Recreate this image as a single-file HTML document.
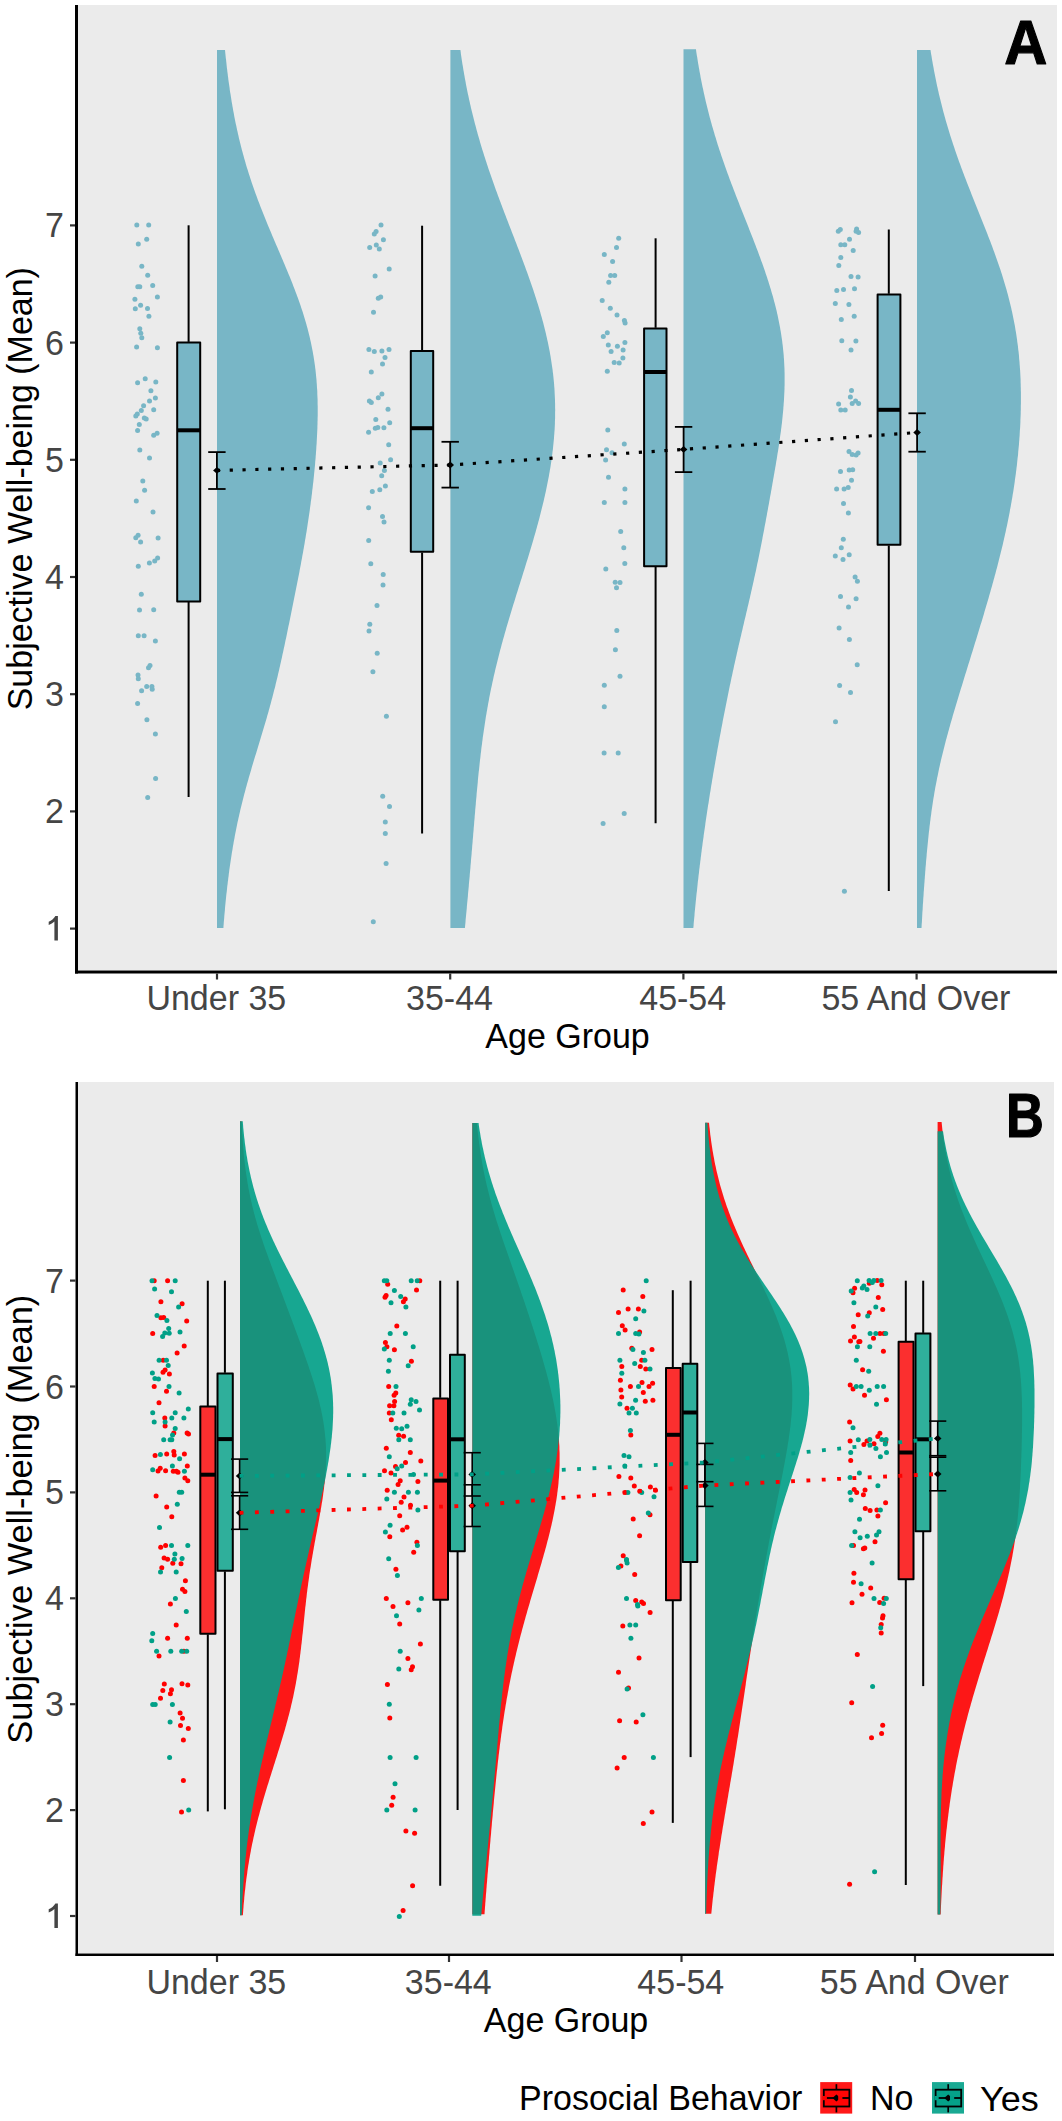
<!DOCTYPE html>
<html><head><meta charset="utf-8"><title>Raincloud plots</title>
<style>html,body{margin:0;padding:0;background:#fff;} body{width:1062px;height:2121px;overflow:hidden;} svg{display:block;}</style>
</head><body>
<svg xmlns="http://www.w3.org/2000/svg" width="1062" height="2121" viewBox="0 0 1062 2121">
<rect x="0" y="0" width="1062" height="2121" fill="#FFFFFF"/>
<g font-family='"Liberation Sans", sans-serif'>
<rect x="78" y="5" width="979" height="965" fill="#EBEBEB"/>
<circle cx="136.8" cy="225.0" r="2.5" fill="#78B6C6"/>
<circle cx="148.7" cy="225.0" r="2.5" fill="#78B6C6"/>
<circle cx="146.7" cy="239.2" r="2.5" fill="#78B6C6"/>
<circle cx="138.3" cy="243.9" r="2.5" fill="#78B6C6"/>
<circle cx="141.8" cy="266.2" r="2.5" fill="#78B6C6"/>
<circle cx="147.7" cy="275.3" r="2.5" fill="#78B6C6"/>
<circle cx="137.8" cy="286.7" r="2.5" fill="#78B6C6"/>
<circle cx="139.8" cy="286.7" r="2.5" fill="#78B6C6"/>
<circle cx="152.7" cy="285.4" r="2.5" fill="#78B6C6"/>
<circle cx="157.4" cy="296.9" r="2.5" fill="#78B6C6"/>
<circle cx="134.9" cy="299.3" r="2.5" fill="#78B6C6"/>
<circle cx="140.6" cy="305.2" r="2.5" fill="#78B6C6"/>
<circle cx="135.3" cy="308.8" r="2.5" fill="#78B6C6"/>
<circle cx="147.5" cy="308.5" r="2.5" fill="#78B6C6"/>
<circle cx="148.9" cy="316.2" r="2.5" fill="#78B6C6"/>
<circle cx="139.8" cy="328.8" r="2.5" fill="#78B6C6"/>
<circle cx="140.8" cy="333.3" r="2.5" fill="#78B6C6"/>
<circle cx="141.8" cy="337.7" r="2.5" fill="#78B6C6"/>
<circle cx="136.6" cy="347.1" r="2.5" fill="#78B6C6"/>
<circle cx="157.4" cy="347.8" r="2.5" fill="#78B6C6"/>
<circle cx="145.2" cy="378.8" r="2.5" fill="#78B6C6"/>
<circle cx="137.6" cy="382.8" r="2.5" fill="#78B6C6"/>
<circle cx="155.8" cy="382.1" r="2.5" fill="#78B6C6"/>
<circle cx="150.9" cy="390.7" r="2.5" fill="#78B6C6"/>
<circle cx="155.4" cy="397.9" r="2.5" fill="#78B6C6"/>
<circle cx="149.5" cy="400.9" r="2.5" fill="#78B6C6"/>
<circle cx="143.6" cy="405.8" r="2.5" fill="#78B6C6"/>
<circle cx="141.3" cy="410.5" r="2.5" fill="#78B6C6"/>
<circle cx="153.7" cy="409.8" r="2.5" fill="#78B6C6"/>
<circle cx="137.3" cy="414" r="2.5" fill="#78B6C6"/>
<circle cx="135.8" cy="416" r="2.5" fill="#78B6C6"/>
<circle cx="144.3" cy="417.9" r="2.5" fill="#78B6C6"/>
<circle cx="146.2" cy="418.9" r="2.5" fill="#78B6C6"/>
<circle cx="139.3" cy="424.4" r="2.5" fill="#78B6C6"/>
<circle cx="137.6" cy="430.6" r="2.5" fill="#78B6C6"/>
<circle cx="153.7" cy="435.2" r="2.5" fill="#78B6C6"/>
<circle cx="157.1" cy="433.3" r="2.5" fill="#78B6C6"/>
<circle cx="139.8" cy="450.1" r="2.5" fill="#78B6C6"/>
<circle cx="149.5" cy="458" r="2.5" fill="#78B6C6"/>
<circle cx="142.8" cy="481.1" r="2.5" fill="#78B6C6"/>
<circle cx="144.6" cy="490.2" r="2.5" fill="#78B6C6"/>
<circle cx="136.3" cy="500.9" r="2.5" fill="#78B6C6"/>
<circle cx="153" cy="512" r="2.5" fill="#78B6C6"/>
<circle cx="135.8" cy="537.7" r="2.5" fill="#78B6C6"/>
<circle cx="138.1" cy="535.2" r="2.5" fill="#78B6C6"/>
<circle cx="140.6" cy="542" r="2.5" fill="#78B6C6"/>
<circle cx="158.1" cy="538" r="2.5" fill="#78B6C6"/>
<circle cx="149.4" cy="563" r="2.5" fill="#78B6C6"/>
<circle cx="154.7" cy="561" r="2.5" fill="#78B6C6"/>
<circle cx="157.6" cy="558" r="2.5" fill="#78B6C6"/>
<circle cx="138.3" cy="566.2" r="2.5" fill="#78B6C6"/>
<circle cx="141.3" cy="594.2" r="2.5" fill="#78B6C6"/>
<circle cx="139.5" cy="610" r="2.5" fill="#78B6C6"/>
<circle cx="153.7" cy="609.8" r="2.5" fill="#78B6C6"/>
<circle cx="138.3" cy="635.7" r="2.5" fill="#78B6C6"/>
<circle cx="144.1" cy="635.7" r="2.5" fill="#78B6C6"/>
<circle cx="155.4" cy="641" r="2.5" fill="#78B6C6"/>
<circle cx="150" cy="665.4" r="2.5" fill="#78B6C6"/>
<circle cx="148.5" cy="667.7" r="2.5" fill="#78B6C6"/>
<circle cx="138" cy="674.9" r="2.5" fill="#78B6C6"/>
<circle cx="138.3" cy="678.8" r="2.5" fill="#78B6C6"/>
<circle cx="146.7" cy="686.4" r="2.5" fill="#78B6C6"/>
<circle cx="151.9" cy="686.4" r="2.5" fill="#78B6C6"/>
<circle cx="152.2" cy="689.2" r="2.5" fill="#78B6C6"/>
<circle cx="141.6" cy="690.7" r="2.5" fill="#78B6C6"/>
<circle cx="137.6" cy="703.4" r="2.5" fill="#78B6C6"/>
<circle cx="146.9" cy="719.7" r="2.5" fill="#78B6C6"/>
<circle cx="155.4" cy="734" r="2.5" fill="#78B6C6"/>
<circle cx="155.6" cy="778.6" r="2.5" fill="#78B6C6"/>
<circle cx="147.7" cy="797.4" r="2.5" fill="#78B6C6"/>
<circle cx="381" cy="225" r="2.5" fill="#78B6C6"/>
<circle cx="376.1" cy="231.6" r="2.5" fill="#78B6C6"/>
<circle cx="374.3" cy="234.1" r="2.5" fill="#78B6C6"/>
<circle cx="383.4" cy="239.7" r="2.5" fill="#78B6C6"/>
<circle cx="369.7" cy="247.4" r="2.5" fill="#78B6C6"/>
<circle cx="376.3" cy="244.9" r="2.5" fill="#78B6C6"/>
<circle cx="379.3" cy="248.9" r="2.5" fill="#78B6C6"/>
<circle cx="389.2" cy="269.1" r="2.5" fill="#78B6C6"/>
<circle cx="375.1" cy="276.1" r="2.5" fill="#78B6C6"/>
<circle cx="380.7" cy="297.1" r="2.5" fill="#78B6C6"/>
<circle cx="378.3" cy="298.3" r="2.5" fill="#78B6C6"/>
<circle cx="373.5" cy="312.3" r="2.5" fill="#78B6C6"/>
<circle cx="368.9" cy="349.6" r="2.5" fill="#78B6C6"/>
<circle cx="374.3" cy="351.4" r="2.5" fill="#78B6C6"/>
<circle cx="381.9" cy="351.1" r="2.5" fill="#78B6C6"/>
<circle cx="389" cy="349.6" r="2.5" fill="#78B6C6"/>
<circle cx="385" cy="357.5" r="2.5" fill="#78B6C6"/>
<circle cx="382.5" cy="364" r="2.5" fill="#78B6C6"/>
<circle cx="371.3" cy="371.9" r="2.5" fill="#78B6C6"/>
<circle cx="381.9" cy="394" r="2.5" fill="#78B6C6"/>
<circle cx="378.3" cy="397.8" r="2.5" fill="#78B6C6"/>
<circle cx="369.4" cy="401.1" r="2.5" fill="#78B6C6"/>
<circle cx="371.3" cy="402.6" r="2.5" fill="#78B6C6"/>
<circle cx="388" cy="409.3" r="2.5" fill="#78B6C6"/>
<circle cx="375.8" cy="419.4" r="2.5" fill="#78B6C6"/>
<circle cx="389.7" cy="422.7" r="2.5" fill="#78B6C6"/>
<circle cx="375.3" cy="428.3" r="2.5" fill="#78B6C6"/>
<circle cx="377.8" cy="427.6" r="2.5" fill="#78B6C6"/>
<circle cx="383.9" cy="427.8" r="2.5" fill="#78B6C6"/>
<circle cx="368.6" cy="432.3" r="2.5" fill="#78B6C6"/>
<circle cx="388.7" cy="444.7" r="2.5" fill="#78B6C6"/>
<circle cx="390.6" cy="459.7" r="2.5" fill="#78B6C6"/>
<circle cx="380.2" cy="463" r="2.5" fill="#78B6C6"/>
<circle cx="384.4" cy="470.6" r="2.5" fill="#78B6C6"/>
<circle cx="381.7" cy="475.8" r="2.5" fill="#78B6C6"/>
<circle cx="385.4" cy="486" r="2.5" fill="#78B6C6"/>
<circle cx="379.8" cy="489.7" r="2.5" fill="#78B6C6"/>
<circle cx="372.3" cy="491.4" r="2.5" fill="#78B6C6"/>
<circle cx="368.6" cy="507.8" r="2.5" fill="#78B6C6"/>
<circle cx="382.5" cy="516.4" r="2.5" fill="#78B6C6"/>
<circle cx="384" cy="522.1" r="2.5" fill="#78B6C6"/>
<circle cx="368.7" cy="540.5" r="2.5" fill="#78B6C6"/>
<circle cx="370.8" cy="563.7" r="2.5" fill="#78B6C6"/>
<circle cx="383.2" cy="574.4" r="2.5" fill="#78B6C6"/>
<circle cx="383" cy="585" r="2.5" fill="#78B6C6"/>
<circle cx="377" cy="605.5" r="2.5" fill="#78B6C6"/>
<circle cx="369.8" cy="624.3" r="2.5" fill="#78B6C6"/>
<circle cx="369" cy="631" r="2.5" fill="#78B6C6"/>
<circle cx="377.2" cy="653.2" r="2.5" fill="#78B6C6"/>
<circle cx="372.9" cy="671.7" r="2.5" fill="#78B6C6"/>
<circle cx="386.4" cy="716.2" r="2.5" fill="#78B6C6"/>
<circle cx="382.7" cy="796.2" r="2.5" fill="#78B6C6"/>
<circle cx="389.5" cy="806.6" r="2.5" fill="#78B6C6"/>
<circle cx="385.3" cy="821.9" r="2.5" fill="#78B6C6"/>
<circle cx="385.3" cy="833.4" r="2.5" fill="#78B6C6"/>
<circle cx="386.1" cy="863.4" r="2.5" fill="#78B6C6"/>
<circle cx="373.3" cy="921.7" r="2.5" fill="#78B6C6"/>
<circle cx="618.7" cy="238.3" r="2.5" fill="#78B6C6"/>
<circle cx="616.5" cy="247.5" r="2.5" fill="#78B6C6"/>
<circle cx="604.3" cy="254.5" r="2.5" fill="#78B6C6"/>
<circle cx="612.6" cy="261.4" r="2.5" fill="#78B6C6"/>
<circle cx="610.6" cy="275.6" r="2.5" fill="#78B6C6"/>
<circle cx="614.7" cy="275.6" r="2.5" fill="#78B6C6"/>
<circle cx="608.8" cy="282.2" r="2.5" fill="#78B6C6"/>
<circle cx="602.2" cy="300.4" r="2.5" fill="#78B6C6"/>
<circle cx="610.3" cy="308.3" r="2.5" fill="#78B6C6"/>
<circle cx="617" cy="314.9" r="2.5" fill="#78B6C6"/>
<circle cx="624.4" cy="320.5" r="2.5" fill="#78B6C6"/>
<circle cx="625.1" cy="323" r="2.5" fill="#78B6C6"/>
<circle cx="607.3" cy="332.7" r="2.5" fill="#78B6C6"/>
<circle cx="603.3" cy="336.6" r="2.5" fill="#78B6C6"/>
<circle cx="608.3" cy="345" r="2.5" fill="#78B6C6"/>
<circle cx="624.9" cy="342.5" r="2.5" fill="#78B6C6"/>
<circle cx="617.4" cy="346.2" r="2.5" fill="#78B6C6"/>
<circle cx="611.1" cy="351.5" r="2.5" fill="#78B6C6"/>
<circle cx="623.1" cy="349.9" r="2.5" fill="#78B6C6"/>
<circle cx="622.9" cy="358.1" r="2.5" fill="#78B6C6"/>
<circle cx="614.2" cy="362.6" r="2.5" fill="#78B6C6"/>
<circle cx="619.2" cy="363.1" r="2.5" fill="#78B6C6"/>
<circle cx="607.3" cy="371.3" r="2.5" fill="#78B6C6"/>
<circle cx="607.8" cy="429.9" r="2.5" fill="#78B6C6"/>
<circle cx="624.3" cy="444" r="2.5" fill="#78B6C6"/>
<circle cx="606.5" cy="449.7" r="2.5" fill="#78B6C6"/>
<circle cx="612" cy="452.7" r="2.5" fill="#78B6C6"/>
<circle cx="605.6" cy="459.9" r="2.5" fill="#78B6C6"/>
<circle cx="608.5" cy="477.2" r="2.5" fill="#78B6C6"/>
<circle cx="624.9" cy="489" r="2.5" fill="#78B6C6"/>
<circle cx="604.3" cy="502.4" r="2.5" fill="#78B6C6"/>
<circle cx="624.9" cy="502.4" r="2.5" fill="#78B6C6"/>
<circle cx="620.7" cy="531.4" r="2.5" fill="#78B6C6"/>
<circle cx="623.8" cy="547.7" r="2.5" fill="#78B6C6"/>
<circle cx="624.8" cy="563.6" r="2.5" fill="#78B6C6"/>
<circle cx="605.8" cy="569" r="2.5" fill="#78B6C6"/>
<circle cx="615.2" cy="582.2" r="2.5" fill="#78B6C6"/>
<circle cx="620" cy="582.4" r="2.5" fill="#78B6C6"/>
<circle cx="616.5" cy="587.8" r="2.5" fill="#78B6C6"/>
<circle cx="616.8" cy="630.5" r="2.5" fill="#78B6C6"/>
<circle cx="615.4" cy="649.7" r="2.5" fill="#78B6C6"/>
<circle cx="620" cy="676.2" r="2.5" fill="#78B6C6"/>
<circle cx="604.3" cy="685.3" r="2.5" fill="#78B6C6"/>
<circle cx="604.3" cy="706.7" r="2.5" fill="#78B6C6"/>
<circle cx="604.1" cy="753" r="2.5" fill="#78B6C6"/>
<circle cx="618.2" cy="753" r="2.5" fill="#78B6C6"/>
<circle cx="624.2" cy="813.4" r="2.5" fill="#78B6C6"/>
<circle cx="603.1" cy="823.5" r="2.5" fill="#78B6C6"/>
<circle cx="838.3" cy="231.3" r="2.5" fill="#78B6C6"/>
<circle cx="840.3" cy="229.4" r="2.5" fill="#78B6C6"/>
<circle cx="856.6" cy="228.9" r="2.5" fill="#78B6C6"/>
<circle cx="856.1" cy="231.3" r="2.5" fill="#78B6C6"/>
<circle cx="858.6" cy="232.6" r="2.5" fill="#78B6C6"/>
<circle cx="849.5" cy="239.3" r="2.5" fill="#78B6C6"/>
<circle cx="840.8" cy="244.7" r="2.5" fill="#78B6C6"/>
<circle cx="844.8" cy="244.7" r="2.5" fill="#78B6C6"/>
<circle cx="853.2" cy="250.6" r="2.5" fill="#78B6C6"/>
<circle cx="840.8" cy="257.6" r="2.5" fill="#78B6C6"/>
<circle cx="838.8" cy="265.5" r="2.5" fill="#78B6C6"/>
<circle cx="851" cy="276.4" r="2.5" fill="#78B6C6"/>
<circle cx="858.1" cy="276.9" r="2.5" fill="#78B6C6"/>
<circle cx="836.8" cy="290.4" r="2.5" fill="#78B6C6"/>
<circle cx="843.5" cy="289.5" r="2.5" fill="#78B6C6"/>
<circle cx="854.5" cy="288.8" r="2.5" fill="#78B6C6"/>
<circle cx="835.3" cy="303.6" r="2.5" fill="#78B6C6"/>
<circle cx="848.9" cy="304.6" r="2.5" fill="#78B6C6"/>
<circle cx="854.2" cy="316.3" r="2.5" fill="#78B6C6"/>
<circle cx="841.3" cy="319.5" r="2.5" fill="#78B6C6"/>
<circle cx="841.8" cy="340.7" r="2.5" fill="#78B6C6"/>
<circle cx="855.9" cy="340.9" r="2.5" fill="#78B6C6"/>
<circle cx="851" cy="350" r="2.5" fill="#78B6C6"/>
<circle cx="851.5" cy="390.4" r="2.5" fill="#78B6C6"/>
<circle cx="850.4" cy="397" r="2.5" fill="#78B6C6"/>
<circle cx="838.6" cy="404.1" r="2.5" fill="#78B6C6"/>
<circle cx="852.2" cy="403.6" r="2.5" fill="#78B6C6"/>
<circle cx="855.6" cy="401.1" r="2.5" fill="#78B6C6"/>
<circle cx="858.6" cy="403.6" r="2.5" fill="#78B6C6"/>
<circle cx="840.8" cy="410" r="2.5" fill="#78B6C6"/>
<circle cx="845.2" cy="410" r="2.5" fill="#78B6C6"/>
<circle cx="849" cy="451.4" r="2.5" fill="#78B6C6"/>
<circle cx="852.2" cy="454.6" r="2.5" fill="#78B6C6"/>
<circle cx="856.1" cy="455.1" r="2.5" fill="#78B6C6"/>
<circle cx="858.1" cy="453.1" r="2.5" fill="#78B6C6"/>
<circle cx="840.5" cy="471.4" r="2.5" fill="#78B6C6"/>
<circle cx="849.2" cy="470.1" r="2.5" fill="#78B6C6"/>
<circle cx="852.7" cy="469.7" r="2.5" fill="#78B6C6"/>
<circle cx="851.5" cy="480.3" r="2.5" fill="#78B6C6"/>
<circle cx="836.6" cy="489.1" r="2.5" fill="#78B6C6"/>
<circle cx="844.1" cy="489.1" r="2.5" fill="#78B6C6"/>
<circle cx="848.2" cy="487.5" r="2.5" fill="#78B6C6"/>
<circle cx="843.5" cy="503.6" r="2.5" fill="#78B6C6"/>
<circle cx="848.4" cy="513" r="2.5" fill="#78B6C6"/>
<circle cx="843.3" cy="539.3" r="2.5" fill="#78B6C6"/>
<circle cx="841.3" cy="547.7" r="2.5" fill="#78B6C6"/>
<circle cx="835.3" cy="556.1" r="2.5" fill="#78B6C6"/>
<circle cx="843" cy="559.6" r="2.5" fill="#78B6C6"/>
<circle cx="849.2" cy="554.8" r="2.5" fill="#78B6C6"/>
<circle cx="855.1" cy="576.9" r="2.5" fill="#78B6C6"/>
<circle cx="857.4" cy="581.3" r="2.5" fill="#78B6C6"/>
<circle cx="840.5" cy="596.4" r="2.5" fill="#78B6C6"/>
<circle cx="856.1" cy="598.7" r="2.5" fill="#78B6C6"/>
<circle cx="848.5" cy="607.1" r="2.5" fill="#78B6C6"/>
<circle cx="839.1" cy="628.1" r="2.5" fill="#78B6C6"/>
<circle cx="849.4" cy="639.4" r="2.5" fill="#78B6C6"/>
<circle cx="857.2" cy="664.8" r="2.5" fill="#78B6C6"/>
<circle cx="839.6" cy="685.6" r="2.5" fill="#78B6C6"/>
<circle cx="850.5" cy="692.6" r="2.5" fill="#78B6C6"/>
<circle cx="835.5" cy="721.7" r="2.5" fill="#78B6C6"/>
<circle cx="844.4" cy="891.2" r="2.5" fill="#78B6C6"/>
<line x1="188.6" y1="225.3" x2="188.6" y2="341.9" stroke="#000" stroke-width="2"/>
<line x1="188.6" y1="602.0" x2="188.6" y2="797.0" stroke="#000" stroke-width="2"/>
<rect x="177.2" y="342.5" width="23.0" height="258.9" fill="#78B6C6" stroke="#000" stroke-width="2" stroke-linejoin="round"/>
<line x1="177.2" y1="430.3" x2="200.2" y2="430.3" stroke="#000" stroke-width="4"/>
<line x1="422.1" y1="225.7" x2="422.1" y2="350.3" stroke="#000" stroke-width="2"/>
<line x1="422.1" y1="552.4" x2="422.1" y2="833.4" stroke="#000" stroke-width="2"/>
<rect x="410.8" y="350.9" width="22.4" height="200.9" fill="#78B6C6" stroke="#000" stroke-width="2" stroke-linejoin="round"/>
<line x1="410.8" y1="428.2" x2="433.2" y2="428.2" stroke="#000" stroke-width="4"/>
<line x1="655.6" y1="238.3" x2="655.6" y2="327.8" stroke="#000" stroke-width="2"/>
<line x1="655.6" y1="566.9" x2="655.6" y2="823.3" stroke="#000" stroke-width="2"/>
<rect x="644.1" y="328.4" width="22.4" height="237.9" fill="#78B6C6" stroke="#000" stroke-width="2" stroke-linejoin="round"/>
<line x1="644.1" y1="372.0" x2="666.5" y2="372.0" stroke="#000" stroke-width="4"/>
<line x1="888.8" y1="229.5" x2="888.8" y2="293.8" stroke="#000" stroke-width="2"/>
<line x1="888.8" y1="545.4" x2="888.8" y2="891.1" stroke="#000" stroke-width="2"/>
<rect x="877.6" y="294.4" width="22.8" height="250.4" fill="#78B6C6" stroke="#000" stroke-width="2" stroke-linejoin="round"/>
<line x1="877.6" y1="409.8" x2="900.4" y2="409.8" stroke="#000" stroke-width="4"/>
<path d="M217.0,49.9 L225.0,49.9 L225.2,51.9 L225.4,53.9 L225.6,55.9 L225.8,57.9 L226.1,59.9 L226.3,61.9 L226.5,63.9 L226.7,65.9 L226.9,67.9 L227.2,69.9 L227.4,71.9 L227.7,73.9 L227.9,75.9 L228.2,77.9 L228.4,79.9 L228.7,81.9 L229.0,83.9 L229.3,85.9 L229.6,87.9 L229.8,89.9 L230.1,91.9 L230.5,93.9 L230.8,95.9 L231.1,97.9 L231.4,99.9 L231.7,101.9 L232.1,103.9 L232.4,105.9 L232.8,107.9 L233.1,109.9 L233.5,111.9 L233.9,113.9 L234.2,115.9 L234.6,117.9 L235.0,119.9 L235.4,121.9 L235.8,123.9 L236.3,125.9 L236.7,127.9 L237.1,129.9 L237.6,131.9 L238.0,133.9 L238.5,135.9 L238.9,137.9 L239.4,139.9 L239.9,141.9 L240.4,143.9 L240.9,145.9 L241.4,147.9 L241.9,149.9 L242.5,151.9 L243.0,153.9 L243.6,155.9 L244.1,157.9 L244.7,159.9 L245.3,161.9 L245.8,163.9 L246.4,165.9 L247.0,167.9 L247.7,169.9 L248.3,171.9 L248.9,173.9 L249.6,175.9 L250.2,177.9 L250.9,179.9 L251.5,181.9 L252.2,183.9 L252.9,185.9 L253.6,187.9 L254.3,189.9 L255.0,191.9 L255.7,193.9 L256.5,195.9 L257.2,197.9 L257.9,199.9 L258.7,201.9 L259.5,203.9 L260.2,205.9 L261.0,207.9 L261.8,209.9 L262.6,211.9 L263.4,213.9 L264.2,215.9 L265.0,217.9 L265.8,219.9 L266.6,221.9 L267.4,223.9 L268.2,225.9 L269.1,227.9 L269.9,229.9 L270.8,231.9 L271.6,233.9 L272.4,235.9 L273.3,237.9 L274.1,239.9 L275.0,241.9 L275.8,243.9 L276.7,245.9 L277.6,247.9 L278.4,249.9 L279.3,251.9 L280.1,253.9 L281.0,255.9 L281.8,257.9 L282.7,259.9 L283.5,261.9 L284.4,263.9 L285.2,265.9 L286.0,267.9 L286.9,269.9 L287.7,271.9 L288.5,273.9 L289.4,275.9 L290.2,277.9 L291.0,279.9 L291.8,281.9 L292.6,283.9 L293.3,285.9 L294.1,287.9 L294.9,289.9 L295.6,291.9 L296.4,293.9 L297.1,295.9 L297.9,297.9 L298.6,299.9 L299.3,301.9 L300.0,303.9 L300.7,305.9 L301.3,307.9 L302.0,309.9 L302.7,311.9 L303.3,313.9 L303.9,315.9 L304.5,317.9 L305.1,319.9 L305.7,321.9 L306.3,323.9 L306.8,325.9 L307.4,327.9 L307.9,329.9 L308.4,331.9 L308.9,333.9 L309.4,335.9 L309.9,337.9 L310.3,339.9 L310.8,341.9 L311.2,343.9 L311.6,345.9 L312.0,347.9 L312.4,349.9 L312.8,351.9 L313.1,353.9 L313.5,355.9 L313.8,357.9 L314.1,359.9 L314.4,361.9 L314.7,363.9 L315.0,365.9 L315.2,367.9 L315.5,369.9 L315.7,371.9 L315.9,373.9 L316.1,375.9 L316.3,377.9 L316.5,379.9 L316.6,381.9 L316.8,383.9 L316.9,385.9 L317.0,387.9 L317.2,389.9 L317.3,391.9 L317.3,393.9 L317.4,395.9 L317.5,397.9 L317.6,399.9 L317.6,401.9 L317.6,403.9 L317.7,405.9 L317.7,407.9 L317.7,409.9 L317.7,411.9 L317.7,413.9 L317.7,415.9 L317.6,417.9 L317.6,419.9 L317.5,421.9 L317.5,423.9 L317.4,425.9 L317.4,427.9 L317.3,429.9 L317.2,431.9 L317.1,433.9 L317.0,435.9 L316.9,437.9 L316.8,439.9 L316.7,441.9 L316.6,443.9 L316.4,445.9 L316.3,447.9 L316.2,449.9 L316.0,451.9 L315.9,453.9 L315.7,455.9 L315.6,457.9 L315.4,459.9 L315.2,461.9 L315.1,463.9 L314.9,465.9 L314.7,467.9 L314.5,469.9 L314.3,471.9 L314.1,473.9 L313.9,475.9 L313.7,477.9 L313.5,479.9 L313.3,481.9 L313.0,483.9 L312.8,485.9 L312.6,487.9 L312.3,489.9 L312.1,491.9 L311.9,493.9 L311.6,495.9 L311.4,497.9 L311.1,499.9 L310.8,501.9 L310.6,503.9 L310.3,505.9 L310.0,507.9 L309.8,509.9 L309.5,511.9 L309.2,513.9 L308.9,515.9 L308.6,517.9 L308.3,519.9 L308.0,521.9 L307.7,523.9 L307.4,525.9 L307.1,527.9 L306.8,529.9 L306.5,531.9 L306.1,533.9 L305.8,535.9 L305.5,537.9 L305.1,539.9 L304.8,541.9 L304.5,543.9 L304.1,545.9 L303.8,547.9 L303.4,549.9 L303.1,551.9 L302.7,553.9 L302.3,555.9 L302.0,557.9 L301.6,559.9 L301.2,561.9 L300.9,563.9 L300.5,565.9 L300.1,567.9 L299.7,569.9 L299.4,571.9 L299.0,573.9 L298.6,575.9 L298.2,577.9 L297.8,579.9 L297.4,581.9 L297.0,583.9 L296.6,585.9 L296.2,587.9 L295.8,589.9 L295.4,591.9 L295.0,593.9 L294.6,595.9 L294.2,597.9 L293.8,599.9 L293.4,601.9 L293.0,603.9 L292.6,605.9 L292.2,607.9 L291.8,609.9 L291.4,611.9 L291.0,613.9 L290.6,615.9 L290.2,617.9 L289.8,619.9 L289.4,621.9 L289.0,623.9 L288.5,625.9 L288.1,627.9 L287.7,629.9 L287.3,631.9 L286.9,633.9 L286.5,635.9 L286.1,637.9 L285.6,639.9 L285.2,641.9 L284.8,643.9 L284.4,645.9 L283.9,647.9 L283.5,649.9 L283.1,651.9 L282.6,653.9 L282.2,655.9 L281.8,657.9 L281.3,659.9 L280.9,661.9 L280.4,663.9 L280.0,665.9 L279.5,667.9 L279.1,669.9 L278.6,671.9 L278.1,673.9 L277.7,675.9 L277.2,677.9 L276.7,679.9 L276.2,681.9 L275.7,683.9 L275.3,685.9 L274.8,687.9 L274.2,689.9 L273.7,691.9 L273.2,693.9 L272.7,695.9 L272.2,697.9 L271.6,699.9 L271.1,701.9 L270.6,703.9 L270.0,705.9 L269.5,707.9 L268.9,709.9 L268.4,711.9 L267.8,713.9 L267.2,715.9 L266.7,717.9 L266.1,719.9 L265.5,721.9 L264.9,723.9 L264.3,725.9 L263.7,727.9 L263.1,729.9 L262.5,731.9 L261.9,733.9 L261.3,735.9 L260.7,737.9 L260.1,739.9 L259.5,741.9 L258.9,743.9 L258.3,745.9 L257.7,747.9 L257.1,749.9 L256.5,751.9 L255.9,753.9 L255.2,755.9 L254.6,757.9 L254.0,759.9 L253.4,761.9 L252.8,763.9 L252.2,765.9 L251.6,767.9 L251.1,769.9 L250.5,771.9 L249.9,773.9 L249.3,775.9 L248.7,777.9 L248.2,779.9 L247.6,781.9 L247.0,783.9 L246.5,785.9 L245.9,787.9 L245.4,789.9 L244.9,791.9 L244.3,793.9 L243.8,795.9 L243.3,797.9 L242.8,799.9 L242.3,801.9 L241.8,803.9 L241.3,805.9 L240.8,807.9 L240.3,809.9 L239.9,811.9 L239.4,813.9 L239.0,815.9 L238.5,817.9 L238.1,819.9 L237.6,821.9 L237.2,823.9 L236.8,825.9 L236.4,827.9 L236.0,829.9 L235.6,831.9 L235.2,833.9 L234.8,835.9 L234.5,837.9 L234.1,839.9 L233.7,841.9 L233.4,843.9 L233.0,845.9 L232.7,847.9 L232.4,849.9 L232.0,851.9 L231.7,853.9 L231.4,855.9 L231.1,857.9 L230.8,859.9 L230.5,861.9 L230.2,863.9 L229.9,865.9 L229.6,867.9 L229.3,869.9 L229.1,871.9 L228.8,873.9 L228.6,875.9 L228.3,877.9 L228.1,879.9 L227.8,881.9 L227.6,883.9 L227.3,885.9 L227.1,887.9 L226.9,889.9 L226.7,891.9 L226.4,893.9 L226.2,895.9 L226.0,897.9 L225.8,899.9 L225.6,901.9 L225.4,903.9 L225.2,905.9 L225.0,907.9 L224.9,909.9 L224.7,911.9 L224.5,913.9 L224.3,915.9 L224.2,917.9 L224.0,919.9 L223.8,921.9 L223.7,923.9 L223.5,925.9 L223.4,927.9 L223.3,928.0 L217.0,928.0 Z" fill="#78B6C6"/>
<path d="M450.4,49.9 L460.4,49.9 L460.7,51.9 L460.9,53.9 L461.2,55.9 L461.5,57.9 L461.8,59.9 L462.1,61.9 L462.4,63.9 L462.8,65.9 L463.1,67.9 L463.4,69.9 L463.8,71.9 L464.1,73.9 L464.5,75.9 L464.8,77.9 L465.2,79.9 L465.6,81.9 L465.9,83.9 L466.3,85.9 L466.7,87.9 L467.1,89.9 L467.5,91.9 L467.9,93.9 L468.4,95.9 L468.8,97.9 L469.2,99.9 L469.7,101.9 L470.1,103.9 L470.6,105.9 L471.0,107.9 L471.5,109.9 L472.0,111.9 L472.5,113.9 L473.0,115.9 L473.5,117.9 L474.0,119.9 L474.5,121.9 L475.0,123.9 L475.6,125.9 L476.1,127.9 L476.6,129.9 L477.2,131.9 L477.7,133.9 L478.3,135.9 L478.9,137.9 L479.5,139.9 L480.0,141.9 L480.6,143.9 L481.2,145.9 L481.8,147.9 L482.4,149.9 L483.1,151.9 L483.7,153.9 L484.3,155.9 L485.0,157.9 L485.6,159.9 L486.3,161.9 L486.9,163.9 L487.6,165.9 L488.2,167.9 L488.9,169.9 L489.6,171.9 L490.3,173.9 L491.0,175.9 L491.7,177.9 L492.4,179.9 L493.1,181.9 L493.8,183.9 L494.5,185.9 L495.2,187.9 L495.9,189.9 L496.7,191.9 L497.4,193.9 L498.1,195.9 L498.9,197.9 L499.6,199.9 L500.4,201.9 L501.1,203.9 L501.9,205.9 L502.6,207.9 L503.4,209.9 L504.1,211.9 L504.9,213.9 L505.7,215.9 L506.4,217.9 L507.2,219.9 L508.0,221.9 L508.7,223.9 L509.5,225.9 L510.3,227.9 L511.1,229.9 L511.8,231.9 L512.6,233.9 L513.4,235.9 L514.2,237.9 L514.9,239.9 L515.7,241.9 L516.5,243.9 L517.2,245.9 L518.0,247.9 L518.8,249.9 L519.5,251.9 L520.3,253.9 L521.0,255.9 L521.8,257.9 L522.5,259.9 L523.3,261.9 L524.0,263.9 L524.8,265.9 L525.5,267.9 L526.2,269.9 L527.0,271.9 L527.7,273.9 L528.4,275.9 L529.1,277.9 L529.8,279.9 L530.5,281.9 L531.2,283.9 L531.9,285.9 L532.6,287.9 L533.3,289.9 L533.9,291.9 L534.6,293.9 L535.2,295.9 L535.9,297.9 L536.5,299.9 L537.1,301.9 L537.8,303.9 L538.4,305.9 L539.0,307.9 L539.6,309.9 L540.2,311.9 L540.7,313.9 L541.3,315.9 L541.9,317.9 L542.4,319.9 L543.0,321.9 L543.5,323.9 L544.0,325.9 L544.5,327.9 L545.0,329.9 L545.5,331.9 L546.0,333.9 L546.4,335.9 L546.9,337.9 L547.3,339.9 L547.8,341.9 L548.2,343.9 L548.6,345.9 L549.0,347.9 L549.4,349.9 L549.8,351.9 L550.1,353.9 L550.5,355.9 L550.8,357.9 L551.1,359.9 L551.4,361.9 L551.7,363.9 L552.0,365.9 L552.3,367.9 L552.6,369.9 L552.8,371.9 L553.1,373.9 L553.3,375.9 L553.5,377.9 L553.7,379.9 L553.9,381.9 L554.1,383.9 L554.2,385.9 L554.4,387.9 L554.5,389.9 L554.6,391.9 L554.7,393.9 L554.8,395.9 L554.9,397.9 L555.0,399.9 L555.0,401.9 L555.1,403.9 L555.1,405.9 L555.1,407.9 L555.2,409.9 L555.1,411.9 L555.1,413.9 L555.1,415.9 L555.1,417.9 L555.0,419.9 L554.9,421.9 L554.9,423.9 L554.8,425.9 L554.7,427.9 L554.6,429.9 L554.4,431.9 L554.3,433.9 L554.1,435.9 L554.0,437.9 L553.8,439.9 L553.6,441.9 L553.4,443.9 L553.2,445.9 L553.0,447.9 L552.8,449.9 L552.5,451.9 L552.3,453.9 L552.0,455.9 L551.8,457.9 L551.5,459.9 L551.2,461.9 L550.9,463.9 L550.6,465.9 L550.3,467.9 L549.9,469.9 L549.6,471.9 L549.2,473.9 L548.9,475.9 L548.5,477.9 L548.1,479.9 L547.7,481.9 L547.3,483.9 L546.9,485.9 L546.5,487.9 L546.1,489.9 L545.7,491.9 L545.2,493.9 L544.8,495.9 L544.3,497.9 L543.9,499.9 L543.4,501.9 L542.9,503.9 L542.4,505.9 L541.9,507.9 L541.4,509.9 L540.9,511.9 L540.4,513.9 L539.9,515.9 L539.4,517.9 L538.9,519.9 L538.3,521.9 L537.8,523.9 L537.2,525.9 L536.7,527.9 L536.1,529.9 L535.6,531.9 L535.0,533.9 L534.4,535.9 L533.8,537.9 L533.3,539.9 L532.7,541.9 L532.1,543.9 L531.5,545.9 L530.9,547.9 L530.3,549.9 L529.7,551.9 L529.1,553.9 L528.5,555.9 L527.9,557.9 L527.3,559.9 L526.6,561.9 L526.0,563.9 L525.4,565.9 L524.8,567.9 L524.2,569.9 L523.5,571.9 L522.9,573.9 L522.3,575.9 L521.7,577.9 L521.0,579.9 L520.4,581.9 L519.8,583.9 L519.1,585.9 L518.5,587.9 L517.9,589.9 L517.3,591.9 L516.6,593.9 L516.0,595.9 L515.4,597.9 L514.8,599.9 L514.2,601.9 L513.5,603.9 L512.9,605.9 L512.3,607.9 L511.7,609.9 L511.1,611.9 L510.5,613.9 L509.9,615.9 L509.3,617.9 L508.7,619.9 L508.1,621.9 L507.5,623.9 L506.9,625.9 L506.3,627.9 L505.8,629.9 L505.2,631.9 L504.6,633.9 L504.1,635.9 L503.5,637.9 L502.9,639.9 L502.4,641.9 L501.8,643.9 L501.3,645.9 L500.8,647.9 L500.2,649.9 L499.7,651.9 L499.2,653.9 L498.7,655.9 L498.2,657.9 L497.7,659.9 L497.2,661.9 L496.7,663.9 L496.2,665.9 L495.7,667.9 L495.2,669.9 L494.8,671.9 L494.3,673.9 L493.8,675.9 L493.4,677.9 L493.0,679.9 L492.5,681.9 L492.1,683.9 L491.7,685.9 L491.2,687.9 L490.8,689.9 L490.4,691.9 L490.0,693.9 L489.6,695.9 L489.2,697.9 L488.9,699.9 L488.5,701.9 L488.1,703.9 L487.8,705.9 L487.4,707.9 L487.1,709.9 L486.7,711.9 L486.4,713.9 L486.0,715.9 L485.7,717.9 L485.4,719.9 L485.1,721.9 L484.8,723.9 L484.5,725.9 L484.2,727.9 L483.9,729.9 L483.6,731.9 L483.3,733.9 L483.0,735.9 L482.7,737.9 L482.5,739.9 L482.2,741.9 L482.0,743.9 L481.7,745.9 L481.4,747.9 L481.2,749.9 L481.0,751.9 L480.7,753.9 L480.5,755.9 L480.3,757.9 L480.0,759.9 L479.8,761.9 L479.6,763.9 L479.4,765.9 L479.2,767.9 L479.0,769.9 L478.7,771.9 L478.5,773.9 L478.3,775.9 L478.1,777.9 L477.9,779.9 L477.8,781.9 L477.6,783.9 L477.4,785.9 L477.2,787.9 L477.0,789.9 L476.8,791.9 L476.6,793.9 L476.5,795.9 L476.3,797.9 L476.1,799.9 L475.9,801.9 L475.8,803.9 L475.6,805.9 L475.4,807.9 L475.2,809.9 L475.1,811.9 L474.9,813.9 L474.7,815.9 L474.6,817.9 L474.4,819.9 L474.2,821.9 L474.1,823.9 L473.9,825.9 L473.7,827.9 L473.6,829.9 L473.4,831.9 L473.2,833.9 L473.1,835.9 L472.9,837.9 L472.7,839.9 L472.6,841.9 L472.4,843.9 L472.2,845.9 L472.1,847.9 L471.9,849.9 L471.7,851.9 L471.6,853.9 L471.4,855.9 L471.2,857.9 L471.0,859.9 L470.9,861.9 L470.7,863.9 L470.5,865.9 L470.4,867.9 L470.2,869.9 L470.0,871.9 L469.8,873.9 L469.7,875.9 L469.5,877.9 L469.3,879.9 L469.1,881.9 L468.9,883.9 L468.8,885.9 L468.6,887.9 L468.4,889.9 L468.2,891.9 L468.0,893.9 L467.9,895.9 L467.7,897.9 L467.5,899.9 L467.3,901.9 L467.1,903.9 L466.9,905.9 L466.8,907.9 L466.6,909.9 L466.4,911.9 L466.2,913.9 L466.0,915.9 L465.8,917.9 L465.6,919.9 L465.5,921.9 L465.3,923.9 L465.1,925.9 L464.9,927.9 L464.9,928.0 L450.4,928.0 Z" fill="#78B6C6"/>
<path d="M683.5,49.3 L696.0,49.3 L696.2,51.3 L696.5,53.3 L696.8,55.3 L697.2,57.3 L697.5,59.3 L697.8,61.3 L698.1,63.3 L698.5,65.3 L698.8,67.3 L699.2,69.3 L699.5,71.3 L699.9,73.3 L700.3,75.3 L700.6,77.3 L701.0,79.3 L701.4,81.3 L701.8,83.3 L702.2,85.3 L702.6,87.3 L703.1,89.3 L703.5,91.3 L703.9,93.3 L704.4,95.3 L704.8,97.3 L705.3,99.3 L705.7,101.3 L706.2,103.3 L706.7,105.3 L707.2,107.3 L707.7,109.3 L708.2,111.3 L708.7,113.3 L709.2,115.3 L709.7,117.3 L710.3,119.3 L710.8,121.3 L711.4,123.3 L711.9,125.3 L712.5,127.3 L713.1,129.3 L713.7,131.3 L714.3,133.3 L714.8,135.3 L715.5,137.3 L716.1,139.3 L716.7,141.3 L717.3,143.3 L717.9,145.3 L718.6,147.3 L719.2,149.3 L719.9,151.3 L720.6,153.3 L721.2,155.3 L721.9,157.3 L722.6,159.3 L723.3,161.3 L724.0,163.3 L724.7,165.3 L725.4,167.3 L726.1,169.3 L726.8,171.3 L727.5,173.3 L728.3,175.3 L729.0,177.3 L729.7,179.3 L730.5,181.3 L731.2,183.3 L732.0,185.3 L732.8,187.3 L733.5,189.3 L734.3,191.3 L735.1,193.3 L735.8,195.3 L736.6,197.3 L737.4,199.3 L738.2,201.3 L739.0,203.3 L739.7,205.3 L740.5,207.3 L741.3,209.3 L742.1,211.3 L742.9,213.3 L743.7,215.3 L744.5,217.3 L745.3,219.3 L746.1,221.3 L746.9,223.3 L747.7,225.3 L748.5,227.3 L749.2,229.3 L750.0,231.3 L750.8,233.3 L751.6,235.3 L752.4,237.3 L753.2,239.3 L753.9,241.3 L754.7,243.3 L755.5,245.3 L756.2,247.3 L757.0,249.3 L757.8,251.3 L758.5,253.3 L759.2,255.3 L760.0,257.3 L760.7,259.3 L761.4,261.3 L762.2,263.3 L762.9,265.3 L763.6,267.3 L764.3,269.3 L765.0,271.3 L765.6,273.3 L766.3,275.3 L767.0,277.3 L767.6,279.3 L768.3,281.3 L768.9,283.3 L769.5,285.3 L770.1,287.3 L770.8,289.3 L771.3,291.3 L771.9,293.3 L772.5,295.3 L773.1,297.3 L773.6,299.3 L774.1,301.3 L774.7,303.3 L775.2,305.3 L775.7,307.3 L776.2,309.3 L776.7,311.3 L777.1,313.3 L777.6,315.3 L778.0,317.3 L778.4,319.3 L778.8,321.3 L779.2,323.3 L779.6,325.3 L780.0,327.3 L780.3,329.3 L780.7,331.3 L781.0,333.3 L781.3,335.3 L781.6,337.3 L781.9,339.3 L782.2,341.3 L782.4,343.3 L782.7,345.3 L782.9,347.3 L783.1,349.3 L783.3,351.3 L783.5,353.3 L783.7,355.3 L783.8,357.3 L784.0,359.3 L784.1,361.3 L784.2,363.3 L784.3,365.3 L784.4,367.3 L784.5,369.3 L784.5,371.3 L784.6,373.3 L784.6,375.3 L784.6,377.3 L784.6,379.3 L784.6,381.3 L784.6,383.3 L784.6,385.3 L784.5,387.3 L784.5,389.3 L784.4,391.3 L784.3,393.3 L784.2,395.3 L784.1,397.3 L784.0,399.3 L783.9,401.3 L783.7,403.3 L783.6,405.3 L783.4,407.3 L783.3,409.3 L783.1,411.3 L782.9,413.3 L782.7,415.3 L782.5,417.3 L782.3,419.3 L782.1,421.3 L781.9,423.3 L781.6,425.3 L781.4,427.3 L781.1,429.3 L780.9,431.3 L780.6,433.3 L780.3,435.3 L780.0,437.3 L779.8,439.3 L779.5,441.3 L779.2,443.3 L778.9,445.3 L778.6,447.3 L778.3,449.3 L778.0,451.3 L777.6,453.3 L777.3,455.3 L777.0,457.3 L776.7,459.3 L776.3,461.3 L776.0,463.3 L775.7,465.3 L775.3,467.3 L775.0,469.3 L774.6,471.3 L774.3,473.3 L773.9,475.3 L773.6,477.3 L773.2,479.3 L772.9,481.3 L772.5,483.3 L772.2,485.3 L771.8,487.3 L771.5,489.3 L771.1,491.3 L770.8,493.3 L770.4,495.3 L770.0,497.3 L769.7,499.3 L769.3,501.3 L769.0,503.3 L768.6,505.3 L768.2,507.3 L767.9,509.3 L767.5,511.3 L767.1,513.3 L766.8,515.3 L766.4,517.3 L766.0,519.3 L765.7,521.3 L765.3,523.3 L764.9,525.3 L764.5,527.3 L764.2,529.3 L763.8,531.3 L763.4,533.3 L763.0,535.3 L762.6,537.3 L762.3,539.3 L761.9,541.3 L761.5,543.3 L761.1,545.3 L760.7,547.3 L760.3,549.3 L759.9,551.3 L759.5,553.3 L759.1,555.3 L758.7,557.3 L758.3,559.3 L757.9,561.3 L757.4,563.3 L757.0,565.3 L756.6,567.3 L756.2,569.3 L755.8,571.3 L755.3,573.3 L754.9,575.3 L754.4,577.3 L754.0,579.3 L753.6,581.3 L753.1,583.3 L752.7,585.3 L752.2,587.3 L751.8,589.3 L751.3,591.3 L750.9,593.3 L750.4,595.3 L750.0,597.3 L749.5,599.3 L749.0,601.3 L748.6,603.3 L748.1,605.3 L747.6,607.3 L747.2,609.3 L746.7,611.3 L746.2,613.3 L745.8,615.3 L745.3,617.3 L744.8,619.3 L744.3,621.3 L743.9,623.3 L743.4,625.3 L742.9,627.3 L742.5,629.3 L742.0,631.3 L741.5,633.3 L741.1,635.3 L740.6,637.3 L740.1,639.3 L739.7,641.3 L739.2,643.3 L738.7,645.3 L738.3,647.3 L737.8,649.3 L737.4,651.3 L736.9,653.3 L736.5,655.3 L736.0,657.3 L735.6,659.3 L735.1,661.3 L734.7,663.3 L734.2,665.3 L733.8,667.3 L733.4,669.3 L732.9,671.3 L732.5,673.3 L732.1,675.3 L731.6,677.3 L731.2,679.3 L730.8,681.3 L730.4,683.3 L729.9,685.3 L729.5,687.3 L729.1,689.3 L728.7,691.3 L728.3,693.3 L727.9,695.3 L727.5,697.3 L727.1,699.3 L726.7,701.3 L726.3,703.3 L725.9,705.3 L725.5,707.3 L725.1,709.3 L724.7,711.3 L724.3,713.3 L723.9,715.3 L723.5,717.3 L723.1,719.3 L722.7,721.3 L722.4,723.3 L722.0,725.3 L721.6,727.3 L721.2,729.3 L720.9,731.3 L720.5,733.3 L720.1,735.3 L719.7,737.3 L719.4,739.3 L719.0,741.3 L718.6,743.3 L718.3,745.3 L717.9,747.3 L717.5,749.3 L717.2,751.3 L716.8,753.3 L716.5,755.3 L716.1,757.3 L715.8,759.3 L715.4,761.3 L715.1,763.3 L714.7,765.3 L714.4,767.3 L714.0,769.3 L713.7,771.3 L713.3,773.3 L713.0,775.3 L712.7,777.3 L712.3,779.3 L712.0,781.3 L711.7,783.3 L711.3,785.3 L711.0,787.3 L710.7,789.3 L710.4,791.3 L710.0,793.3 L709.7,795.3 L709.4,797.3 L709.1,799.3 L708.8,801.3 L708.5,803.3 L708.1,805.3 L707.8,807.3 L707.5,809.3 L707.2,811.3 L706.9,813.3 L706.6,815.3 L706.3,817.3 L706.0,819.3 L705.7,821.3 L705.4,823.3 L705.2,825.3 L704.9,827.3 L704.6,829.3 L704.3,831.3 L704.0,833.3 L703.7,835.3 L703.5,837.3 L703.2,839.3 L702.9,841.3 L702.6,843.3 L702.4,845.3 L702.1,847.3 L701.8,849.3 L701.6,851.3 L701.3,853.3 L701.1,855.3 L700.8,857.3 L700.6,859.3 L700.3,861.3 L700.1,863.3 L699.8,865.3 L699.6,867.3 L699.3,869.3 L699.1,871.3 L698.9,873.3 L698.6,875.3 L698.4,877.3 L698.2,879.3 L697.9,881.3 L697.7,883.3 L697.5,885.3 L697.3,887.3 L697.1,889.3 L696.9,891.3 L696.6,893.3 L696.4,895.3 L696.2,897.3 L696.0,899.3 L695.8,901.3 L695.6,903.3 L695.4,905.3 L695.2,907.3 L695.0,909.3 L694.8,911.3 L694.6,913.3 L694.5,915.3 L694.3,917.3 L694.1,919.3 L693.9,921.3 L693.7,923.3 L693.6,925.3 L693.4,927.3 L693.3,928.0 L683.5,928.0 Z" fill="#78B6C6"/>
<path d="M917.0,49.9 L930.5,49.9 L930.8,51.9 L931.1,53.9 L931.5,55.9 L931.8,57.9 L932.1,59.9 L932.5,61.9 L932.8,63.9 L933.2,65.9 L933.6,67.9 L933.9,69.9 L934.3,71.9 L934.7,73.9 L935.1,75.9 L935.5,77.9 L935.9,79.9 L936.3,81.9 L936.7,83.9 L937.1,85.9 L937.6,87.9 L938.0,89.9 L938.5,91.9 L938.9,93.9 L939.4,95.9 L939.9,97.9 L940.4,99.9 L940.9,101.9 L941.4,103.9 L941.9,105.9 L942.4,107.9 L942.9,109.9 L943.4,111.9 L944.0,113.9 L944.5,115.9 L945.1,117.9 L945.6,119.9 L946.2,121.9 L946.8,123.9 L947.4,125.9 L948.0,127.9 L948.6,129.9 L949.2,131.9 L949.8,133.9 L950.4,135.9 L951.1,137.9 L951.7,139.9 L952.4,141.9 L953.0,143.9 L953.7,145.9 L954.4,147.9 L955.0,149.9 L955.7,151.9 L956.4,153.9 L957.1,155.9 L957.8,157.9 L958.5,159.9 L959.2,161.9 L960.0,163.9 L960.7,165.9 L961.4,167.9 L962.2,169.9 L962.9,171.9 L963.7,173.9 L964.4,175.9 L965.2,177.9 L966.0,179.9 L966.7,181.9 L967.5,183.9 L968.3,185.9 L969.1,187.9 L969.9,189.9 L970.7,191.9 L971.4,193.9 L972.2,195.9 L973.0,197.9 L973.8,199.9 L974.6,201.9 L975.4,203.9 L976.2,205.9 L977.0,207.9 L977.8,209.9 L978.6,211.9 L979.4,213.9 L980.2,215.9 L981.0,217.9 L981.8,219.9 L982.6,221.9 L983.4,223.9 L984.2,225.9 L985.0,227.9 L985.8,229.9 L986.6,231.9 L987.4,233.9 L988.1,235.9 L988.9,237.9 L989.7,239.9 L990.5,241.9 L991.2,243.9 L992.0,245.9 L992.7,247.9 L993.4,249.9 L994.2,251.9 L994.9,253.9 L995.6,255.9 L996.3,257.9 L997.0,259.9 L997.7,261.9 L998.4,263.9 L999.1,265.9 L999.8,267.9 L1000.5,269.9 L1001.1,271.9 L1001.8,273.9 L1002.4,275.9 L1003.0,277.9 L1003.6,279.9 L1004.2,281.9 L1004.8,283.9 L1005.4,285.9 L1006.0,287.9 L1006.6,289.9 L1007.1,291.9 L1007.7,293.9 L1008.2,295.9 L1008.7,297.9 L1009.2,299.9 L1009.7,301.9 L1010.2,303.9 L1010.7,305.9 L1011.2,307.9 L1011.6,309.9 L1012.1,311.9 L1012.5,313.9 L1012.9,315.9 L1013.3,317.9 L1013.7,319.9 L1014.1,321.9 L1014.5,323.9 L1014.9,325.9 L1015.2,327.9 L1015.5,329.9 L1015.9,331.9 L1016.2,333.9 L1016.5,335.9 L1016.8,337.9 L1017.1,339.9 L1017.3,341.9 L1017.6,343.9 L1017.9,345.9 L1018.1,347.9 L1018.3,349.9 L1018.6,351.9 L1018.8,353.9 L1019.0,355.9 L1019.1,357.9 L1019.3,359.9 L1019.5,361.9 L1019.6,363.9 L1019.8,365.9 L1019.9,367.9 L1020.1,369.9 L1020.2,371.9 L1020.3,373.9 L1020.4,375.9 L1020.5,377.9 L1020.6,379.9 L1020.6,381.9 L1020.7,383.9 L1020.7,385.9 L1020.8,387.9 L1020.8,389.9 L1020.9,391.9 L1020.9,393.9 L1020.9,395.9 L1020.9,397.9 L1020.9,399.9 L1020.9,401.9 L1020.9,403.9 L1020.8,405.9 L1020.8,407.9 L1020.8,409.9 L1020.7,411.9 L1020.7,413.9 L1020.6,415.9 L1020.5,417.9 L1020.4,419.9 L1020.4,421.9 L1020.3,423.9 L1020.2,425.9 L1020.1,427.9 L1019.9,429.9 L1019.8,431.9 L1019.7,433.9 L1019.6,435.9 L1019.4,437.9 L1019.3,439.9 L1019.1,441.9 L1019.0,443.9 L1018.8,445.9 L1018.6,447.9 L1018.4,449.9 L1018.2,451.9 L1018.1,453.9 L1017.9,455.9 L1017.6,457.9 L1017.4,459.9 L1017.2,461.9 L1017.0,463.9 L1016.8,465.9 L1016.5,467.9 L1016.3,469.9 L1016.0,471.9 L1015.8,473.9 L1015.5,475.9 L1015.2,477.9 L1014.9,479.9 L1014.7,481.9 L1014.4,483.9 L1014.1,485.9 L1013.8,487.9 L1013.5,489.9 L1013.2,491.9 L1012.8,493.9 L1012.5,495.9 L1012.2,497.9 L1011.8,499.9 L1011.5,501.9 L1011.1,503.9 L1010.8,505.9 L1010.4,507.9 L1010.0,509.9 L1009.7,511.9 L1009.3,513.9 L1008.9,515.9 L1008.5,517.9 L1008.1,519.9 L1007.7,521.9 L1007.3,523.9 L1006.9,525.9 L1006.4,527.9 L1006.0,529.9 L1005.6,531.9 L1005.1,533.9 L1004.7,535.9 L1004.2,537.9 L1003.8,539.9 L1003.3,541.9 L1002.9,543.9 L1002.4,545.9 L1001.9,547.9 L1001.4,549.9 L1000.9,551.9 L1000.4,553.9 L999.9,555.9 L999.4,557.9 L998.9,559.9 L998.4,561.9 L997.9,563.9 L997.4,565.9 L996.9,567.9 L996.3,569.9 L995.8,571.9 L995.3,573.9 L994.7,575.9 L994.2,577.9 L993.6,579.9 L993.1,581.9 L992.5,583.9 L992.0,585.9 L991.4,587.9 L990.8,589.9 L990.3,591.9 L989.7,593.9 L989.1,595.9 L988.6,597.9 L988.0,599.9 L987.4,601.9 L986.8,603.9 L986.2,605.9 L985.6,607.9 L985.0,609.9 L984.4,611.9 L983.9,613.9 L983.3,615.9 L982.7,617.9 L982.1,619.9 L981.5,621.9 L980.8,623.9 L980.2,625.9 L979.6,627.9 L979.0,629.9 L978.4,631.9 L977.8,633.9 L977.2,635.9 L976.6,637.9 L976.0,639.9 L975.3,641.9 L974.7,643.9 L974.1,645.9 L973.5,647.9 L972.9,649.9 L972.3,651.9 L971.6,653.9 L971.0,655.9 L970.4,657.9 L969.8,659.9 L969.2,661.9 L968.5,663.9 L967.9,665.9 L967.3,667.9 L966.7,669.9 L966.1,671.9 L965.4,673.9 L964.8,675.9 L964.2,677.9 L963.6,679.9 L963.0,681.9 L962.4,683.9 L961.8,685.9 L961.1,687.9 L960.5,689.9 L959.9,691.9 L959.3,693.9 L958.7,695.9 L958.1,697.9 L957.5,699.9 L956.9,701.9 L956.3,703.9 L955.7,705.9 L955.1,707.9 L954.5,709.9 L953.9,711.9 L953.3,713.9 L952.7,715.9 L952.2,717.9 L951.6,719.9 L951.0,721.9 L950.4,723.9 L949.9,725.9 L949.3,727.9 L948.8,729.9 L948.2,731.9 L947.7,733.9 L947.1,735.9 L946.6,737.9 L946.0,739.9 L945.5,741.9 L945.0,743.9 L944.5,745.9 L944.0,747.9 L943.5,749.9 L943.0,751.9 L942.5,753.9 L942.0,755.9 L941.5,757.9 L941.0,759.9 L940.6,761.9 L940.1,763.9 L939.7,765.9 L939.2,767.9 L938.8,769.9 L938.4,771.9 L938.0,773.9 L937.6,775.9 L937.1,777.9 L936.8,779.9 L936.4,781.9 L936.0,783.9 L935.6,785.9 L935.2,787.9 L934.9,789.9 L934.5,791.9 L934.2,793.9 L933.9,795.9 L933.5,797.9 L933.2,799.9 L932.9,801.9 L932.6,803.9 L932.3,805.9 L932.0,807.9 L931.7,809.9 L931.4,811.9 L931.2,813.9 L930.9,815.9 L930.6,817.9 L930.4,819.9 L930.1,821.9 L929.9,823.9 L929.6,825.9 L929.4,827.9 L929.2,829.9 L928.9,831.9 L928.7,833.9 L928.5,835.9 L928.3,837.9 L928.1,839.9 L927.9,841.9 L927.7,843.9 L927.5,845.9 L927.3,847.9 L927.1,849.9 L926.9,851.9 L926.7,853.9 L926.6,855.9 L926.4,857.9 L926.2,859.9 L926.0,861.9 L925.9,863.9 L925.7,865.9 L925.5,867.9 L925.4,869.9 L925.2,871.9 L925.1,873.9 L924.9,875.9 L924.8,877.9 L924.6,879.9 L924.5,881.9 L924.3,883.9 L924.2,885.9 L924.0,887.9 L923.9,889.9 L923.7,891.9 L923.6,893.9 L923.5,895.9 L923.3,897.9 L923.2,899.9 L923.1,901.9 L922.9,903.9 L922.8,905.9 L922.7,907.9 L922.6,909.9 L922.4,911.9 L922.3,913.9 L922.2,915.9 L922.1,917.9 L922.0,919.9 L921.9,921.9 L921.7,923.9 L921.6,925.9 L921.5,927.9 L921.5,928.0 L917.0,928.0 Z" fill="#78B6C6"/>
<line x1="216.9" y1="452.1" x2="216.9" y2="489.0" stroke="#000" stroke-width="1.8"/>
<line x1="208.2" y1="452.1" x2="225.6" y2="452.1" stroke="#000" stroke-width="1.8"/>
<line x1="208.2" y1="489.0" x2="225.6" y2="489.0" stroke="#000" stroke-width="1.8"/>
<path d="M213.1,470.4 L216.9,467.0 L220.7,470.4 L216.9,473.79999999999995 Z" fill="#000"/>
<line x1="450.2" y1="441.8" x2="450.2" y2="487.6" stroke="#000" stroke-width="1.8"/>
<line x1="441.5" y1="441.8" x2="458.9" y2="441.8" stroke="#000" stroke-width="1.8"/>
<line x1="441.5" y1="487.6" x2="458.9" y2="487.6" stroke="#000" stroke-width="1.8"/>
<path d="M446.4,465.0 L450.2,461.6 L454.0,465.0 L450.2,468.4 Z" fill="#000"/>
<line x1="683.6" y1="426.9" x2="683.6" y2="472.1" stroke="#000" stroke-width="1.8"/>
<line x1="674.9" y1="426.9" x2="692.3" y2="426.9" stroke="#000" stroke-width="1.8"/>
<line x1="674.9" y1="472.1" x2="692.3" y2="472.1" stroke="#000" stroke-width="1.8"/>
<path d="M679.8,449.4 L683.6,446.0 L687.4,449.4 L683.6,452.79999999999995 Z" fill="#000"/>
<line x1="917.1" y1="413.3" x2="917.1" y2="451.7" stroke="#000" stroke-width="1.8"/>
<line x1="908.4" y1="413.3" x2="925.8" y2="413.3" stroke="#000" stroke-width="1.8"/>
<line x1="908.4" y1="451.7" x2="925.8" y2="451.7" stroke="#000" stroke-width="1.8"/>
<path d="M913.3,432.5 L917.1,429.1 L920.9,432.5 L917.1,435.9 Z" fill="#000"/>
<polyline points="216.9,470.4 450.2,465.0 683.6,449.4 917.1,432.5" fill="none" stroke="#000" stroke-width="3.2" stroke-dasharray="3.2 9.6"/>
<line x1="76.50" y1="5" x2="76.50" y2="973.50" stroke="#000" stroke-width="3"/>
<line x1="75.00" y1="972.00" x2="1057" y2="972.00" stroke="#000" stroke-width="3"/>
<line x1="70" y1="928.6" x2="75" y2="928.6" stroke="#333333" stroke-width="2.2"/>
<path d="M57.9,916.0 L57.9,940.5 L54.4,940.5 L54.4,921.6 C52.9,923.0 50.9,924.2 48.7,925.0 L48.7,921.8 C51.4,920.6 53.9,918.5 55.4,916.0 Z" fill="#454545"/>
<line x1="70" y1="811.4" x2="75" y2="811.4" stroke="#333333" stroke-width="2.2"/>
<text transform="translate(64.00,823.40) scale(1.0,1.04)" x="0" y="0" text-anchor="end" font-size="34" fill="#454545">2</text>
<line x1="70" y1="694.2" x2="75" y2="694.2" stroke="#333333" stroke-width="2.2"/>
<text transform="translate(64.00,706.20) scale(1.0,1.04)" x="0" y="0" text-anchor="end" font-size="34" fill="#454545">3</text>
<line x1="70" y1="577.0" x2="75" y2="577.0" stroke="#333333" stroke-width="2.2"/>
<text transform="translate(64.00,589.00) scale(1.0,1.04)" x="0" y="0" text-anchor="end" font-size="34" fill="#454545">4</text>
<line x1="70" y1="459.8" x2="75" y2="459.8" stroke="#333333" stroke-width="2.2"/>
<text transform="translate(64.00,471.80) scale(1.0,1.04)" x="0" y="0" text-anchor="end" font-size="34" fill="#454545">5</text>
<line x1="70" y1="342.6" x2="75" y2="342.6" stroke="#333333" stroke-width="2.2"/>
<text transform="translate(64.00,354.60) scale(1.0,1.04)" x="0" y="0" text-anchor="end" font-size="34" fill="#454545">6</text>
<line x1="70" y1="225.4" x2="75" y2="225.4" stroke="#333333" stroke-width="2.2"/>
<text transform="translate(64.00,237.40) scale(1.0,1.04)" x="0" y="0" text-anchor="end" font-size="34" fill="#454545">7</text>
<line x1="217" y1="973.5" x2="217" y2="979.5" stroke="#333333" stroke-width="2.2"/>
<text transform="translate(216.30,1010.00) scale(1.0,1.04)" x="0" y="0" text-anchor="middle" font-size="34" fill="#454545">Under 35</text>
<line x1="450.2" y1="973.5" x2="450.2" y2="979.5" stroke="#333333" stroke-width="2.2"/>
<text transform="translate(449.50,1010.00) scale(1.0,1.04)" x="0" y="0" text-anchor="middle" font-size="34" fill="#454545">35-44</text>
<line x1="683.4" y1="973.5" x2="683.4" y2="979.5" stroke="#333333" stroke-width="2.2"/>
<text transform="translate(682.70,1010.00) scale(1.0,1.04)" x="0" y="0" text-anchor="middle" font-size="34" fill="#454545">45-54</text>
<line x1="916.6" y1="973.5" x2="916.6" y2="979.5" stroke="#333333" stroke-width="2.2"/>
<text transform="translate(915.90,1010.00) scale(1.0,1.04)" x="0" y="0" text-anchor="middle" font-size="34" fill="#454545">55 And Over</text>
<text transform="translate(567.50,1047.70) scale(1.0,1.04)" x="0" y="0" text-anchor="middle" font-size="34" fill="#000">Age Group</text>
<text transform="translate(31.5,488.7) rotate(-90) scale(1,1.04)" x="0" y="0" text-anchor="middle" font-size="34" fill="#000">Subjective Well-being (Mean)</text>
<text transform="translate(1025.7,63.8) scale(0.937,1)" x="0" y="0" text-anchor="middle" font-size="63.7" font-weight="bold" fill="#000" stroke="#000" stroke-width="1.2" stroke-linejoin="round">A</text>
<rect x="78" y="1082" width="976" height="871" fill="#EBEBEB"/>
<circle cx="154.2" cy="1280.8" r="2.5" fill="#FF0000"/>
<circle cx="167.6" cy="1280.8" r="2.5" fill="#FF0000"/>
<circle cx="160.9" cy="1301.8" r="2.5" fill="#FF0000"/>
<circle cx="182.1" cy="1303.8" r="2.5" fill="#FF0000"/>
<circle cx="160.9" cy="1317.8" r="2.5" fill="#FF0000"/>
<circle cx="163.7" cy="1317.5" r="2.5" fill="#FF0000"/>
<circle cx="186.7" cy="1320.9" r="2.5" fill="#FF0000"/>
<circle cx="152.7" cy="1333.5" r="2.5" fill="#FF0000"/>
<circle cx="184.2" cy="1345.9" r="2.5" fill="#FF0000"/>
<circle cx="177.1" cy="1352.9" r="2.5" fill="#FF0000"/>
<circle cx="163.2" cy="1360.2" r="2.5" fill="#FF0000"/>
<circle cx="165.1" cy="1370.1" r="2.5" fill="#FF0000"/>
<circle cx="163.0" cy="1372.2" r="2.5" fill="#FF0000"/>
<circle cx="169.4" cy="1374.0" r="2.5" fill="#FF0000"/>
<circle cx="154.2" cy="1386.4" r="2.5" fill="#FF0000"/>
<circle cx="166.5" cy="1391.3" r="2.5" fill="#FF0000"/>
<circle cx="159.0" cy="1402.7" r="2.5" fill="#FF0000"/>
<circle cx="164.8" cy="1417.9" r="2.5" fill="#FF0000"/>
<circle cx="165.1" cy="1425.9" r="2.5" fill="#FF0000"/>
<circle cx="173.8" cy="1433.0" r="2.5" fill="#FF0000"/>
<circle cx="187.1" cy="1433.0" r="2.5" fill="#FF0000"/>
<circle cx="188.5" cy="1434.1" r="2.5" fill="#FF0000"/>
<circle cx="173.8" cy="1451.4" r="2.5" fill="#FF0000"/>
<circle cx="174.2" cy="1454.9" r="2.5" fill="#FF0000"/>
<circle cx="155.1" cy="1455.4" r="2.5" fill="#FF0000"/>
<circle cx="166.7" cy="1454.0" r="2.5" fill="#FF0000"/>
<circle cx="184.4" cy="1454.0" r="2.5" fill="#FF0000"/>
<circle cx="187.3" cy="1465.9" r="2.5" fill="#FF0000"/>
<circle cx="158.0" cy="1471.0" r="2.5" fill="#FF0000"/>
<circle cx="160.2" cy="1468.2" r="2.5" fill="#FF0000"/>
<circle cx="165.6" cy="1470.7" r="2.5" fill="#FF0000"/>
<circle cx="173.3" cy="1471.2" r="2.5" fill="#FF0000"/>
<circle cx="176.4" cy="1471.2" r="2.5" fill="#FF0000"/>
<circle cx="178.0" cy="1472.3" r="2.5" fill="#FF0000"/>
<circle cx="184.9" cy="1477.9" r="2.5" fill="#FF0000"/>
<circle cx="187.8" cy="1480.8" r="2.5" fill="#FF0000"/>
<circle cx="156.1" cy="1496.0" r="2.5" fill="#FF0000"/>
<circle cx="166.7" cy="1507.1" r="2.5" fill="#FF0000"/>
<circle cx="171.8" cy="1516.7" r="2.5" fill="#FF0000"/>
<circle cx="160.7" cy="1547.3" r="2.5" fill="#FF0000"/>
<circle cx="165.6" cy="1545.4" r="2.5" fill="#FF0000"/>
<circle cx="164.1" cy="1557.9" r="2.5" fill="#FF0000"/>
<circle cx="167.6" cy="1559.3" r="2.5" fill="#FF0000"/>
<circle cx="172.8" cy="1563.3" r="2.5" fill="#FF0000"/>
<circle cx="181.0" cy="1563.8" r="2.5" fill="#FF0000"/>
<circle cx="161.8" cy="1567.8" r="2.5" fill="#FF0000"/>
<circle cx="185.4" cy="1580.8" r="2.5" fill="#FF0000"/>
<circle cx="182.5" cy="1589.3" r="2.5" fill="#FF0000"/>
<circle cx="184.9" cy="1591.4" r="2.5" fill="#FF0000"/>
<circle cx="170.4" cy="1603.9" r="2.5" fill="#FF0000"/>
<circle cx="176.2" cy="1624.9" r="2.5" fill="#FF0000"/>
<circle cx="167.6" cy="1638.3" r="2.5" fill="#FF0000"/>
<circle cx="187.3" cy="1638.3" r="2.5" fill="#FF0000"/>
<circle cx="183.9" cy="1651.2" r="2.5" fill="#FF0000"/>
<circle cx="159.0" cy="1656.1" r="2.5" fill="#FF0000"/>
<circle cx="164.3" cy="1684.1" r="2.5" fill="#FF0000"/>
<circle cx="182.0" cy="1683.7" r="2.5" fill="#FF0000"/>
<circle cx="187.8" cy="1685.1" r="2.5" fill="#FF0000"/>
<circle cx="162.8" cy="1690.5" r="2.5" fill="#FF0000"/>
<circle cx="171.5" cy="1689.7" r="2.5" fill="#FF0000"/>
<circle cx="170.4" cy="1693.8" r="2.5" fill="#FF0000"/>
<circle cx="160.5" cy="1698.2" r="2.5" fill="#FF0000"/>
<circle cx="180.1" cy="1713.0" r="2.5" fill="#FF0000"/>
<circle cx="182.5" cy="1718.3" r="2.5" fill="#FF0000"/>
<circle cx="180.5" cy="1725.4" r="2.5" fill="#FF0000"/>
<circle cx="188.3" cy="1728.4" r="2.5" fill="#FF0000"/>
<circle cx="183.4" cy="1739.9" r="2.5" fill="#FF0000"/>
<circle cx="183.4" cy="1780.4" r="2.5" fill="#FF0000"/>
<circle cx="181.5" cy="1812.1" r="2.5" fill="#FF0000"/>
<circle cx="152.0" cy="1280.8" r="2.5" fill="#00A087"/>
<circle cx="175.2" cy="1280.8" r="2.5" fill="#00A087"/>
<circle cx="154.6" cy="1289.0" r="2.5" fill="#00A087"/>
<circle cx="171.5" cy="1291.8" r="2.5" fill="#00A087"/>
<circle cx="178.6" cy="1307.1" r="2.5" fill="#00A087"/>
<circle cx="157.0" cy="1315.6" r="2.5" fill="#00A087"/>
<circle cx="166.9" cy="1320.6" r="2.5" fill="#00A087"/>
<circle cx="168.7" cy="1328.4" r="2.5" fill="#00A087"/>
<circle cx="164.8" cy="1333.0" r="2.5" fill="#00A087"/>
<circle cx="169.2" cy="1333.3" r="2.5" fill="#00A087"/>
<circle cx="162.6" cy="1336.5" r="2.5" fill="#00A087"/>
<circle cx="180.0" cy="1331.9" r="2.5" fill="#00A087"/>
<circle cx="159.1" cy="1360.2" r="2.5" fill="#00A087"/>
<circle cx="166.5" cy="1360.2" r="2.5" fill="#00A087"/>
<circle cx="168.2" cy="1365.5" r="2.5" fill="#00A087"/>
<circle cx="152.4" cy="1373.0" r="2.5" fill="#00A087"/>
<circle cx="154.9" cy="1378.6" r="2.5" fill="#00A087"/>
<circle cx="158.5" cy="1379.0" r="2.5" fill="#00A087"/>
<circle cx="169.0" cy="1386.4" r="2.5" fill="#00A087"/>
<circle cx="179.1" cy="1393.1" r="2.5" fill="#00A087"/>
<circle cx="188.3" cy="1408.9" r="2.5" fill="#00A087"/>
<circle cx="152.7" cy="1412.8" r="2.5" fill="#00A087"/>
<circle cx="175.2" cy="1412.8" r="2.5" fill="#00A087"/>
<circle cx="171.8" cy="1417.9" r="2.5" fill="#00A087"/>
<circle cx="183.9" cy="1417.9" r="2.5" fill="#00A087"/>
<circle cx="154.2" cy="1422.0" r="2.5" fill="#00A087"/>
<circle cx="165.1" cy="1422.0" r="2.5" fill="#00A087"/>
<circle cx="175.2" cy="1428.5" r="2.5" fill="#00A087"/>
<circle cx="172.5" cy="1434.9" r="2.5" fill="#00A087"/>
<circle cx="163.7" cy="1439.7" r="2.5" fill="#00A087"/>
<circle cx="170.1" cy="1439.7" r="2.5" fill="#00A087"/>
<circle cx="171.8" cy="1439.7" r="2.5" fill="#00A087"/>
<circle cx="160.4" cy="1454.4" r="2.5" fill="#00A087"/>
<circle cx="179.6" cy="1458.8" r="2.5" fill="#00A087"/>
<circle cx="172.4" cy="1465.9" r="2.5" fill="#00A087"/>
<circle cx="152.7" cy="1469.8" r="2.5" fill="#00A087"/>
<circle cx="184.4" cy="1471.2" r="2.5" fill="#00A087"/>
<circle cx="179.3" cy="1492.3" r="2.5" fill="#00A087"/>
<circle cx="181.7" cy="1492.3" r="2.5" fill="#00A087"/>
<circle cx="177.3" cy="1504.3" r="2.5" fill="#00A087"/>
<circle cx="159.5" cy="1527.6" r="2.5" fill="#00A087"/>
<circle cx="171.5" cy="1545.4" r="2.5" fill="#00A087"/>
<circle cx="187.8" cy="1545.4" r="2.5" fill="#00A087"/>
<circle cx="174.9" cy="1554.0" r="2.5" fill="#00A087"/>
<circle cx="174.3" cy="1559.3" r="2.5" fill="#00A087"/>
<circle cx="182.1" cy="1558.6" r="2.5" fill="#00A087"/>
<circle cx="160.5" cy="1571.9" r="2.5" fill="#00A087"/>
<circle cx="176.2" cy="1571.9" r="2.5" fill="#00A087"/>
<circle cx="175.4" cy="1598.5" r="2.5" fill="#00A087"/>
<circle cx="186.3" cy="1611.6" r="2.5" fill="#00A087"/>
<circle cx="152.7" cy="1633.5" r="2.5" fill="#00A087"/>
<circle cx="151.8" cy="1640.7" r="2.5" fill="#00A087"/>
<circle cx="156.6" cy="1651.2" r="2.5" fill="#00A087"/>
<circle cx="170.8" cy="1651.2" r="2.5" fill="#00A087"/>
<circle cx="181.7" cy="1651.2" r="2.5" fill="#00A087"/>
<circle cx="186.7" cy="1651.2" r="2.5" fill="#00A087"/>
<circle cx="152.7" cy="1704.4" r="2.5" fill="#00A087"/>
<circle cx="155.2" cy="1704.4" r="2.5" fill="#00A087"/>
<circle cx="172.4" cy="1704.4" r="2.5" fill="#00A087"/>
<circle cx="170.1" cy="1722.0" r="2.5" fill="#00A087"/>
<circle cx="169.6" cy="1757.4" r="2.5" fill="#00A087"/>
<circle cx="188.7" cy="1810.1" r="2.5" fill="#00A087"/>
<circle cx="387.7" cy="1284.2" r="2.5" fill="#FF0000"/>
<circle cx="419.8" cy="1280.8" r="2.5" fill="#FF0000"/>
<circle cx="416.5" cy="1290.0" r="2.5" fill="#FF0000"/>
<circle cx="385.0" cy="1297.2" r="2.5" fill="#FF0000"/>
<circle cx="386.1" cy="1295.5" r="2.5" fill="#FF0000"/>
<circle cx="405.2" cy="1299.0" r="2.5" fill="#FF0000"/>
<circle cx="403.4" cy="1301.8" r="2.5" fill="#FF0000"/>
<circle cx="396.8" cy="1325.9" r="2.5" fill="#FF0000"/>
<circle cx="385.4" cy="1342.5" r="2.5" fill="#FF0000"/>
<circle cx="386.9" cy="1346.8" r="2.5" fill="#FF0000"/>
<circle cx="394.4" cy="1349.8" r="2.5" fill="#FF0000"/>
<circle cx="411.4" cy="1361.3" r="2.5" fill="#FF0000"/>
<circle cx="388.7" cy="1386.6" r="2.5" fill="#FF0000"/>
<circle cx="395.8" cy="1393.1" r="2.5" fill="#FF0000"/>
<circle cx="394.1" cy="1395.2" r="2.5" fill="#FF0000"/>
<circle cx="394.6" cy="1401.5" r="2.5" fill="#FF0000"/>
<circle cx="389.6" cy="1405.7" r="2.5" fill="#FF0000"/>
<circle cx="393.9" cy="1405.7" r="2.5" fill="#FF0000"/>
<circle cx="389.3" cy="1412.9" r="2.5" fill="#FF0000"/>
<circle cx="391.3" cy="1419.8" r="2.5" fill="#FF0000"/>
<circle cx="398.7" cy="1435.3" r="2.5" fill="#FF0000"/>
<circle cx="403.6" cy="1436.3" r="2.5" fill="#FF0000"/>
<circle cx="386.3" cy="1448.2" r="2.5" fill="#FF0000"/>
<circle cx="410.3" cy="1452.5" r="2.5" fill="#FF0000"/>
<circle cx="420.8" cy="1461.1" r="2.5" fill="#FF0000"/>
<circle cx="405.5" cy="1462.5" r="2.5" fill="#FF0000"/>
<circle cx="395.5" cy="1466.6" r="2.5" fill="#FF0000"/>
<circle cx="384.5" cy="1470.7" r="2.5" fill="#FF0000"/>
<circle cx="391.0" cy="1473.1" r="2.5" fill="#FF0000"/>
<circle cx="400.2" cy="1480.8" r="2.5" fill="#FF0000"/>
<circle cx="398.1" cy="1484.6" r="2.5" fill="#FF0000"/>
<circle cx="417.9" cy="1481.5" r="2.5" fill="#FF0000"/>
<circle cx="387.2" cy="1490.3" r="2.5" fill="#FF0000"/>
<circle cx="404.0" cy="1497.0" r="2.5" fill="#FF0000"/>
<circle cx="401.2" cy="1502.3" r="2.5" fill="#FF0000"/>
<circle cx="410.5" cy="1505.2" r="2.5" fill="#FF0000"/>
<circle cx="399.7" cy="1515.8" r="2.5" fill="#FF0000"/>
<circle cx="407.0" cy="1527.2" r="2.5" fill="#FF0000"/>
<circle cx="402.6" cy="1530.1" r="2.5" fill="#FF0000"/>
<circle cx="389.8" cy="1536.8" r="2.5" fill="#FF0000"/>
<circle cx="416.9" cy="1542.3" r="2.5" fill="#FF0000"/>
<circle cx="413.7" cy="1552.2" r="2.5" fill="#FF0000"/>
<circle cx="395.9" cy="1569.2" r="2.5" fill="#FF0000"/>
<circle cx="386.3" cy="1598.5" r="2.5" fill="#FF0000"/>
<circle cx="407.9" cy="1602.7" r="2.5" fill="#FF0000"/>
<circle cx="393.0" cy="1606.6" r="2.5" fill="#FF0000"/>
<circle cx="399.7" cy="1623.9" r="2.5" fill="#FF0000"/>
<circle cx="420.4" cy="1644.0" r="2.5" fill="#FF0000"/>
<circle cx="407.9" cy="1658.6" r="2.5" fill="#FF0000"/>
<circle cx="412.5" cy="1666.7" r="2.5" fill="#FF0000"/>
<circle cx="411.2" cy="1669.8" r="2.5" fill="#FF0000"/>
<circle cx="387.4" cy="1684.6" r="2.5" fill="#FF0000"/>
<circle cx="389.8" cy="1717.9" r="2.5" fill="#FF0000"/>
<circle cx="393.1" cy="1797.2" r="2.5" fill="#FF0000"/>
<circle cx="391.7" cy="1805.3" r="2.5" fill="#FF0000"/>
<circle cx="405.9" cy="1831.0" r="2.5" fill="#FF0000"/>
<circle cx="414.6" cy="1833.2" r="2.5" fill="#FF0000"/>
<circle cx="412.6" cy="1885.8" r="2.5" fill="#FF0000"/>
<circle cx="403.1" cy="1910.6" r="2.5" fill="#FF0000"/>
<circle cx="384.3" cy="1280.8" r="2.5" fill="#00A087"/>
<circle cx="386.8" cy="1280.8" r="2.5" fill="#00A087"/>
<circle cx="411.2" cy="1280.8" r="2.5" fill="#00A087"/>
<circle cx="417.2" cy="1280.8" r="2.5" fill="#00A087"/>
<circle cx="394.4" cy="1290.4" r="2.5" fill="#00A087"/>
<circle cx="400.7" cy="1296.5" r="2.5" fill="#00A087"/>
<circle cx="391.0" cy="1302.7" r="2.5" fill="#00A087"/>
<circle cx="405.9" cy="1307.1" r="2.5" fill="#00A087"/>
<circle cx="390.2" cy="1333.5" r="2.5" fill="#00A087"/>
<circle cx="405.4" cy="1333.5" r="2.5" fill="#00A087"/>
<circle cx="384.3" cy="1348.9" r="2.5" fill="#00A087"/>
<circle cx="413.2" cy="1346.8" r="2.5" fill="#00A087"/>
<circle cx="389.3" cy="1360.2" r="2.5" fill="#00A087"/>
<circle cx="408.2" cy="1365.7" r="2.5" fill="#00A087"/>
<circle cx="388.4" cy="1371.3" r="2.5" fill="#00A087"/>
<circle cx="396.0" cy="1386.6" r="2.5" fill="#00A087"/>
<circle cx="411.2" cy="1399.8" r="2.5" fill="#00A087"/>
<circle cx="416.0" cy="1401.5" r="2.5" fill="#00A087"/>
<circle cx="410.3" cy="1404.3" r="2.5" fill="#00A087"/>
<circle cx="419.5" cy="1410.0" r="2.5" fill="#00A087"/>
<circle cx="392.8" cy="1412.9" r="2.5" fill="#00A087"/>
<circle cx="404.0" cy="1412.9" r="2.5" fill="#00A087"/>
<circle cx="396.3" cy="1428.3" r="2.5" fill="#00A087"/>
<circle cx="401.7" cy="1428.8" r="2.5" fill="#00A087"/>
<circle cx="407.0" cy="1426.3" r="2.5" fill="#00A087"/>
<circle cx="398.8" cy="1439.7" r="2.5" fill="#00A087"/>
<circle cx="410.3" cy="1439.7" r="2.5" fill="#00A087"/>
<circle cx="389.3" cy="1456.8" r="2.5" fill="#00A087"/>
<circle cx="401.7" cy="1465.9" r="2.5" fill="#00A087"/>
<circle cx="397.2" cy="1468.7" r="2.5" fill="#00A087"/>
<circle cx="413.5" cy="1474.4" r="2.5" fill="#00A087"/>
<circle cx="394.4" cy="1492.3" r="2.5" fill="#00A087"/>
<circle cx="408.4" cy="1492.3" r="2.5" fill="#00A087"/>
<circle cx="417.4" cy="1492.3" r="2.5" fill="#00A087"/>
<circle cx="386.8" cy="1499.0" r="2.5" fill="#00A087"/>
<circle cx="417.9" cy="1510.1" r="2.5" fill="#00A087"/>
<circle cx="390.1" cy="1525.3" r="2.5" fill="#00A087"/>
<circle cx="385.4" cy="1532.1" r="2.5" fill="#00A087"/>
<circle cx="417.4" cy="1545.5" r="2.5" fill="#00A087"/>
<circle cx="388.7" cy="1558.7" r="2.5" fill="#00A087"/>
<circle cx="397.4" cy="1575.6" r="2.5" fill="#00A087"/>
<circle cx="421.3" cy="1598.5" r="2.5" fill="#00A087"/>
<circle cx="418.9" cy="1610.0" r="2.5" fill="#00A087"/>
<circle cx="396.5" cy="1615.8" r="2.5" fill="#00A087"/>
<circle cx="400.2" cy="1651.2" r="2.5" fill="#00A087"/>
<circle cx="398.8" cy="1668.9" r="2.5" fill="#00A087"/>
<circle cx="389.3" cy="1704.3" r="2.5" fill="#00A087"/>
<circle cx="390.1" cy="1757.5" r="2.5" fill="#00A087"/>
<circle cx="416.1" cy="1757.5" r="2.5" fill="#00A087"/>
<circle cx="395.0" cy="1783.8" r="2.5" fill="#00A087"/>
<circle cx="386.8" cy="1810.1" r="2.5" fill="#00A087"/>
<circle cx="415.1" cy="1810.1" r="2.5" fill="#00A087"/>
<circle cx="399.3" cy="1916.4" r="2.5" fill="#00A087"/>
<circle cx="623.2" cy="1290.0" r="2.5" fill="#FF0000"/>
<circle cx="642.8" cy="1296.5" r="2.5" fill="#FF0000"/>
<circle cx="628.1" cy="1308.9" r="2.5" fill="#FF0000"/>
<circle cx="638.4" cy="1308.9" r="2.5" fill="#FF0000"/>
<circle cx="618.5" cy="1312.5" r="2.5" fill="#FF0000"/>
<circle cx="622.3" cy="1325.8" r="2.5" fill="#FF0000"/>
<circle cx="625.1" cy="1330.1" r="2.5" fill="#FF0000"/>
<circle cx="639.6" cy="1331.9" r="2.5" fill="#FF0000"/>
<circle cx="631.8" cy="1348.2" r="2.5" fill="#FF0000"/>
<circle cx="652.0" cy="1349.6" r="2.5" fill="#FF0000"/>
<circle cx="641.7" cy="1360.2" r="2.5" fill="#FF0000"/>
<circle cx="621.8" cy="1366.4" r="2.5" fill="#FF0000"/>
<circle cx="640.3" cy="1366.4" r="2.5" fill="#FF0000"/>
<circle cx="645.8" cy="1368.9" r="2.5" fill="#FF0000"/>
<circle cx="620.4" cy="1380.2" r="2.5" fill="#FF0000"/>
<circle cx="642.0" cy="1382.5" r="2.5" fill="#FF0000"/>
<circle cx="652.6" cy="1383.2" r="2.5" fill="#FF0000"/>
<circle cx="630.4" cy="1386.5" r="2.5" fill="#FF0000"/>
<circle cx="649.0" cy="1386.5" r="2.5" fill="#FF0000"/>
<circle cx="620.9" cy="1389.9" r="2.5" fill="#FF0000"/>
<circle cx="643.3" cy="1392.4" r="2.5" fill="#FF0000"/>
<circle cx="621.7" cy="1397.0" r="2.5" fill="#FF0000"/>
<circle cx="645.3" cy="1401.3" r="2.5" fill="#FF0000"/>
<circle cx="652.9" cy="1400.2" r="2.5" fill="#FF0000"/>
<circle cx="627.0" cy="1408.3" r="2.5" fill="#FF0000"/>
<circle cx="630.8" cy="1434.9" r="2.5" fill="#FF0000"/>
<circle cx="618.9" cy="1476.5" r="2.5" fill="#FF0000"/>
<circle cx="630.8" cy="1477.9" r="2.5" fill="#FF0000"/>
<circle cx="634.3" cy="1486.1" r="2.5" fill="#FF0000"/>
<circle cx="650.4" cy="1487.0" r="2.5" fill="#FF0000"/>
<circle cx="655.5" cy="1490.3" r="2.5" fill="#FF0000"/>
<circle cx="625.1" cy="1492.4" r="2.5" fill="#FF0000"/>
<circle cx="639.8" cy="1491.2" r="2.5" fill="#FF0000"/>
<circle cx="650.0" cy="1514.7" r="2.5" fill="#FF0000"/>
<circle cx="633.2" cy="1519.1" r="2.5" fill="#FF0000"/>
<circle cx="639.6" cy="1535.8" r="2.5" fill="#FF0000"/>
<circle cx="623.2" cy="1555.8" r="2.5" fill="#FF0000"/>
<circle cx="620.9" cy="1565.9" r="2.5" fill="#FF0000"/>
<circle cx="634.7" cy="1574.6" r="2.5" fill="#FF0000"/>
<circle cx="635.7" cy="1600.4" r="2.5" fill="#FF0000"/>
<circle cx="641.7" cy="1602.0" r="2.5" fill="#FF0000"/>
<circle cx="643.5" cy="1603.4" r="2.5" fill="#FF0000"/>
<circle cx="650.1" cy="1612.4" r="2.5" fill="#FF0000"/>
<circle cx="622.8" cy="1625.9" r="2.5" fill="#FF0000"/>
<circle cx="639.0" cy="1657.9" r="2.5" fill="#FF0000"/>
<circle cx="618.5" cy="1672.3" r="2.5" fill="#FF0000"/>
<circle cx="628.5" cy="1688.0" r="2.5" fill="#FF0000"/>
<circle cx="619.6" cy="1720.7" r="2.5" fill="#FF0000"/>
<circle cx="636.2" cy="1722.0" r="2.5" fill="#FF0000"/>
<circle cx="624.2" cy="1757.5" r="2.5" fill="#FF0000"/>
<circle cx="617.1" cy="1767.9" r="2.5" fill="#FF0000"/>
<circle cx="652.0" cy="1812.1" r="2.5" fill="#FF0000"/>
<circle cx="643.3" cy="1823.4" r="2.5" fill="#FF0000"/>
<circle cx="646.2" cy="1280.8" r="2.5" fill="#00A087"/>
<circle cx="643.9" cy="1310.9" r="2.5" fill="#00A087"/>
<circle cx="635.7" cy="1318.7" r="2.5" fill="#00A087"/>
<circle cx="618.5" cy="1333.5" r="2.5" fill="#00A087"/>
<circle cx="635.7" cy="1333.5" r="2.5" fill="#00A087"/>
<circle cx="638.9" cy="1334.0" r="2.5" fill="#00A087"/>
<circle cx="632.9" cy="1349.6" r="2.5" fill="#00A087"/>
<circle cx="643.4" cy="1352.4" r="2.5" fill="#00A087"/>
<circle cx="619.9" cy="1360.2" r="2.5" fill="#00A087"/>
<circle cx="644.9" cy="1360.2" r="2.5" fill="#00A087"/>
<circle cx="634.7" cy="1363.5" r="2.5" fill="#00A087"/>
<circle cx="650.0" cy="1368.9" r="2.5" fill="#00A087"/>
<circle cx="621.8" cy="1373.2" r="2.5" fill="#00A087"/>
<circle cx="638.5" cy="1386.5" r="2.5" fill="#00A087"/>
<circle cx="635.6" cy="1400.2" r="2.5" fill="#00A087"/>
<circle cx="619.9" cy="1404.1" r="2.5" fill="#00A087"/>
<circle cx="632.4" cy="1408.3" r="2.5" fill="#00A087"/>
<circle cx="629.0" cy="1412.9" r="2.5" fill="#00A087"/>
<circle cx="636.3" cy="1412.9" r="2.5" fill="#00A087"/>
<circle cx="630.4" cy="1430.5" r="2.5" fill="#00A087"/>
<circle cx="624.0" cy="1455.4" r="2.5" fill="#00A087"/>
<circle cx="629.0" cy="1456.8" r="2.5" fill="#00A087"/>
<circle cx="624.8" cy="1465.9" r="2.5" fill="#00A087"/>
<circle cx="627.9" cy="1492.4" r="2.5" fill="#00A087"/>
<circle cx="641.7" cy="1492.4" r="2.5" fill="#00A087"/>
<circle cx="654.0" cy="1496.7" r="2.5" fill="#00A087"/>
<circle cx="648.3" cy="1513.0" r="2.5" fill="#00A087"/>
<circle cx="626.5" cy="1559.6" r="2.5" fill="#00A087"/>
<circle cx="626.5" cy="1560.3" r="2.5" fill="#00A087"/>
<circle cx="627.1" cy="1563.1" r="2.5" fill="#00A087"/>
<circle cx="618.4" cy="1567.5" r="2.5" fill="#00A087"/>
<circle cx="626.5" cy="1598.5" r="2.5" fill="#00A087"/>
<circle cx="637.5" cy="1604.5" r="2.5" fill="#00A087"/>
<circle cx="637.8" cy="1605.9" r="2.5" fill="#00A087"/>
<circle cx="629.9" cy="1624.9" r="2.5" fill="#00A087"/>
<circle cx="635.7" cy="1624.9" r="2.5" fill="#00A087"/>
<circle cx="630.9" cy="1638.2" r="2.5" fill="#00A087"/>
<circle cx="627.1" cy="1688.9" r="2.5" fill="#00A087"/>
<circle cx="642.9" cy="1714.7" r="2.5" fill="#00A087"/>
<circle cx="653.4" cy="1757.5" r="2.5" fill="#00A087"/>
<circle cx="877.2" cy="1280.6" r="2.5" fill="#FF0000"/>
<circle cx="869.3" cy="1283.2" r="2.5" fill="#FF0000"/>
<circle cx="881.8" cy="1284.7" r="2.5" fill="#FF0000"/>
<circle cx="854.6" cy="1288.3" r="2.5" fill="#FF0000"/>
<circle cx="853.0" cy="1292.8" r="2.5" fill="#FF0000"/>
<circle cx="878.3" cy="1297.5" r="2.5" fill="#FF0000"/>
<circle cx="882.7" cy="1309.5" r="2.5" fill="#FF0000"/>
<circle cx="858.2" cy="1314.7" r="2.5" fill="#FF0000"/>
<circle cx="869.3" cy="1312.7" r="2.5" fill="#FF0000"/>
<circle cx="853.5" cy="1326.6" r="2.5" fill="#FF0000"/>
<circle cx="880.0" cy="1333.5" r="2.5" fill="#FF0000"/>
<circle cx="883.9" cy="1333.5" r="2.5" fill="#FF0000"/>
<circle cx="854.4" cy="1337.1" r="2.5" fill="#FF0000"/>
<circle cx="873.5" cy="1338.3" r="2.5" fill="#FF0000"/>
<circle cx="850.5" cy="1341.1" r="2.5" fill="#FF0000"/>
<circle cx="858.8" cy="1341.8" r="2.5" fill="#FF0000"/>
<circle cx="859.9" cy="1341.5" r="2.5" fill="#FF0000"/>
<circle cx="883.4" cy="1351.2" r="2.5" fill="#FF0000"/>
<circle cx="862.6" cy="1369.8" r="2.5" fill="#FF0000"/>
<circle cx="850.2" cy="1385.0" r="2.5" fill="#FF0000"/>
<circle cx="853.0" cy="1388.9" r="2.5" fill="#FF0000"/>
<circle cx="864.5" cy="1395.2" r="2.5" fill="#FF0000"/>
<circle cx="886.4" cy="1399.8" r="2.5" fill="#FF0000"/>
<circle cx="849.6" cy="1421.9" r="2.5" fill="#FF0000"/>
<circle cx="879.9" cy="1433.3" r="2.5" fill="#FF0000"/>
<circle cx="877.8" cy="1436.5" r="2.5" fill="#FF0000"/>
<circle cx="850.1" cy="1441.0" r="2.5" fill="#FF0000"/>
<circle cx="867.0" cy="1441.0" r="2.5" fill="#FF0000"/>
<circle cx="863.9" cy="1444.5" r="2.5" fill="#FF0000"/>
<circle cx="874.0" cy="1443.8" r="2.5" fill="#FF0000"/>
<circle cx="885.7" cy="1441.8" r="2.5" fill="#FF0000"/>
<circle cx="850.7" cy="1460.4" r="2.5" fill="#FF0000"/>
<circle cx="854.2" cy="1489.6" r="2.5" fill="#FF0000"/>
<circle cx="856.7" cy="1492.4" r="2.5" fill="#FF0000"/>
<circle cx="865.0" cy="1490.0" r="2.5" fill="#FF0000"/>
<circle cx="863.4" cy="1494.8" r="2.5" fill="#FF0000"/>
<circle cx="885.6" cy="1502.8" r="2.5" fill="#FF0000"/>
<circle cx="865.3" cy="1508.6" r="2.5" fill="#FF0000"/>
<circle cx="870.1" cy="1510.5" r="2.5" fill="#FF0000"/>
<circle cx="876.9" cy="1510.0" r="2.5" fill="#FF0000"/>
<circle cx="877.9" cy="1515.9" r="2.5" fill="#FF0000"/>
<circle cx="875.0" cy="1541.7" r="2.5" fill="#FF0000"/>
<circle cx="853.5" cy="1545.5" r="2.5" fill="#FF0000"/>
<circle cx="863.4" cy="1548.8" r="2.5" fill="#FF0000"/>
<circle cx="864.8" cy="1548.1" r="2.5" fill="#FF0000"/>
<circle cx="853.9" cy="1573.2" r="2.5" fill="#FF0000"/>
<circle cx="853.5" cy="1582.2" r="2.5" fill="#FF0000"/>
<circle cx="870.7" cy="1588.1" r="2.5" fill="#FF0000"/>
<circle cx="862.0" cy="1594.2" r="2.5" fill="#FF0000"/>
<circle cx="884.1" cy="1598.3" r="2.5" fill="#FF0000"/>
<circle cx="879.7" cy="1602.4" r="2.5" fill="#FF0000"/>
<circle cx="852.0" cy="1602.7" r="2.5" fill="#FF0000"/>
<circle cx="883.0" cy="1615.8" r="2.5" fill="#FF0000"/>
<circle cx="882.5" cy="1618.1" r="2.5" fill="#FF0000"/>
<circle cx="881.2" cy="1624.6" r="2.5" fill="#FF0000"/>
<circle cx="881.2" cy="1633.1" r="2.5" fill="#FF0000"/>
<circle cx="857.3" cy="1654.6" r="2.5" fill="#FF0000"/>
<circle cx="851.7" cy="1702.8" r="2.5" fill="#FF0000"/>
<circle cx="882.7" cy="1725.3" r="2.5" fill="#FF0000"/>
<circle cx="881.6" cy="1733.4" r="2.5" fill="#FF0000"/>
<circle cx="871.5" cy="1737.7" r="2.5" fill="#FF0000"/>
<circle cx="849.6" cy="1884.2" r="2.5" fill="#FF0000"/>
<circle cx="857.3" cy="1280.8" r="2.5" fill="#00A087"/>
<circle cx="869.1" cy="1280.6" r="2.5" fill="#00A087"/>
<circle cx="873.8" cy="1280.6" r="2.5" fill="#00A087"/>
<circle cx="881.1" cy="1280.6" r="2.5" fill="#00A087"/>
<circle cx="872.3" cy="1282.4" r="2.5" fill="#00A087"/>
<circle cx="863.8" cy="1285.9" r="2.5" fill="#00A087"/>
<circle cx="862.3" cy="1288.0" r="2.5" fill="#00A087"/>
<circle cx="867.0" cy="1289.5" r="2.5" fill="#00A087"/>
<circle cx="851.2" cy="1291.1" r="2.5" fill="#00A087"/>
<circle cx="853.9" cy="1302.7" r="2.5" fill="#00A087"/>
<circle cx="875.8" cy="1307.0" r="2.5" fill="#00A087"/>
<circle cx="867.7" cy="1315.9" r="2.5" fill="#00A087"/>
<circle cx="870.1" cy="1333.5" r="2.5" fill="#00A087"/>
<circle cx="875.8" cy="1333.5" r="2.5" fill="#00A087"/>
<circle cx="885.7" cy="1333.5" r="2.5" fill="#00A087"/>
<circle cx="857.4" cy="1346.8" r="2.5" fill="#00A087"/>
<circle cx="869.8" cy="1346.8" r="2.5" fill="#00A087"/>
<circle cx="856.3" cy="1360.2" r="2.5" fill="#00A087"/>
<circle cx="868.7" cy="1371.2" r="2.5" fill="#00A087"/>
<circle cx="856.3" cy="1386.4" r="2.5" fill="#00A087"/>
<circle cx="861.1" cy="1386.4" r="2.5" fill="#00A087"/>
<circle cx="877.2" cy="1386.4" r="2.5" fill="#00A087"/>
<circle cx="883.6" cy="1386.4" r="2.5" fill="#00A087"/>
<circle cx="869.3" cy="1390.3" r="2.5" fill="#00A087"/>
<circle cx="876.5" cy="1404.2" r="2.5" fill="#00A087"/>
<circle cx="853.0" cy="1427.7" r="2.5" fill="#00A087"/>
<circle cx="858.3" cy="1439.7" r="2.5" fill="#00A087"/>
<circle cx="869.8" cy="1439.6" r="2.5" fill="#00A087"/>
<circle cx="870.0" cy="1445.0" r="2.5" fill="#00A087"/>
<circle cx="881.8" cy="1439.6" r="2.5" fill="#00A087"/>
<circle cx="886.1" cy="1439.6" r="2.5" fill="#00A087"/>
<circle cx="885.3" cy="1444.0" r="2.5" fill="#00A087"/>
<circle cx="875.9" cy="1448.6" r="2.5" fill="#00A087"/>
<circle cx="850.7" cy="1452.6" r="2.5" fill="#00A087"/>
<circle cx="886.5" cy="1452.6" r="2.5" fill="#00A087"/>
<circle cx="880.4" cy="1456.8" r="2.5" fill="#00A087"/>
<circle cx="859.4" cy="1473.0" r="2.5" fill="#00A087"/>
<circle cx="850.1" cy="1477.6" r="2.5" fill="#00A087"/>
<circle cx="877.9" cy="1485.7" r="2.5" fill="#00A087"/>
<circle cx="850.1" cy="1492.4" r="2.5" fill="#00A087"/>
<circle cx="851.0" cy="1500.0" r="2.5" fill="#00A087"/>
<circle cx="880.4" cy="1510.0" r="2.5" fill="#00A087"/>
<circle cx="859.5" cy="1519.2" r="2.5" fill="#00A087"/>
<circle cx="854.9" cy="1531.8" r="2.5" fill="#00A087"/>
<circle cx="879.0" cy="1531.8" r="2.5" fill="#00A087"/>
<circle cx="876.5" cy="1534.9" r="2.5" fill="#00A087"/>
<circle cx="860.1" cy="1537.7" r="2.5" fill="#00A087"/>
<circle cx="867.3" cy="1536.3" r="2.5" fill="#00A087"/>
<circle cx="851.6" cy="1545.5" r="2.5" fill="#00A087"/>
<circle cx="872.1" cy="1563.1" r="2.5" fill="#00A087"/>
<circle cx="861.1" cy="1583.8" r="2.5" fill="#00A087"/>
<circle cx="874.0" cy="1598.5" r="2.5" fill="#00A087"/>
<circle cx="886.3" cy="1598.5" r="2.5" fill="#00A087"/>
<circle cx="883.6" cy="1603.4" r="2.5" fill="#00A087"/>
<circle cx="880.7" cy="1627.8" r="2.5" fill="#00A087"/>
<circle cx="872.6" cy="1686.6" r="2.5" fill="#00A087"/>
<circle cx="874.6" cy="1871.7" r="2.5" fill="#00A087"/>
<line x1="207.8" y1="1280.7" x2="207.8" y2="1406.0" stroke="#000" stroke-width="2"/>
<line x1="207.8" y1="1634.3" x2="207.8" y2="1811.4" stroke="#000" stroke-width="2"/>
<rect x="200.3" y="1406.6" width="15.2" height="227.1" fill="#FF0000" fill-opacity="0.8" stroke="#000" stroke-width="2" stroke-linejoin="round"/>
<line x1="200.3" y1="1474.7" x2="215.5" y2="1474.7" stroke="#000" stroke-width="4"/>
<line x1="224.9" y1="1280.7" x2="224.9" y2="1372.8" stroke="#000" stroke-width="2"/>
<line x1="224.9" y1="1571.4" x2="224.9" y2="1809.3" stroke="#000" stroke-width="2"/>
<rect x="217.5" y="1373.4" width="15.3" height="197.4" fill="#00A087" fill-opacity="0.8" stroke="#000" stroke-width="2" stroke-linejoin="round"/>
<line x1="217.5" y1="1439.1" x2="232.8" y2="1439.1" stroke="#000" stroke-width="4"/>
<line x1="440.2" y1="1280.7" x2="440.2" y2="1397.8" stroke="#000" stroke-width="2"/>
<line x1="440.2" y1="1600.3" x2="440.2" y2="1885.7" stroke="#000" stroke-width="2"/>
<rect x="433.3" y="1398.4" width="14.7" height="201.3" fill="#FF0000" fill-opacity="0.8" stroke="#000" stroke-width="2" stroke-linejoin="round"/>
<line x1="433.3" y1="1480.6" x2="448.0" y2="1480.6" stroke="#000" stroke-width="4"/>
<line x1="457.6" y1="1280.7" x2="457.6" y2="1354.1" stroke="#000" stroke-width="2"/>
<line x1="457.6" y1="1551.9" x2="457.6" y2="1810.1" stroke="#000" stroke-width="2"/>
<rect x="450.0" y="1354.7" width="14.8" height="196.6" fill="#00A087" fill-opacity="0.8" stroke="#000" stroke-width="2" stroke-linejoin="round"/>
<line x1="450.0" y1="1439.3" x2="464.8" y2="1439.3" stroke="#000" stroke-width="4"/>
<line x1="672.8" y1="1290.2" x2="672.8" y2="1367.3" stroke="#000" stroke-width="2"/>
<line x1="672.8" y1="1600.8" x2="672.8" y2="1822.9" stroke="#000" stroke-width="2"/>
<rect x="666.0" y="1367.9" width="14.7" height="232.3" fill="#FF0000" fill-opacity="0.8" stroke="#000" stroke-width="2" stroke-linejoin="round"/>
<line x1="666.0" y1="1434.8" x2="680.7" y2="1434.8" stroke="#000" stroke-width="4"/>
<line x1="690.6" y1="1280.7" x2="690.6" y2="1363.2" stroke="#000" stroke-width="2"/>
<line x1="690.6" y1="1562.6" x2="690.6" y2="1757.1" stroke="#000" stroke-width="2"/>
<rect x="682.7" y="1363.8" width="14.6" height="198.2" fill="#00A087" fill-opacity="0.8" stroke="#000" stroke-width="2" stroke-linejoin="round"/>
<line x1="682.7" y1="1412.5" x2="697.3" y2="1412.5" stroke="#000" stroke-width="4"/>
<line x1="905.8" y1="1280.7" x2="905.8" y2="1341.1" stroke="#000" stroke-width="2"/>
<line x1="905.8" y1="1579.9" x2="905.8" y2="1884.9" stroke="#000" stroke-width="2"/>
<rect x="898.6" y="1341.7" width="14.9" height="237.6" fill="#FF0000" fill-opacity="0.8" stroke="#000" stroke-width="2" stroke-linejoin="round"/>
<line x1="898.6" y1="1452.5" x2="913.5" y2="1452.5" stroke="#000" stroke-width="4"/>
<line x1="923.2" y1="1280.7" x2="923.2" y2="1332.9" stroke="#000" stroke-width="2"/>
<line x1="923.2" y1="1531.8" x2="923.2" y2="1686.1" stroke="#000" stroke-width="2"/>
<rect x="915.5" y="1333.5" width="14.9" height="197.7" fill="#00A087" fill-opacity="0.8" stroke="#000" stroke-width="2" stroke-linejoin="round"/>
<line x1="915.5" y1="1439.3" x2="930.4" y2="1439.3" stroke="#000" stroke-width="4"/>
<path d="M240.0,1121.3 L241.6,1121.3 L241.7,1123.3 L241.8,1125.3 L241.9,1127.3 L242.0,1129.3 L242.1,1131.3 L242.2,1133.3 L242.4,1135.3 L242.5,1137.3 L242.6,1139.3 L242.8,1141.3 L242.9,1143.3 L243.1,1145.3 L243.2,1147.3 L243.4,1149.3 L243.6,1151.3 L243.7,1153.3 L243.9,1155.3 L244.1,1157.3 L244.3,1159.3 L244.6,1161.3 L244.8,1163.3 L245.0,1165.3 L245.3,1167.3 L245.5,1169.3 L245.8,1171.3 L246.1,1173.3 L246.4,1175.3 L246.7,1177.3 L247.0,1179.3 L247.3,1181.3 L247.6,1183.3 L248.0,1185.3 L248.3,1187.3 L248.7,1189.3 L249.1,1191.3 L249.5,1193.3 L249.9,1195.3 L250.3,1197.3 L250.8,1199.3 L251.2,1201.3 L251.7,1203.3 L252.1,1205.3 L252.6,1207.3 L253.1,1209.3 L253.6,1211.3 L254.1,1213.3 L254.7,1215.3 L255.2,1217.3 L255.8,1219.3 L256.4,1221.3 L256.9,1223.3 L257.5,1225.3 L258.1,1227.3 L258.8,1229.3 L259.4,1231.3 L260.0,1233.3 L260.7,1235.3 L261.3,1237.3 L262.0,1239.3 L262.7,1241.3 L263.3,1243.3 L264.0,1245.3 L264.7,1247.3 L265.4,1249.3 L266.1,1251.3 L266.9,1253.3 L267.6,1255.3 L268.3,1257.3 L269.0,1259.3 L269.8,1261.3 L270.5,1263.3 L271.2,1265.3 L272.0,1267.3 L272.7,1269.3 L273.5,1271.3 L274.2,1273.3 L275.0,1275.3 L275.7,1277.3 L276.5,1279.3 L277.2,1281.3 L278.0,1283.3 L278.7,1285.3 L279.5,1287.3 L280.3,1289.3 L281.0,1291.3 L281.8,1293.3 L282.5,1295.3 L283.3,1297.3 L284.0,1299.3 L284.8,1301.3 L285.5,1303.3 L286.3,1305.3 L287.0,1307.3 L287.8,1309.3 L288.5,1311.3 L289.3,1313.3 L290.0,1315.3 L290.8,1317.3 L291.5,1319.3 L292.3,1321.3 L293.0,1323.3 L293.8,1325.3 L294.5,1327.3 L295.2,1329.3 L296.0,1331.3 L296.7,1333.3 L297.5,1335.3 L298.2,1337.3 L298.9,1339.3 L299.7,1341.3 L300.4,1343.3 L301.1,1345.3 L301.8,1347.3 L302.6,1349.3 L303.3,1351.3 L304.0,1353.3 L304.7,1355.3 L305.4,1357.3 L306.1,1359.3 L306.8,1361.3 L307.5,1363.3 L308.2,1365.3 L308.9,1367.3 L309.5,1369.3 L310.2,1371.3 L310.9,1373.3 L311.5,1375.3 L312.2,1377.3 L312.8,1379.3 L313.4,1381.3 L314.1,1383.3 L314.7,1385.3 L315.3,1387.3 L315.8,1389.3 L316.4,1391.3 L317.0,1393.3 L317.5,1395.3 L318.1,1397.3 L318.6,1399.3 L319.1,1401.3 L319.6,1403.3 L320.0,1405.3 L320.5,1407.3 L321.0,1409.3 L321.4,1411.3 L321.8,1413.3 L322.2,1415.3 L322.6,1417.3 L322.9,1419.3 L323.3,1421.3 L323.6,1423.3 L323.9,1425.3 L324.2,1427.3 L324.4,1429.3 L324.7,1431.3 L324.9,1433.3 L325.1,1435.3 L325.3,1437.3 L325.5,1439.3 L325.6,1441.3 L325.8,1443.3 L325.9,1445.3 L326.0,1447.3 L326.0,1449.3 L326.1,1451.3 L326.1,1453.3 L326.1,1455.3 L326.1,1457.3 L326.1,1459.3 L326.1,1461.3 L326.0,1463.3 L325.9,1465.3 L325.9,1467.3 L325.7,1469.3 L325.6,1471.3 L325.5,1473.3 L325.3,1475.3 L325.2,1477.3 L325.0,1479.3 L324.8,1481.3 L324.6,1483.3 L324.3,1485.3 L324.1,1487.3 L323.9,1489.3 L323.6,1491.3 L323.3,1493.3 L323.1,1495.3 L322.8,1497.3 L322.5,1499.3 L322.2,1501.3 L321.8,1503.3 L321.5,1505.3 L321.2,1507.3 L320.8,1509.3 L320.5,1511.3 L320.1,1513.3 L319.8,1515.3 L319.4,1517.3 L319.1,1519.3 L318.7,1521.3 L318.3,1523.3 L318.0,1525.3 L317.6,1527.3 L317.2,1529.3 L316.9,1531.3 L316.5,1533.3 L316.1,1535.3 L315.7,1537.3 L315.4,1539.3 L315.0,1541.3 L314.6,1543.3 L314.3,1545.3 L313.9,1547.3 L313.6,1549.3 L313.2,1551.3 L312.9,1553.3 L312.5,1555.3 L312.2,1557.3 L311.8,1559.3 L311.5,1561.3 L311.2,1563.3 L310.9,1565.3 L310.6,1567.3 L310.2,1569.3 L309.9,1571.3 L309.6,1573.3 L309.3,1575.3 L309.1,1577.3 L308.8,1579.3 L308.5,1581.3 L308.2,1583.3 L308.0,1585.3 L307.7,1587.3 L307.4,1589.3 L307.2,1591.3 L306.9,1593.3 L306.7,1595.3 L306.5,1597.3 L306.2,1599.3 L306.0,1601.3 L305.8,1603.3 L305.6,1605.3 L305.3,1607.3 L305.1,1609.3 L304.9,1611.3 L304.7,1613.3 L304.5,1615.3 L304.3,1617.3 L304.1,1619.3 L303.9,1621.3 L303.7,1623.3 L303.5,1625.3 L303.3,1627.3 L303.1,1629.3 L302.9,1631.3 L302.7,1633.3 L302.4,1635.3 L302.2,1637.3 L302.0,1639.3 L301.8,1641.3 L301.6,1643.3 L301.3,1645.3 L301.1,1647.3 L300.9,1649.3 L300.6,1651.3 L300.4,1653.3 L300.1,1655.3 L299.9,1657.3 L299.6,1659.3 L299.4,1661.3 L299.1,1663.3 L298.8,1665.3 L298.5,1667.3 L298.2,1669.3 L297.9,1671.3 L297.6,1673.3 L297.2,1675.3 L296.9,1677.3 L296.6,1679.3 L296.2,1681.3 L295.9,1683.3 L295.5,1685.3 L295.1,1687.3 L294.7,1689.3 L294.3,1691.3 L293.9,1693.3 L293.5,1695.3 L293.1,1697.3 L292.6,1699.3 L292.2,1701.3 L291.7,1703.3 L291.2,1705.3 L290.8,1707.3 L290.3,1709.3 L289.8,1711.3 L289.3,1713.3 L288.8,1715.3 L288.2,1717.3 L287.7,1719.3 L287.2,1721.3 L286.6,1723.3 L286.1,1725.3 L285.5,1727.3 L285.0,1729.3 L284.4,1731.3 L283.8,1733.3 L283.2,1735.3 L282.6,1737.3 L282.0,1739.3 L281.4,1741.3 L280.8,1743.3 L280.2,1745.3 L279.6,1747.3 L279.0,1749.3 L278.3,1751.3 L277.7,1753.3 L277.1,1755.3 L276.5,1757.3 L275.8,1759.3 L275.2,1761.3 L274.6,1763.3 L273.9,1765.3 L273.3,1767.3 L272.7,1769.3 L272.0,1771.3 L271.4,1773.3 L270.8,1775.3 L270.1,1777.3 L269.5,1779.3 L268.9,1781.3 L268.3,1783.3 L267.6,1785.3 L267.0,1787.3 L266.4,1789.3 L265.8,1791.3 L265.2,1793.3 L264.6,1795.3 L264.0,1797.3 L263.4,1799.3 L262.8,1801.3 L262.3,1803.3 L261.7,1805.3 L261.1,1807.3 L260.6,1809.3 L260.0,1811.3 L259.5,1813.3 L259.0,1815.3 L258.4,1817.3 L257.9,1819.3 L257.4,1821.3 L256.9,1823.3 L256.4,1825.3 L255.9,1827.3 L255.4,1829.3 L255.0,1831.3 L254.5,1833.3 L254.1,1835.3 L253.6,1837.3 L253.2,1839.3 L252.8,1841.3 L252.3,1843.3 L251.9,1845.3 L251.5,1847.3 L251.1,1849.3 L250.8,1851.3 L250.4,1853.3 L250.0,1855.3 L249.7,1857.3 L249.3,1859.3 L249.0,1861.3 L248.7,1863.3 L248.3,1865.3 L248.0,1867.3 L247.7,1869.3 L247.4,1871.3 L247.2,1873.3 L246.9,1875.3 L246.6,1877.3 L246.3,1879.3 L246.1,1881.3 L245.8,1883.3 L245.6,1885.3 L245.4,1887.3 L245.2,1889.3 L244.9,1891.3 L244.7,1893.3 L244.5,1895.3 L244.3,1897.3 L244.2,1899.3 L244.0,1901.3 L243.8,1903.3 L243.6,1905.3 L243.5,1907.3 L243.3,1909.3 L243.2,1911.3 L243.0,1913.3 L242.9,1915.3 L240.0,1915.3 Z" fill="#FF0000" fill-opacity="0.9"/>
<path d="M240.0,1121.3 L242.8,1121.3 L242.9,1123.3 L243.1,1125.3 L243.2,1127.3 L243.4,1129.3 L243.6,1131.3 L243.8,1133.3 L244.0,1135.3 L244.2,1137.3 L244.5,1139.3 L244.7,1141.3 L244.9,1143.3 L245.2,1145.3 L245.5,1147.3 L245.7,1149.3 L246.0,1151.3 L246.3,1153.3 L246.6,1155.3 L247.0,1157.3 L247.3,1159.3 L247.6,1161.3 L248.0,1163.3 L248.4,1165.3 L248.8,1167.3 L249.2,1169.3 L249.6,1171.3 L250.0,1173.3 L250.5,1175.3 L250.9,1177.3 L251.4,1179.3 L251.9,1181.3 L252.4,1183.3 L252.9,1185.3 L253.4,1187.3 L254.0,1189.3 L254.5,1191.3 L255.1,1193.3 L255.7,1195.3 L256.3,1197.3 L256.9,1199.3 L257.6,1201.3 L258.2,1203.3 L258.9,1205.3 L259.6,1207.3 L260.3,1209.3 L261.0,1211.3 L261.7,1213.3 L262.5,1215.3 L263.2,1217.3 L264.0,1219.3 L264.8,1221.3 L265.6,1223.3 L266.5,1225.3 L267.3,1227.3 L268.1,1229.3 L269.0,1231.3 L269.9,1233.3 L270.8,1235.3 L271.7,1237.3 L272.6,1239.3 L273.5,1241.3 L274.5,1243.3 L275.4,1245.3 L276.4,1247.3 L277.3,1249.3 L278.3,1251.3 L279.3,1253.3 L280.3,1255.3 L281.3,1257.3 L282.3,1259.3 L283.3,1261.3 L284.4,1263.3 L285.4,1265.3 L286.4,1267.3 L287.5,1269.3 L288.5,1271.3 L289.5,1273.3 L290.6,1275.3 L291.6,1277.3 L292.7,1279.3 L293.7,1281.3 L294.7,1283.3 L295.8,1285.3 L296.8,1287.3 L297.9,1289.3 L298.9,1291.3 L299.9,1293.3 L300.9,1295.3 L301.9,1297.3 L303.0,1299.3 L303.9,1301.3 L304.9,1303.3 L305.9,1305.3 L306.9,1307.3 L307.8,1309.3 L308.8,1311.3 L309.7,1313.3 L310.7,1315.3 L311.6,1317.3 L312.5,1319.3 L313.3,1321.3 L314.2,1323.3 L315.1,1325.3 L315.9,1327.3 L316.7,1329.3 L317.5,1331.3 L318.3,1333.3 L319.1,1335.3 L319.8,1337.3 L320.6,1339.3 L321.3,1341.3 L322.0,1343.3 L322.6,1345.3 L323.3,1347.3 L323.9,1349.3 L324.5,1351.3 L325.1,1353.3 L325.7,1355.3 L326.2,1357.3 L326.8,1359.3 L327.3,1361.3 L327.8,1363.3 L328.2,1365.3 L328.7,1367.3 L329.1,1369.3 L329.5,1371.3 L329.9,1373.3 L330.2,1375.3 L330.6,1377.3 L330.9,1379.3 L331.2,1381.3 L331.4,1383.3 L331.7,1385.3 L331.9,1387.3 L332.1,1389.3 L332.3,1391.3 L332.5,1393.3 L332.7,1395.3 L332.8,1397.3 L332.9,1399.3 L333.0,1401.3 L333.1,1403.3 L333.1,1405.3 L333.2,1407.3 L333.2,1409.3 L333.2,1411.3 L333.2,1413.3 L333.1,1415.3 L333.1,1417.3 L333.0,1419.3 L332.9,1421.3 L332.8,1423.3 L332.7,1425.3 L332.6,1427.3 L332.5,1429.3 L332.3,1431.3 L332.1,1433.3 L331.9,1435.3 L331.8,1437.3 L331.5,1439.3 L331.3,1441.3 L331.1,1443.3 L330.8,1445.3 L330.6,1447.3 L330.3,1449.3 L330.0,1451.3 L329.7,1453.3 L329.4,1455.3 L329.1,1457.3 L328.8,1459.3 L328.5,1461.3 L328.1,1463.3 L327.8,1465.3 L327.4,1467.3 L327.1,1469.3 L326.7,1471.3 L326.3,1473.3 L326.0,1475.3 L325.6,1477.3 L325.2,1479.3 L324.8,1481.3 L324.4,1483.3 L323.9,1485.3 L323.5,1487.3 L323.1,1489.3 L322.7,1491.3 L322.2,1493.3 L321.8,1495.3 L321.4,1497.3 L320.9,1499.3 L320.5,1501.3 L320.0,1503.3 L319.6,1505.3 L319.1,1507.3 L318.7,1509.3 L318.2,1511.3 L317.8,1513.3 L317.3,1515.3 L316.8,1517.3 L316.4,1519.3 L315.9,1521.3 L315.4,1523.3 L315.0,1525.3 L314.5,1527.3 L314.0,1529.3 L313.6,1531.3 L313.1,1533.3 L312.6,1535.3 L312.2,1537.3 L311.7,1539.3 L311.2,1541.3 L310.8,1543.3 L310.3,1545.3 L309.8,1547.3 L309.4,1549.3 L308.9,1551.3 L308.5,1553.3 L308.0,1555.3 L307.6,1557.3 L307.1,1559.3 L306.7,1561.3 L306.2,1563.3 L305.8,1565.3 L305.3,1567.3 L304.9,1569.3 L304.4,1571.3 L304.0,1573.3 L303.5,1575.3 L303.1,1577.3 L302.7,1579.3 L302.2,1581.3 L301.8,1583.3 L301.4,1585.3 L301.0,1587.3 L300.5,1589.3 L300.1,1591.3 L299.7,1593.3 L299.3,1595.3 L298.8,1597.3 L298.4,1599.3 L298.0,1601.3 L297.6,1603.3 L297.2,1605.3 L296.8,1607.3 L296.3,1609.3 L295.9,1611.3 L295.5,1613.3 L295.1,1615.3 L294.7,1617.3 L294.3,1619.3 L293.9,1621.3 L293.5,1623.3 L293.1,1625.3 L292.6,1627.3 L292.2,1629.3 L291.8,1631.3 L291.4,1633.3 L291.0,1635.3 L290.6,1637.3 L290.2,1639.3 L289.7,1641.3 L289.3,1643.3 L288.9,1645.3 L288.5,1647.3 L288.1,1649.3 L287.6,1651.3 L287.2,1653.3 L286.8,1655.3 L286.4,1657.3 L285.9,1659.3 L285.5,1661.3 L285.1,1663.3 L284.6,1665.3 L284.2,1667.3 L283.8,1669.3 L283.3,1671.3 L282.9,1673.3 L282.4,1675.3 L282.0,1677.3 L281.5,1679.3 L281.1,1681.3 L280.6,1683.3 L280.1,1685.3 L279.7,1687.3 L279.2,1689.3 L278.8,1691.3 L278.3,1693.3 L277.8,1695.3 L277.3,1697.3 L276.9,1699.3 L276.4,1701.3 L275.9,1703.3 L275.4,1705.3 L275.0,1707.3 L274.5,1709.3 L274.0,1711.3 L273.5,1713.3 L273.0,1715.3 L272.6,1717.3 L272.1,1719.3 L271.6,1721.3 L271.1,1723.3 L270.6,1725.3 L270.1,1727.3 L269.6,1729.3 L269.2,1731.3 L268.7,1733.3 L268.2,1735.3 L267.7,1737.3 L267.2,1739.3 L266.7,1741.3 L266.3,1743.3 L265.8,1745.3 L265.3,1747.3 L264.8,1749.3 L264.4,1751.3 L263.9,1753.3 L263.4,1755.3 L263.0,1757.3 L262.5,1759.3 L262.0,1761.3 L261.6,1763.3 L261.1,1765.3 L260.7,1767.3 L260.2,1769.3 L259.8,1771.3 L259.4,1773.3 L258.9,1775.3 L258.5,1777.3 L258.1,1779.3 L257.6,1781.3 L257.2,1783.3 L256.8,1785.3 L256.4,1787.3 L256.0,1789.3 L255.6,1791.3 L255.2,1793.3 L254.8,1795.3 L254.4,1797.3 L254.1,1799.3 L253.7,1801.3 L253.3,1803.3 L253.0,1805.3 L252.6,1807.3 L252.3,1809.3 L251.9,1811.3 L251.6,1813.3 L251.2,1815.3 L250.9,1817.3 L250.6,1819.3 L250.3,1821.3 L250.0,1823.3 L249.7,1825.3 L249.4,1827.3 L249.1,1829.3 L248.8,1831.3 L248.5,1833.3 L248.3,1835.3 L248.0,1837.3 L247.7,1839.3 L247.5,1841.3 L247.2,1843.3 L247.0,1845.3 L246.7,1847.3 L246.5,1849.3 L246.3,1851.3 L246.1,1853.3 L245.9,1855.3 L245.7,1857.3 L245.4,1859.3 L245.3,1861.3 L245.1,1863.3 L244.9,1865.3 L244.7,1867.3 L244.5,1869.3 L244.3,1871.3 L244.2,1873.3 L244.0,1875.3 L243.9,1877.3 L243.7,1879.3 L243.6,1881.3 L243.4,1883.3 L243.3,1885.3 L243.2,1887.3 L243.0,1889.3 L242.9,1891.3 L242.8,1893.3 L242.7,1895.3 L242.6,1897.3 L242.4,1899.3 L242.3,1901.3 L242.2,1903.3 L242.1,1905.3 L242.1,1907.3 L242.0,1909.3 L241.9,1911.3 L241.8,1913.3 L241.7,1915.3 L240.0,1915.3 Z" fill="#00A087" fill-opacity="0.9"/>
<path d="M472.3,1123.1 L476.9,1123.1 L477.1,1125.1 L477.3,1127.1 L477.5,1129.1 L477.7,1131.1 L477.9,1133.1 L478.2,1135.1 L478.4,1137.1 L478.6,1139.1 L478.9,1141.1 L479.1,1143.1 L479.4,1145.1 L479.7,1147.1 L480.0,1149.1 L480.3,1151.1 L480.6,1153.1 L480.9,1155.1 L481.2,1157.1 L481.5,1159.1 L481.9,1161.1 L482.2,1163.1 L482.6,1165.1 L482.9,1167.1 L483.3,1169.1 L483.7,1171.1 L484.1,1173.1 L484.5,1175.1 L484.9,1177.1 L485.4,1179.1 L485.8,1181.1 L486.3,1183.1 L486.7,1185.1 L487.2,1187.1 L487.7,1189.1 L488.2,1191.1 L488.7,1193.1 L489.2,1195.1 L489.7,1197.1 L490.2,1199.1 L490.8,1201.1 L491.3,1203.1 L491.9,1205.1 L492.4,1207.1 L493.0,1209.1 L493.6,1211.1 L494.2,1213.1 L494.8,1215.1 L495.4,1217.1 L496.0,1219.1 L496.6,1221.1 L497.3,1223.1 L497.9,1225.1 L498.6,1227.1 L499.2,1229.1 L499.9,1231.1 L500.5,1233.1 L501.2,1235.1 L501.9,1237.1 L502.5,1239.1 L503.2,1241.1 L503.9,1243.1 L504.6,1245.1 L505.3,1247.1 L506.0,1249.1 L506.7,1251.1 L507.4,1253.1 L508.1,1255.1 L508.8,1257.1 L509.5,1259.1 L510.2,1261.1 L510.9,1263.1 L511.6,1265.1 L512.3,1267.1 L513.0,1269.1 L513.7,1271.1 L514.4,1273.1 L515.1,1275.1 L515.8,1277.1 L516.5,1279.1 L517.2,1281.1 L517.9,1283.1 L518.6,1285.1 L519.3,1287.1 L520.0,1289.1 L520.7,1291.1 L521.3,1293.1 L522.0,1295.1 L522.7,1297.1 L523.4,1299.1 L524.1,1301.1 L524.8,1303.1 L525.4,1305.1 L526.1,1307.1 L526.8,1309.1 L527.4,1311.1 L528.1,1313.1 L528.8,1315.1 L529.4,1317.1 L530.1,1319.1 L530.7,1321.1 L531.4,1323.1 L532.0,1325.1 L532.7,1327.1 L533.3,1329.1 L534.0,1331.1 L534.6,1333.1 L535.2,1335.1 L535.9,1337.1 L536.5,1339.1 L537.1,1341.1 L537.7,1343.1 L538.4,1345.1 L539.0,1347.1 L539.6,1349.1 L540.2,1351.1 L540.8,1353.1 L541.4,1355.1 L542.0,1357.1 L542.6,1359.1 L543.1,1361.1 L543.7,1363.1 L544.3,1365.1 L544.8,1367.1 L545.4,1369.1 L546.0,1371.1 L546.5,1373.1 L547.0,1375.1 L547.6,1377.1 L548.1,1379.1 L548.6,1381.1 L549.1,1383.1 L549.6,1385.1 L550.1,1387.1 L550.6,1389.1 L551.1,1391.1 L551.5,1393.1 L552.0,1395.1 L552.4,1397.1 L552.9,1399.1 L553.3,1401.1 L553.7,1403.1 L554.1,1405.1 L554.5,1407.1 L554.8,1409.1 L555.2,1411.1 L555.6,1413.1 L555.9,1415.1 L556.2,1417.1 L556.5,1419.1 L556.8,1421.1 L557.1,1423.1 L557.4,1425.1 L557.6,1427.1 L557.9,1429.1 L558.1,1431.1 L558.3,1433.1 L558.5,1435.1 L558.7,1437.1 L558.9,1439.1 L559.0,1441.1 L559.1,1443.1 L559.3,1445.1 L559.4,1447.1 L559.4,1449.1 L559.5,1451.1 L559.6,1453.1 L559.6,1455.1 L559.6,1457.1 L559.6,1459.1 L559.6,1461.1 L559.6,1463.1 L559.6,1465.1 L559.5,1467.1 L559.4,1469.1 L559.3,1471.1 L559.2,1473.1 L559.1,1475.1 L559.0,1477.1 L558.8,1479.1 L558.6,1481.1 L558.5,1483.1 L558.3,1485.1 L558.1,1487.1 L557.8,1489.1 L557.6,1491.1 L557.3,1493.1 L557.1,1495.1 L556.8,1497.1 L556.5,1499.1 L556.2,1501.1 L555.8,1503.1 L555.5,1505.1 L555.1,1507.1 L554.8,1509.1 L554.4,1511.1 L554.0,1513.1 L553.6,1515.1 L553.2,1517.1 L552.8,1519.1 L552.4,1521.1 L551.9,1523.1 L551.5,1525.1 L551.0,1527.1 L550.5,1529.1 L550.1,1531.1 L549.6,1533.1 L549.1,1535.1 L548.6,1537.1 L548.1,1539.1 L547.5,1541.1 L547.0,1543.1 L546.5,1545.1 L546.0,1547.1 L545.4,1549.1 L544.9,1551.1 L544.3,1553.1 L543.7,1555.1 L543.2,1557.1 L542.6,1559.1 L542.0,1561.1 L541.5,1563.1 L540.9,1565.1 L540.3,1567.1 L539.7,1569.1 L539.1,1571.1 L538.5,1573.1 L537.9,1575.1 L537.4,1577.1 L536.8,1579.1 L536.2,1581.1 L535.6,1583.1 L535.0,1585.1 L534.4,1587.1 L533.8,1589.1 L533.2,1591.1 L532.6,1593.1 L532.0,1595.1 L531.4,1597.1 L530.8,1599.1 L530.2,1601.1 L529.7,1603.1 L529.1,1605.1 L528.5,1607.1 L527.9,1609.1 L527.3,1611.1 L526.8,1613.1 L526.2,1615.1 L525.6,1617.1 L525.1,1619.1 L524.5,1621.1 L524.0,1623.1 L523.4,1625.1 L522.9,1627.1 L522.3,1629.1 L521.8,1631.1 L521.3,1633.1 L520.7,1635.1 L520.2,1637.1 L519.7,1639.1 L519.2,1641.1 L518.7,1643.1 L518.2,1645.1 L517.7,1647.1 L517.2,1649.1 L516.7,1651.1 L516.2,1653.1 L515.8,1655.1 L515.3,1657.1 L514.8,1659.1 L514.4,1661.1 L513.9,1663.1 L513.5,1665.1 L513.0,1667.1 L512.6,1669.1 L512.2,1671.1 L511.7,1673.1 L511.3,1675.1 L510.9,1677.1 L510.5,1679.1 L510.1,1681.1 L509.7,1683.1 L509.3,1685.1 L508.9,1687.1 L508.6,1689.1 L508.2,1691.1 L507.8,1693.1 L507.5,1695.1 L507.1,1697.1 L506.7,1699.1 L506.4,1701.1 L506.1,1703.1 L505.7,1705.1 L505.4,1707.1 L505.1,1709.1 L504.7,1711.1 L504.4,1713.1 L504.1,1715.1 L503.8,1717.1 L503.5,1719.1 L503.2,1721.1 L502.9,1723.1 L502.6,1725.1 L502.3,1727.1 L502.1,1729.1 L501.8,1731.1 L501.5,1733.1 L501.2,1735.1 L501.0,1737.1 L500.7,1739.1 L500.5,1741.1 L500.2,1743.1 L499.9,1745.1 L499.7,1747.1 L499.5,1749.1 L499.2,1751.1 L499.0,1753.1 L498.7,1755.1 L498.5,1757.1 L498.3,1759.1 L498.0,1761.1 L497.8,1763.1 L497.6,1765.1 L497.4,1767.1 L497.2,1769.1 L496.9,1771.1 L496.7,1773.1 L496.5,1775.1 L496.3,1777.1 L496.1,1779.1 L495.9,1781.1 L495.7,1783.1 L495.5,1785.1 L495.3,1787.1 L495.1,1789.1 L494.9,1791.1 L494.7,1793.1 L494.5,1795.1 L494.3,1797.1 L494.1,1799.1 L493.9,1801.1 L493.8,1803.1 L493.6,1805.1 L493.4,1807.1 L493.2,1809.1 L493.0,1811.1 L492.8,1813.1 L492.7,1815.1 L492.5,1817.1 L492.3,1819.1 L492.1,1821.1 L491.9,1823.1 L491.8,1825.1 L491.6,1827.1 L491.4,1829.1 L491.2,1831.1 L491.1,1833.1 L490.9,1835.1 L490.7,1837.1 L490.5,1839.1 L490.4,1841.1 L490.2,1843.1 L490.0,1845.1 L489.9,1847.1 L489.7,1849.1 L489.5,1851.1 L489.4,1853.1 L489.2,1855.1 L489.0,1857.1 L488.9,1859.1 L488.7,1861.1 L488.5,1863.1 L488.4,1865.1 L488.2,1867.1 L488.0,1869.1 L487.9,1871.1 L487.7,1873.1 L487.5,1875.1 L487.4,1877.1 L487.2,1879.1 L487.1,1881.1 L486.9,1883.1 L486.7,1885.1 L486.6,1887.1 L486.4,1889.1 L486.3,1891.1 L486.1,1893.1 L485.9,1895.1 L485.8,1897.1 L485.6,1899.1 L485.5,1901.1 L485.3,1903.1 L485.2,1905.1 L485.0,1907.1 L484.9,1909.1 L484.7,1911.1 L484.6,1913.1 L484.5,1914.3 L472.3,1914.3 Z" fill="#FF0000" fill-opacity="0.9"/>
<path d="M472.3,1123.1 L478.6,1123.1 L478.8,1125.1 L479.1,1127.1 L479.4,1129.1 L479.7,1131.1 L480.1,1133.1 L480.4,1135.1 L480.7,1137.1 L481.1,1139.1 L481.5,1141.1 L481.8,1143.1 L482.2,1145.1 L482.6,1147.1 L483.1,1149.1 L483.5,1151.1 L483.9,1153.1 L484.4,1155.1 L484.8,1157.1 L485.3,1159.1 L485.8,1161.1 L486.3,1163.1 L486.8,1165.1 L487.3,1167.1 L487.9,1169.1 L488.4,1171.1 L489.0,1173.1 L489.6,1175.1 L490.2,1177.1 L490.8,1179.1 L491.4,1181.1 L492.0,1183.1 L492.7,1185.1 L493.3,1187.1 L494.0,1189.1 L494.7,1191.1 L495.3,1193.1 L496.0,1195.1 L496.8,1197.1 L497.5,1199.1 L498.2,1201.1 L499.0,1203.1 L499.7,1205.1 L500.5,1207.1 L501.3,1209.1 L502.1,1211.1 L502.8,1213.1 L503.7,1215.1 L504.5,1217.1 L505.3,1219.1 L506.1,1221.1 L507.0,1223.1 L507.8,1225.1 L508.6,1227.1 L509.5,1229.1 L510.4,1231.1 L511.2,1233.1 L512.1,1235.1 L513.0,1237.1 L513.8,1239.1 L514.7,1241.1 L515.6,1243.1 L516.5,1245.1 L517.4,1247.1 L518.3,1249.1 L519.2,1251.1 L520.0,1253.1 L520.9,1255.1 L521.8,1257.1 L522.7,1259.1 L523.6,1261.1 L524.5,1263.1 L525.4,1265.1 L526.2,1267.1 L527.1,1269.1 L528.0,1271.1 L528.8,1273.1 L529.7,1275.1 L530.5,1277.1 L531.4,1279.1 L532.2,1281.1 L533.0,1283.1 L533.8,1285.1 L534.7,1287.1 L535.5,1289.1 L536.3,1291.1 L537.0,1293.1 L537.8,1295.1 L538.6,1297.1 L539.3,1299.1 L540.1,1301.1 L540.8,1303.1 L541.5,1305.1 L542.2,1307.1 L542.9,1309.1 L543.6,1311.1 L544.3,1313.1 L545.0,1315.1 L545.6,1317.1 L546.2,1319.1 L546.9,1321.1 L547.5,1323.1 L548.1,1325.1 L548.7,1327.1 L549.2,1329.1 L549.8,1331.1 L550.3,1333.1 L550.8,1335.1 L551.4,1337.1 L551.9,1339.1 L552.3,1341.1 L552.8,1343.1 L553.3,1345.1 L553.7,1347.1 L554.1,1349.1 L554.6,1351.1 L554.9,1353.1 L555.3,1355.1 L555.7,1357.1 L556.1,1359.1 L556.4,1361.1 L556.7,1363.1 L557.0,1365.1 L557.3,1367.1 L557.6,1369.1 L557.9,1371.1 L558.1,1373.1 L558.4,1375.1 L558.6,1377.1 L558.8,1379.1 L559.0,1381.1 L559.2,1383.1 L559.4,1385.1 L559.5,1387.1 L559.7,1389.1 L559.8,1391.1 L559.9,1393.1 L560.0,1395.1 L560.1,1397.1 L560.2,1399.1 L560.3,1401.1 L560.3,1403.1 L560.4,1405.1 L560.4,1407.1 L560.4,1409.1 L560.4,1411.1 L560.4,1413.1 L560.3,1415.1 L560.3,1417.1 L560.2,1419.1 L560.1,1421.1 L560.1,1423.1 L560.0,1425.1 L559.8,1427.1 L559.7,1429.1 L559.6,1431.1 L559.4,1433.1 L559.3,1435.1 L559.1,1437.1 L558.9,1439.1 L558.7,1441.1 L558.5,1443.1 L558.2,1445.1 L558.0,1447.1 L557.7,1449.1 L557.5,1451.1 L557.2,1453.1 L556.9,1455.1 L556.6,1457.1 L556.3,1459.1 L556.0,1461.1 L555.6,1463.1 L555.3,1465.1 L554.9,1467.1 L554.5,1469.1 L554.2,1471.1 L553.8,1473.1 L553.4,1475.1 L552.9,1477.1 L552.5,1479.1 L552.1,1481.1 L551.6,1483.1 L551.2,1485.1 L550.7,1487.1 L550.3,1489.1 L549.8,1491.1 L549.3,1493.1 L548.8,1495.1 L548.3,1497.1 L547.8,1499.1 L547.2,1501.1 L546.7,1503.1 L546.2,1505.1 L545.6,1507.1 L545.1,1509.1 L544.5,1511.1 L544.0,1513.1 L543.4,1515.1 L542.8,1517.1 L542.3,1519.1 L541.7,1521.1 L541.1,1523.1 L540.5,1525.1 L539.9,1527.1 L539.3,1529.1 L538.7,1531.1 L538.1,1533.1 L537.5,1535.1 L536.9,1537.1 L536.3,1539.1 L535.7,1541.1 L535.1,1543.1 L534.5,1545.1 L533.9,1547.1 L533.3,1549.1 L532.7,1551.1 L532.1,1553.1 L531.5,1555.1 L530.9,1557.1 L530.3,1559.1 L529.7,1561.1 L529.1,1563.1 L528.5,1565.1 L527.9,1567.1 L527.3,1569.1 L526.7,1571.1 L526.1,1573.1 L525.6,1575.1 L525.0,1577.1 L524.4,1579.1 L523.9,1581.1 L523.3,1583.1 L522.7,1585.1 L522.2,1587.1 L521.7,1589.1 L521.1,1591.1 L520.6,1593.1 L520.1,1595.1 L519.5,1597.1 L519.0,1599.1 L518.5,1601.1 L518.0,1603.1 L517.5,1605.1 L517.0,1607.1 L516.6,1609.1 L516.1,1611.1 L515.6,1613.1 L515.1,1615.1 L514.7,1617.1 L514.2,1619.1 L513.8,1621.1 L513.4,1623.1 L513.0,1625.1 L512.5,1627.1 L512.1,1629.1 L511.7,1631.1 L511.3,1633.1 L510.9,1635.1 L510.5,1637.1 L510.2,1639.1 L509.8,1641.1 L509.4,1643.1 L509.1,1645.1 L508.7,1647.1 L508.4,1649.1 L508.1,1651.1 L507.7,1653.1 L507.4,1655.1 L507.1,1657.1 L506.8,1659.1 L506.5,1661.1 L506.2,1663.1 L505.9,1665.1 L505.6,1667.1 L505.3,1669.1 L505.0,1671.1 L504.8,1673.1 L504.5,1675.1 L504.2,1677.1 L504.0,1679.1 L503.7,1681.1 L503.5,1683.1 L503.2,1685.1 L503.0,1687.1 L502.8,1689.1 L502.5,1691.1 L502.3,1693.1 L502.1,1695.1 L501.9,1697.1 L501.7,1699.1 L501.5,1701.1 L501.2,1703.1 L501.0,1705.1 L500.8,1707.1 L500.6,1709.1 L500.4,1711.1 L500.2,1713.1 L500.0,1715.1 L499.9,1717.1 L499.7,1719.1 L499.5,1721.1 L499.3,1723.1 L499.1,1725.1 L498.9,1727.1 L498.7,1729.1 L498.6,1731.1 L498.4,1733.1 L498.2,1735.1 L498.0,1737.1 L497.9,1739.1 L497.7,1741.1 L497.5,1743.1 L497.3,1745.1 L497.2,1747.1 L497.0,1749.1 L496.8,1751.1 L496.6,1753.1 L496.5,1755.1 L496.3,1757.1 L496.1,1759.1 L495.9,1761.1 L495.8,1763.1 L495.6,1765.1 L495.4,1767.1 L495.2,1769.1 L495.1,1771.1 L494.9,1773.1 L494.7,1775.1 L494.5,1777.1 L494.3,1779.1 L494.2,1781.1 L494.0,1783.1 L493.8,1785.1 L493.6,1787.1 L493.4,1789.1 L493.2,1791.1 L493.1,1793.1 L492.9,1795.1 L492.7,1797.1 L492.5,1799.1 L492.3,1801.1 L492.1,1803.1 L491.9,1805.1 L491.7,1807.1 L491.6,1809.1 L491.4,1811.1 L491.2,1813.1 L491.0,1815.1 L490.8,1817.1 L490.6,1819.1 L490.4,1821.1 L490.2,1823.1 L490.0,1825.1 L489.8,1827.1 L489.6,1829.1 L489.4,1831.1 L489.2,1833.1 L489.0,1835.1 L488.8,1837.1 L488.6,1839.1 L488.4,1841.1 L488.2,1843.1 L488.0,1845.1 L487.8,1847.1 L487.6,1849.1 L487.4,1851.1 L487.2,1853.1 L487.0,1855.1 L486.8,1857.1 L486.6,1859.1 L486.4,1861.1 L486.2,1863.1 L486.0,1865.1 L485.8,1867.1 L485.6,1869.1 L485.4,1871.1 L485.2,1873.1 L485.0,1875.1 L484.8,1877.1 L484.6,1879.1 L484.4,1881.1 L484.2,1883.1 L484.0,1885.1 L483.8,1887.1 L483.7,1889.1 L483.5,1891.1 L483.3,1893.1 L483.1,1895.1 L482.9,1897.1 L482.7,1899.1 L482.5,1901.1 L482.4,1903.1 L482.2,1905.1 L482.0,1907.1 L481.8,1909.1 L481.6,1911.1 L481.5,1913.1 L481.3,1915.1 L481.2,1915.7 L472.3,1915.7 Z" fill="#00A087" fill-opacity="0.9"/>
<path d="M705.1,1122.8 L709.0,1122.8 L709.2,1124.8 L709.4,1126.8 L709.7,1128.8 L709.9,1130.8 L710.1,1132.8 L710.3,1134.8 L710.6,1136.8 L710.9,1138.8 L711.1,1140.8 L711.4,1142.8 L711.7,1144.8 L712.0,1146.8 L712.3,1148.8 L712.6,1150.8 L713.0,1152.8 L713.3,1154.8 L713.7,1156.8 L714.1,1158.8 L714.4,1160.8 L714.8,1162.8 L715.2,1164.8 L715.7,1166.8 L716.1,1168.8 L716.5,1170.8 L717.0,1172.8 L717.5,1174.8 L718.0,1176.8 L718.5,1178.8 L719.0,1180.8 L719.5,1182.8 L720.0,1184.8 L720.6,1186.8 L721.2,1188.8 L721.8,1190.8 L722.4,1192.8 L723.0,1194.8 L723.6,1196.8 L724.2,1198.8 L724.9,1200.8 L725.6,1202.8 L726.2,1204.8 L726.9,1206.8 L727.7,1208.8 L728.4,1210.8 L729.1,1212.8 L729.9,1214.8 L730.6,1216.8 L731.4,1218.8 L732.2,1220.8 L733.0,1222.8 L733.8,1224.8 L734.7,1226.8 L735.5,1228.8 L736.4,1230.8 L737.2,1232.8 L738.1,1234.8 L739.0,1236.8 L739.9,1238.8 L740.8,1240.8 L741.7,1242.8 L742.6,1244.8 L743.5,1246.8 L744.5,1248.8 L745.4,1250.8 L746.4,1252.8 L747.3,1254.8 L748.3,1256.8 L749.3,1258.8 L750.2,1260.8 L751.2,1262.8 L752.2,1264.8 L753.2,1266.8 L754.1,1268.8 L755.1,1270.8 L756.1,1272.8 L757.1,1274.8 L758.1,1276.8 L759.0,1278.8 L760.0,1280.8 L761.0,1282.8 L761.9,1284.8 L762.9,1286.8 L763.9,1288.8 L764.8,1290.8 L765.7,1292.8 L766.7,1294.8 L767.6,1296.8 L768.5,1298.8 L769.4,1300.8 L770.3,1302.8 L771.2,1304.8 L772.1,1306.8 L772.9,1308.8 L773.8,1310.8 L774.6,1312.8 L775.5,1314.8 L776.3,1316.8 L777.0,1318.8 L777.8,1320.8 L778.6,1322.8 L779.3,1324.8 L780.0,1326.8 L780.7,1328.8 L781.4,1330.8 L782.1,1332.8 L782.7,1334.8 L783.4,1336.8 L784.0,1338.8 L784.6,1340.8 L785.1,1342.8 L785.7,1344.8 L786.2,1346.8 L786.7,1348.8 L787.2,1350.8 L787.7,1352.8 L788.1,1354.8 L788.5,1356.8 L788.9,1358.8 L789.3,1360.8 L789.6,1362.8 L790.0,1364.8 L790.3,1366.8 L790.6,1368.8 L790.8,1370.8 L791.1,1372.8 L791.3,1374.8 L791.5,1376.8 L791.7,1378.8 L791.8,1380.8 L792.0,1382.8 L792.1,1384.8 L792.2,1386.8 L792.2,1388.8 L792.3,1390.8 L792.3,1392.8 L792.3,1394.8 L792.3,1396.8 L792.3,1398.8 L792.3,1400.8 L792.2,1402.8 L792.2,1404.8 L792.1,1406.8 L792.0,1408.8 L791.8,1410.8 L791.7,1412.8 L791.6,1414.8 L791.4,1416.8 L791.2,1418.8 L791.0,1420.8 L790.8,1422.8 L790.6,1424.8 L790.4,1426.8 L790.1,1428.8 L789.9,1430.8 L789.6,1432.8 L789.3,1434.8 L789.0,1436.8 L788.8,1438.8 L788.5,1440.8 L788.1,1442.8 L787.8,1444.8 L787.5,1446.8 L787.2,1448.8 L786.8,1450.8 L786.5,1452.8 L786.1,1454.8 L785.8,1456.8 L785.4,1458.8 L785.0,1460.8 L784.7,1462.8 L784.3,1464.8 L783.9,1466.8 L783.5,1468.8 L783.2,1470.8 L782.8,1472.8 L782.4,1474.8 L782.0,1476.8 L781.6,1478.8 L781.2,1480.8 L780.8,1482.8 L780.4,1484.8 L780.0,1486.8 L779.6,1488.8 L779.2,1490.8 L778.8,1492.8 L778.4,1494.8 L778.0,1496.8 L777.6,1498.8 L777.2,1500.8 L776.8,1502.8 L776.4,1504.8 L776.0,1506.8 L775.6,1508.8 L775.2,1510.8 L774.8,1512.8 L774.4,1514.8 L774.0,1516.8 L773.6,1518.8 L773.2,1520.8 L772.8,1522.8 L772.4,1524.8 L772.0,1526.8 L771.6,1528.8 L771.2,1530.8 L770.9,1532.8 L770.5,1534.8 L770.1,1536.8 L769.7,1538.8 L769.3,1540.8 L768.9,1542.8 L768.6,1544.8 L768.2,1546.8 L767.8,1548.8 L767.4,1550.8 L767.1,1552.8 L766.7,1554.8 L766.3,1556.8 L766.0,1558.8 L765.6,1560.8 L765.2,1562.8 L764.9,1564.8 L764.5,1566.8 L764.1,1568.8 L763.8,1570.8 L763.4,1572.8 L763.1,1574.8 L762.7,1576.8 L762.4,1578.8 L762.0,1580.8 L761.7,1582.8 L761.3,1584.8 L761.0,1586.8 L760.6,1588.8 L760.3,1590.8 L759.9,1592.8 L759.6,1594.8 L759.3,1596.8 L758.9,1598.8 L758.6,1600.8 L758.2,1602.8 L757.9,1604.8 L757.6,1606.8 L757.3,1608.8 L756.9,1610.8 L756.6,1612.8 L756.3,1614.8 L756.0,1616.8 L755.6,1618.8 L755.3,1620.8 L755.0,1622.8 L754.7,1624.8 L754.4,1626.8 L754.0,1628.8 L753.7,1630.8 L753.4,1632.8 L753.1,1634.8 L752.8,1636.8 L752.5,1638.8 L752.2,1640.8 L751.9,1642.8 L751.6,1644.8 L751.3,1646.8 L751.0,1648.8 L750.7,1650.8 L750.4,1652.8 L750.1,1654.8 L749.8,1656.8 L749.5,1658.8 L749.2,1660.8 L748.9,1662.8 L748.6,1664.8 L748.3,1666.8 L748.0,1668.8 L747.7,1670.8 L747.4,1672.8 L747.1,1674.8 L746.8,1676.8 L746.5,1678.8 L746.2,1680.8 L745.9,1682.8 L745.7,1684.8 L745.4,1686.8 L745.1,1688.8 L744.8,1690.8 L744.5,1692.8 L744.2,1694.8 L743.9,1696.8 L743.6,1698.8 L743.3,1700.8 L743.0,1702.8 L742.7,1704.8 L742.4,1706.8 L742.1,1708.8 L741.8,1710.8 L741.5,1712.8 L741.2,1714.8 L740.9,1716.8 L740.6,1718.8 L740.3,1720.8 L740.0,1722.8 L739.7,1724.8 L739.4,1726.8 L739.1,1728.8 L738.8,1730.8 L738.5,1732.8 L738.2,1734.8 L737.9,1736.8 L737.5,1738.8 L737.2,1740.8 L736.9,1742.8 L736.6,1744.8 L736.3,1746.8 L736.0,1748.8 L735.6,1750.8 L735.3,1752.8 L735.0,1754.8 L734.7,1756.8 L734.3,1758.8 L734.0,1760.8 L733.7,1762.8 L733.4,1764.8 L733.0,1766.8 L732.7,1768.8 L732.4,1770.8 L732.0,1772.8 L731.7,1774.8 L731.4,1776.8 L731.0,1778.8 L730.7,1780.8 L730.3,1782.8 L730.0,1784.8 L729.7,1786.8 L729.3,1788.8 L729.0,1790.8 L728.6,1792.8 L728.3,1794.8 L728.0,1796.8 L727.6,1798.8 L727.3,1800.8 L727.0,1802.8 L726.6,1804.8 L726.3,1806.8 L725.9,1808.8 L725.6,1810.8 L725.3,1812.8 L724.9,1814.8 L724.6,1816.8 L724.3,1818.8 L723.9,1820.8 L723.6,1822.8 L723.3,1824.8 L722.9,1826.8 L722.6,1828.8 L722.3,1830.8 L722.0,1832.8 L721.6,1834.8 L721.3,1836.8 L721.0,1838.8 L720.7,1840.8 L720.4,1842.8 L720.1,1844.8 L719.8,1846.8 L719.5,1848.8 L719.1,1850.8 L718.8,1852.8 L718.6,1854.8 L718.3,1856.8 L718.0,1858.8 L717.7,1860.8 L717.4,1862.8 L717.1,1864.8 L716.8,1866.8 L716.6,1868.8 L716.3,1870.8 L716.0,1872.8 L715.7,1874.8 L715.5,1876.8 L715.2,1878.8 L715.0,1880.8 L714.7,1882.8 L714.5,1884.8 L714.2,1886.8 L714.0,1888.8 L713.8,1890.8 L713.5,1892.8 L713.3,1894.8 L713.1,1896.8 L712.8,1898.8 L712.6,1900.8 L712.4,1902.8 L712.2,1904.8 L712.0,1906.8 L711.8,1908.8 L711.6,1910.8 L711.4,1912.8 L711.3,1913.8 L705.1,1913.8 Z" fill="#FF0000" fill-opacity="0.9"/>
<path d="M705.1,1122.8 L707.4,1122.8 L707.6,1124.8 L707.7,1126.8 L707.8,1128.8 L708.0,1130.8 L708.2,1132.8 L708.3,1134.8 L708.5,1136.8 L708.7,1138.8 L708.9,1140.8 L709.1,1142.8 L709.3,1144.8 L709.5,1146.8 L709.8,1148.8 L710.0,1150.8 L710.3,1152.8 L710.5,1154.8 L710.8,1156.8 L711.1,1158.8 L711.4,1160.8 L711.7,1162.8 L712.0,1164.8 L712.4,1166.8 L712.7,1168.8 L713.1,1170.8 L713.5,1172.8 L713.8,1174.8 L714.3,1176.8 L714.7,1178.8 L715.1,1180.8 L715.6,1182.8 L716.0,1184.8 L716.5,1186.8 L717.0,1188.8 L717.6,1190.8 L718.1,1192.8 L718.7,1194.8 L719.2,1196.8 L719.8,1198.8 L720.4,1200.8 L721.1,1202.8 L721.7,1204.8 L722.4,1206.8 L723.1,1208.8 L723.8,1210.8 L724.6,1212.8 L725.3,1214.8 L726.1,1216.8 L726.9,1218.8 L727.7,1220.8 L728.6,1222.8 L729.4,1224.8 L730.3,1226.8 L731.3,1228.8 L732.2,1230.8 L733.2,1232.8 L734.1,1234.8 L735.1,1236.8 L736.2,1238.8 L737.2,1240.8 L738.3,1242.8 L739.4,1244.8 L740.5,1246.8 L741.6,1248.8 L742.8,1250.8 L744.0,1252.8 L745.2,1254.8 L746.4,1256.8 L747.6,1258.8 L748.8,1260.8 L750.1,1262.8 L751.4,1264.8 L752.7,1266.8 L754.0,1268.8 L755.3,1270.8 L756.6,1272.8 L758.0,1274.8 L759.3,1276.8 L760.7,1278.8 L762.0,1280.8 L763.4,1282.8 L764.7,1284.8 L766.1,1286.8 L767.5,1288.8 L768.8,1290.8 L770.2,1292.8 L771.6,1294.8 L772.9,1296.8 L774.2,1298.8 L775.6,1300.8 L776.9,1302.8 L778.2,1304.8 L779.5,1306.8 L780.8,1308.8 L782.0,1310.8 L783.3,1312.8 L784.5,1314.8 L785.7,1316.8 L786.9,1318.8 L788.0,1320.8 L789.2,1322.8 L790.3,1324.8 L791.3,1326.8 L792.4,1328.8 L793.4,1330.8 L794.4,1332.8 L795.4,1334.8 L796.3,1336.8 L797.2,1338.8 L798.1,1340.8 L798.9,1342.8 L799.7,1344.8 L800.5,1346.8 L801.2,1348.8 L801.9,1350.8 L802.6,1352.8 L803.2,1354.8 L803.8,1356.8 L804.4,1358.8 L804.9,1360.8 L805.4,1362.8 L805.9,1364.8 L806.4,1366.8 L806.8,1368.8 L807.1,1370.8 L807.5,1372.8 L807.8,1374.8 L808.1,1376.8 L808.3,1378.8 L808.5,1380.8 L808.7,1382.8 L808.8,1384.8 L809.0,1386.8 L809.1,1388.8 L809.1,1390.8 L809.2,1392.8 L809.2,1394.8 L809.1,1396.8 L809.1,1398.8 L809.0,1400.8 L808.9,1402.8 L808.8,1404.8 L808.6,1406.8 L808.4,1408.8 L808.2,1410.8 L808.0,1412.8 L807.8,1414.8 L807.5,1416.8 L807.2,1418.8 L806.9,1420.8 L806.5,1422.8 L806.2,1424.8 L805.8,1426.8 L805.4,1428.8 L804.9,1430.8 L804.5,1432.8 L804.0,1434.8 L803.6,1436.8 L803.1,1438.8 L802.6,1440.8 L802.1,1442.8 L801.5,1444.8 L801.0,1446.8 L800.4,1448.8 L799.8,1450.8 L799.3,1452.8 L798.7,1454.8 L798.1,1456.8 L797.5,1458.8 L796.8,1460.8 L796.2,1462.8 L795.6,1464.8 L794.9,1466.8 L794.3,1468.8 L793.7,1470.8 L793.0,1472.8 L792.4,1474.8 L791.7,1476.8 L791.1,1478.8 L790.4,1480.8 L789.7,1482.8 L789.1,1484.8 L788.4,1486.8 L787.8,1488.8 L787.2,1490.8 L786.5,1492.8 L785.9,1494.8 L785.2,1496.8 L784.6,1498.8 L784.0,1500.8 L783.4,1502.8 L782.8,1504.8 L782.1,1506.8 L781.5,1508.8 L781.0,1510.8 L780.4,1512.8 L779.8,1514.8 L779.2,1516.8 L778.7,1518.8 L778.1,1520.8 L777.6,1522.8 L777.0,1524.8 L776.5,1526.8 L776.0,1528.8 L775.4,1530.8 L774.9,1532.8 L774.4,1534.8 L773.9,1536.8 L773.5,1538.8 L773.0,1540.8 L772.5,1542.8 L772.0,1544.8 L771.6,1546.8 L771.1,1548.8 L770.7,1550.8 L770.3,1552.8 L769.8,1554.8 L769.4,1556.8 L769.0,1558.8 L768.6,1560.8 L768.2,1562.8 L767.8,1564.8 L767.3,1566.8 L767.0,1568.8 L766.6,1570.8 L766.2,1572.8 L765.8,1574.8 L765.4,1576.8 L765.0,1578.8 L764.6,1580.8 L764.3,1582.8 L763.9,1584.8 L763.5,1586.8 L763.1,1588.8 L762.7,1590.8 L762.4,1592.8 L762.0,1594.8 L761.6,1596.8 L761.2,1598.8 L760.8,1600.8 L760.5,1602.8 L760.1,1604.8 L759.7,1606.8 L759.3,1608.8 L758.9,1610.8 L758.5,1612.8 L758.1,1614.8 L757.7,1616.8 L757.3,1618.8 L756.9,1620.8 L756.5,1622.8 L756.1,1624.8 L755.6,1626.8 L755.2,1628.8 L754.8,1630.8 L754.4,1632.8 L753.9,1634.8 L753.5,1636.8 L753.0,1638.8 L752.6,1640.8 L752.1,1642.8 L751.7,1644.8 L751.2,1646.8 L750.7,1648.8 L750.2,1650.8 L749.8,1652.8 L749.3,1654.8 L748.8,1656.8 L748.3,1658.8 L747.8,1660.8 L747.3,1662.8 L746.8,1664.8 L746.3,1666.8 L745.8,1668.8 L745.3,1670.8 L744.8,1672.8 L744.3,1674.8 L743.7,1676.8 L743.2,1678.8 L742.7,1680.8 L742.2,1682.8 L741.6,1684.8 L741.1,1686.8 L740.6,1688.8 L740.0,1690.8 L739.5,1692.8 L739.0,1694.8 L738.4,1696.8 L737.9,1698.8 L737.3,1700.8 L736.8,1702.8 L736.3,1704.8 L735.7,1706.8 L735.2,1708.8 L734.7,1710.8 L734.1,1712.8 L733.6,1714.8 L733.1,1716.8 L732.6,1718.8 L732.0,1720.8 L731.5,1722.8 L731.0,1724.8 L730.5,1726.8 L730.0,1728.8 L729.4,1730.8 L728.9,1732.8 L728.4,1734.8 L727.9,1736.8 L727.4,1738.8 L727.0,1740.8 L726.5,1742.8 L726.0,1744.8 L725.5,1746.8 L725.0,1748.8 L724.6,1750.8 L724.1,1752.8 L723.7,1754.8 L723.2,1756.8 L722.8,1758.8 L722.3,1760.8 L721.9,1762.8 L721.5,1764.8 L721.0,1766.8 L720.6,1768.8 L720.2,1770.8 L719.8,1772.8 L719.4,1774.8 L719.0,1776.8 L718.7,1778.8 L718.3,1780.8 L717.9,1782.8 L717.5,1784.8 L717.2,1786.8 L716.8,1788.8 L716.5,1790.8 L716.2,1792.8 L715.8,1794.8 L715.5,1796.8 L715.2,1798.8 L714.9,1800.8 L714.6,1802.8 L714.3,1804.8 L714.0,1806.8 L713.7,1808.8 L713.4,1810.8 L713.2,1812.8 L712.9,1814.8 L712.6,1816.8 L712.4,1818.8 L712.1,1820.8 L711.9,1822.8 L711.7,1824.8 L711.4,1826.8 L711.2,1828.8 L711.0,1830.8 L710.8,1832.8 L710.6,1834.8 L710.4,1836.8 L710.2,1838.8 L710.0,1840.8 L709.8,1842.8 L709.7,1844.8 L709.5,1846.8 L709.3,1848.8 L709.2,1850.8 L709.0,1852.8 L708.9,1854.8 L708.7,1856.8 L708.6,1858.8 L708.4,1860.8 L708.3,1862.8 L708.2,1864.8 L708.1,1866.8 L707.9,1868.8 L707.8,1870.8 L707.7,1872.8 L707.6,1874.8 L707.5,1876.8 L707.4,1878.8 L707.3,1880.8 L707.2,1882.8 L707.1,1884.8 L707.0,1886.8 L706.9,1888.8 L706.9,1890.8 L706.8,1892.8 L706.7,1894.8 L706.6,1896.8 L706.6,1898.8 L706.5,1900.8 L706.4,1902.8 L706.4,1904.8 L706.3,1906.8 L706.3,1908.8 L706.2,1910.8 L706.2,1912.8 L706.1,1913.8 L705.1,1913.8 Z" fill="#00A087" fill-opacity="0.9"/>
<path d="M937.6,1122.0 L941.6,1122.0 L941.8,1124.0 L942.0,1126.0 L942.2,1128.0 L942.4,1130.0 L942.7,1132.0 L942.9,1134.0 L943.2,1136.0 L943.4,1138.0 L943.7,1140.0 L944.0,1142.0 L944.3,1144.0 L944.6,1146.0 L945.0,1148.0 L945.3,1150.0 L945.7,1152.0 L946.0,1154.0 L946.4,1156.0 L946.8,1158.0 L947.2,1160.0 L947.6,1162.0 L948.0,1164.0 L948.5,1166.0 L948.9,1168.0 L949.4,1170.0 L949.9,1172.0 L950.4,1174.0 L950.9,1176.0 L951.4,1178.0 L951.9,1180.0 L952.5,1182.0 L953.1,1184.0 L953.6,1186.0 L954.2,1188.0 L954.8,1190.0 L955.5,1192.0 L956.1,1194.0 L956.8,1196.0 L957.4,1198.0 L958.1,1200.0 L958.8,1202.0 L959.5,1204.0 L960.3,1206.0 L961.0,1208.0 L961.7,1210.0 L962.5,1212.0 L963.3,1214.0 L964.1,1216.0 L964.9,1218.0 L965.7,1220.0 L966.5,1222.0 L967.3,1224.0 L968.2,1226.0 L969.0,1228.0 L969.9,1230.0 L970.8,1232.0 L971.7,1234.0 L972.6,1236.0 L973.5,1238.0 L974.4,1240.0 L975.3,1242.0 L976.2,1244.0 L977.1,1246.0 L978.0,1248.0 L979.0,1250.0 L979.9,1252.0 L980.9,1254.0 L981.8,1256.0 L982.7,1258.0 L983.7,1260.0 L984.6,1262.0 L985.6,1264.0 L986.5,1266.0 L987.5,1268.0 L988.4,1270.0 L989.3,1272.0 L990.3,1274.0 L991.2,1276.0 L992.1,1278.0 L993.0,1280.0 L993.9,1282.0 L994.8,1284.0 L995.7,1286.0 L996.6,1288.0 L997.5,1290.0 L998.3,1292.0 L999.2,1294.0 L1000.0,1296.0 L1000.9,1298.0 L1001.7,1300.0 L1002.5,1302.0 L1003.3,1304.0 L1004.0,1306.0 L1004.8,1308.0 L1005.5,1310.0 L1006.3,1312.0 L1007.0,1314.0 L1007.7,1316.0 L1008.4,1318.0 L1009.0,1320.0 L1009.7,1322.0 L1010.3,1324.0 L1010.9,1326.0 L1011.5,1328.0 L1012.1,1330.0 L1012.7,1332.0 L1013.2,1334.0 L1013.7,1336.0 L1014.2,1338.0 L1014.7,1340.0 L1015.2,1342.0 L1015.6,1344.0 L1016.1,1346.0 L1016.5,1348.0 L1016.9,1350.0 L1017.3,1352.0 L1017.6,1354.0 L1018.0,1356.0 L1018.3,1358.0 L1018.6,1360.0 L1018.9,1362.0 L1019.2,1364.0 L1019.4,1366.0 L1019.7,1368.0 L1019.9,1370.0 L1020.2,1372.0 L1020.4,1374.0 L1020.5,1376.0 L1020.7,1378.0 L1020.9,1380.0 L1021.0,1382.0 L1021.2,1384.0 L1021.3,1386.0 L1021.4,1388.0 L1021.5,1390.0 L1021.6,1392.0 L1021.7,1394.0 L1021.8,1396.0 L1021.9,1398.0 L1021.9,1400.0 L1022.0,1402.0 L1022.0,1404.0 L1022.0,1406.0 L1022.1,1408.0 L1022.1,1410.0 L1022.1,1412.0 L1022.1,1414.0 L1022.1,1416.0 L1022.1,1418.0 L1022.1,1420.0 L1022.1,1422.0 L1022.1,1424.0 L1022.1,1426.0 L1022.0,1428.0 L1022.0,1430.0 L1022.0,1432.0 L1021.9,1434.0 L1021.9,1436.0 L1021.9,1438.0 L1021.8,1440.0 L1021.8,1442.0 L1021.7,1444.0 L1021.7,1446.0 L1021.6,1448.0 L1021.6,1450.0 L1021.5,1452.0 L1021.4,1454.0 L1021.4,1456.0 L1021.3,1458.0 L1021.2,1460.0 L1021.2,1462.0 L1021.1,1464.0 L1021.0,1466.0 L1020.9,1468.0 L1020.9,1470.0 L1020.8,1472.0 L1020.7,1474.0 L1020.6,1476.0 L1020.5,1478.0 L1020.4,1480.0 L1020.3,1482.0 L1020.2,1484.0 L1020.1,1486.0 L1020.0,1488.0 L1019.9,1490.0 L1019.8,1492.0 L1019.6,1494.0 L1019.5,1496.0 L1019.4,1498.0 L1019.2,1500.0 L1019.1,1502.0 L1018.9,1504.0 L1018.8,1506.0 L1018.6,1508.0 L1018.4,1510.0 L1018.3,1512.0 L1018.1,1514.0 L1017.9,1516.0 L1017.7,1518.0 L1017.5,1520.0 L1017.3,1522.0 L1017.1,1524.0 L1016.8,1526.0 L1016.6,1528.0 L1016.3,1530.0 L1016.1,1532.0 L1015.8,1534.0 L1015.6,1536.0 L1015.3,1538.0 L1015.0,1540.0 L1014.7,1542.0 L1014.4,1544.0 L1014.1,1546.0 L1013.8,1548.0 L1013.4,1550.0 L1013.1,1552.0 L1012.7,1554.0 L1012.4,1556.0 L1012.0,1558.0 L1011.6,1560.0 L1011.2,1562.0 L1010.8,1564.0 L1010.4,1566.0 L1010.0,1568.0 L1009.6,1570.0 L1009.2,1572.0 L1008.7,1574.0 L1008.3,1576.0 L1007.8,1578.0 L1007.4,1580.0 L1006.9,1582.0 L1006.4,1584.0 L1005.9,1586.0 L1005.4,1588.0 L1004.9,1590.0 L1004.4,1592.0 L1003.9,1594.0 L1003.4,1596.0 L1002.9,1598.0 L1002.3,1600.0 L1001.8,1602.0 L1001.2,1604.0 L1000.7,1606.0 L1000.1,1608.0 L999.5,1610.0 L999.0,1612.0 L998.4,1614.0 L997.8,1616.0 L997.2,1618.0 L996.6,1620.0 L996.0,1622.0 L995.4,1624.0 L994.8,1626.0 L994.2,1628.0 L993.6,1630.0 L993.0,1632.0 L992.4,1634.0 L991.7,1636.0 L991.1,1638.0 L990.5,1640.0 L989.9,1642.0 L989.2,1644.0 L988.6,1646.0 L988.0,1648.0 L987.4,1650.0 L986.7,1652.0 L986.1,1654.0 L985.5,1656.0 L984.8,1658.0 L984.2,1660.0 L983.6,1662.0 L982.9,1664.0 L982.3,1666.0 L981.7,1668.0 L981.1,1670.0 L980.5,1672.0 L979.8,1674.0 L979.2,1676.0 L978.6,1678.0 L978.0,1680.0 L977.4,1682.0 L976.8,1684.0 L976.2,1686.0 L975.6,1688.0 L975.0,1690.0 L974.4,1692.0 L973.8,1694.0 L973.2,1696.0 L972.6,1698.0 L972.1,1700.0 L971.5,1702.0 L970.9,1704.0 L970.4,1706.0 L969.8,1708.0 L969.2,1710.0 L968.7,1712.0 L968.1,1714.0 L967.6,1716.0 L967.1,1718.0 L966.6,1720.0 L966.0,1722.0 L965.5,1724.0 L965.0,1726.0 L964.5,1728.0 L964.0,1730.0 L963.5,1732.0 L963.0,1734.0 L962.5,1736.0 L962.1,1738.0 L961.6,1740.0 L961.1,1742.0 L960.7,1744.0 L960.2,1746.0 L959.8,1748.0 L959.3,1750.0 L958.9,1752.0 L958.5,1754.0 L958.1,1756.0 L957.6,1758.0 L957.2,1760.0 L956.8,1762.0 L956.4,1764.0 L956.0,1766.0 L955.7,1768.0 L955.3,1770.0 L954.9,1772.0 L954.5,1774.0 L954.2,1776.0 L953.8,1778.0 L953.5,1780.0 L953.1,1782.0 L952.8,1784.0 L952.5,1786.0 L952.1,1788.0 L951.8,1790.0 L951.5,1792.0 L951.2,1794.0 L950.9,1796.0 L950.6,1798.0 L950.3,1800.0 L950.0,1802.0 L949.7,1804.0 L949.5,1806.0 L949.2,1808.0 L948.9,1810.0 L948.7,1812.0 L948.4,1814.0 L948.2,1816.0 L947.9,1818.0 L947.7,1820.0 L947.4,1822.0 L947.2,1824.0 L947.0,1826.0 L946.8,1828.0 L946.5,1830.0 L946.3,1832.0 L946.1,1834.0 L945.9,1836.0 L945.7,1838.0 L945.5,1840.0 L945.3,1842.0 L945.1,1844.0 L945.0,1846.0 L944.8,1848.0 L944.6,1850.0 L944.4,1852.0 L944.3,1854.0 L944.1,1856.0 L943.9,1858.0 L943.8,1860.0 L943.6,1862.0 L943.5,1864.0 L943.3,1866.0 L943.2,1868.0 L943.1,1870.0 L942.9,1872.0 L942.8,1874.0 L942.7,1876.0 L942.5,1878.0 L942.4,1880.0 L942.3,1882.0 L942.2,1884.0 L942.0,1886.0 L941.9,1888.0 L941.8,1890.0 L941.7,1892.0 L941.6,1894.0 L941.5,1896.0 L941.4,1898.0 L941.3,1900.0 L941.2,1902.0 L941.1,1904.0 L941.0,1906.0 L940.9,1908.0 L940.8,1910.0 L940.8,1912.0 L940.7,1914.0 L940.6,1914.6 L937.6,1914.6 Z" fill="#FF0000" fill-opacity="0.9"/>
<path d="M937.6,1131.3 L943.0,1131.3 L943.3,1133.3 L943.6,1135.3 L943.9,1137.3 L944.2,1139.3 L944.6,1141.3 L945.0,1143.3 L945.4,1145.3 L945.8,1147.3 L946.2,1149.3 L946.6,1151.3 L947.1,1153.3 L947.5,1155.3 L948.0,1157.3 L948.5,1159.3 L949.0,1161.3 L949.6,1163.3 L950.1,1165.3 L950.7,1167.3 L951.3,1169.3 L951.9,1171.3 L952.6,1173.3 L953.2,1175.3 L953.9,1177.3 L954.6,1179.3 L955.3,1181.3 L956.1,1183.3 L956.8,1185.3 L957.6,1187.3 L958.4,1189.3 L959.2,1191.3 L960.1,1193.3 L960.9,1195.3 L961.8,1197.3 L962.7,1199.3 L963.6,1201.3 L964.6,1203.3 L965.5,1205.3 L966.5,1207.3 L967.5,1209.3 L968.5,1211.3 L969.5,1213.3 L970.6,1215.3 L971.6,1217.3 L972.7,1219.3 L973.8,1221.3 L974.9,1223.3 L976.0,1225.3 L977.1,1227.3 L978.3,1229.3 L979.4,1231.3 L980.6,1233.3 L981.7,1235.3 L982.9,1237.3 L984.1,1239.3 L985.3,1241.3 L986.5,1243.3 L987.7,1245.3 L988.8,1247.3 L990.0,1249.3 L991.2,1251.3 L992.4,1253.3 L993.6,1255.3 L994.8,1257.3 L996.0,1259.3 L997.2,1261.3 L998.3,1263.3 L999.5,1265.3 L1000.6,1267.3 L1001.8,1269.3 L1002.9,1271.3 L1004.0,1273.3 L1005.2,1275.3 L1006.3,1277.3 L1007.3,1279.3 L1008.4,1281.3 L1009.4,1283.3 L1010.5,1285.3 L1011.5,1287.3 L1012.5,1289.3 L1013.5,1291.3 L1014.4,1293.3 L1015.3,1295.3 L1016.3,1297.3 L1017.1,1299.3 L1018.0,1301.3 L1018.9,1303.3 L1019.7,1305.3 L1020.5,1307.3 L1021.2,1309.3 L1022.0,1311.3 L1022.7,1313.3 L1023.4,1315.3 L1024.1,1317.3 L1024.7,1319.3 L1025.4,1321.3 L1026.0,1323.3 L1026.5,1325.3 L1027.1,1327.3 L1027.6,1329.3 L1028.1,1331.3 L1028.6,1333.3 L1029.0,1335.3 L1029.5,1337.3 L1029.9,1339.3 L1030.3,1341.3 L1030.6,1343.3 L1031.0,1345.3 L1031.3,1347.3 L1031.6,1349.3 L1031.9,1351.3 L1032.2,1353.3 L1032.4,1355.3 L1032.6,1357.3 L1032.9,1359.3 L1033.1,1361.3 L1033.2,1363.3 L1033.4,1365.3 L1033.6,1367.3 L1033.7,1369.3 L1033.8,1371.3 L1033.9,1373.3 L1034.0,1375.3 L1034.1,1377.3 L1034.2,1379.3 L1034.3,1381.3 L1034.3,1383.3 L1034.4,1385.3 L1034.4,1387.3 L1034.5,1389.3 L1034.5,1391.3 L1034.5,1393.3 L1034.5,1395.3 L1034.5,1397.3 L1034.5,1399.3 L1034.5,1401.3 L1034.5,1403.3 L1034.5,1405.3 L1034.5,1407.3 L1034.4,1409.3 L1034.4,1411.3 L1034.4,1413.3 L1034.3,1415.3 L1034.3,1417.3 L1034.2,1419.3 L1034.2,1421.3 L1034.1,1423.3 L1034.0,1425.3 L1034.0,1427.3 L1033.9,1429.3 L1033.8,1431.3 L1033.7,1433.3 L1033.6,1435.3 L1033.5,1437.3 L1033.4,1439.3 L1033.3,1441.3 L1033.2,1443.3 L1033.1,1445.3 L1033.0,1447.3 L1032.8,1449.3 L1032.7,1451.3 L1032.5,1453.3 L1032.4,1455.3 L1032.2,1457.3 L1032.0,1459.3 L1031.9,1461.3 L1031.7,1463.3 L1031.5,1465.3 L1031.3,1467.3 L1031.0,1469.3 L1030.8,1471.3 L1030.5,1473.3 L1030.3,1475.3 L1030.0,1477.3 L1029.7,1479.3 L1029.5,1481.3 L1029.1,1483.3 L1028.8,1485.3 L1028.5,1487.3 L1028.2,1489.3 L1027.8,1491.3 L1027.4,1493.3 L1027.0,1495.3 L1026.6,1497.3 L1026.2,1499.3 L1025.8,1501.3 L1025.4,1503.3 L1024.9,1505.3 L1024.4,1507.3 L1024.0,1509.3 L1023.5,1511.3 L1023.0,1513.3 L1022.4,1515.3 L1021.9,1517.3 L1021.3,1519.3 L1020.8,1521.3 L1020.2,1523.3 L1019.6,1525.3 L1019.0,1527.3 L1018.4,1529.3 L1017.7,1531.3 L1017.1,1533.3 L1016.4,1535.3 L1015.8,1537.3 L1015.1,1539.3 L1014.4,1541.3 L1013.7,1543.3 L1012.9,1545.3 L1012.2,1547.3 L1011.5,1549.3 L1010.7,1551.3 L1010.0,1553.3 L1009.2,1555.3 L1008.4,1557.3 L1007.6,1559.3 L1006.8,1561.3 L1006.0,1563.3 L1005.2,1565.3 L1004.4,1567.3 L1003.6,1569.3 L1002.8,1571.3 L1001.9,1573.3 L1001.1,1575.3 L1000.2,1577.3 L999.4,1579.3 L998.5,1581.3 L997.7,1583.3 L996.8,1585.3 L996.0,1587.3 L995.1,1589.3 L994.2,1591.3 L993.4,1593.3 L992.5,1595.3 L991.6,1597.3 L990.7,1599.3 L989.9,1601.3 L989.0,1603.3 L988.1,1605.3 L987.3,1607.3 L986.4,1609.3 L985.6,1611.3 L984.7,1613.3 L983.8,1615.3 L983.0,1617.3 L982.1,1619.3 L981.3,1621.3 L980.5,1623.3 L979.6,1625.3 L978.8,1627.3 L978.0,1629.3 L977.2,1631.3 L976.4,1633.3 L975.6,1635.3 L974.8,1637.3 L974.0,1639.3 L973.2,1641.3 L972.4,1643.3 L971.7,1645.3 L970.9,1647.3 L970.2,1649.3 L969.4,1651.3 L968.7,1653.3 L968.0,1655.3 L967.3,1657.3 L966.5,1659.3 L965.9,1661.3 L965.2,1663.3 L964.5,1665.3 L963.8,1667.3 L963.2,1669.3 L962.5,1671.3 L961.9,1673.3 L961.3,1675.3 L960.6,1677.3 L960.0,1679.3 L959.4,1681.3 L958.9,1683.3 L958.3,1685.3 L957.7,1687.3 L957.2,1689.3 L956.6,1691.3 L956.1,1693.3 L955.6,1695.3 L955.1,1697.3 L954.6,1699.3 L954.1,1701.3 L953.6,1703.3 L953.1,1705.3 L952.7,1707.3 L952.2,1709.3 L951.8,1711.3 L951.3,1713.3 L950.9,1715.3 L950.5,1717.3 L950.1,1719.3 L949.7,1721.3 L949.3,1723.3 L949.0,1725.3 L948.6,1727.3 L948.3,1729.3 L947.9,1731.3 L947.6,1733.3 L947.3,1735.3 L947.0,1737.3 L946.7,1739.3 L946.4,1741.3 L946.1,1743.3 L945.8,1745.3 L945.5,1747.3 L945.3,1749.3 L945.0,1751.3 L944.8,1753.3 L944.5,1755.3 L944.3,1757.3 L944.1,1759.3 L943.9,1761.3 L943.7,1763.3 L943.5,1765.3 L943.3,1767.3 L943.1,1769.3 L943.0,1771.3 L942.8,1773.3 L942.6,1775.3 L942.5,1777.3 L942.4,1779.3 L942.2,1781.3 L942.1,1783.3 L942.0,1785.3 L941.9,1787.3 L941.7,1789.3 L941.6,1791.3 L941.5,1793.3 L941.5,1795.3 L941.4,1797.3 L941.3,1799.3 L941.2,1801.3 L941.2,1803.3 L941.1,1805.3 L941.0,1807.3 L941.0,1809.3 L940.9,1811.3 L940.9,1813.3 L940.8,1815.3 L940.8,1817.3 L940.8,1819.3 L940.7,1821.3 L940.7,1823.3 L940.7,1825.3 L940.7,1827.3 L940.7,1829.3 L940.7,1831.3 L940.6,1833.3 L940.6,1835.3 L940.6,1837.3 L940.6,1839.3 L940.6,1841.3 L940.6,1843.3 L940.6,1845.3 L940.6,1847.3 L940.6,1849.3 L940.6,1851.3 L940.6,1853.3 L940.6,1855.3 L940.7,1857.3 L940.7,1859.3 L940.7,1861.3 L940.7,1863.3 L940.7,1865.3 L940.7,1867.3 L940.7,1869.3 L940.7,1871.3 L940.7,1873.3 L940.7,1875.3 L940.7,1877.3 L940.7,1879.3 L940.7,1881.3 L940.7,1883.3 L940.7,1885.3 L940.7,1887.3 L940.6,1889.3 L940.6,1891.3 L940.6,1893.3 L940.6,1895.3 L940.6,1897.3 L940.6,1899.3 L940.5,1901.3 L940.5,1903.3 L940.5,1905.3 L940.4,1907.3 L940.4,1909.3 L940.4,1911.3 L940.3,1913.3 L940.3,1914.6 L937.6,1914.6 Z" fill="#00A087" fill-opacity="0.9"/>
<line x1="239.6" y1="1459.1" x2="239.6" y2="1492.4" stroke="#000" stroke-width="1.6"/>
<line x1="231.0" y1="1459.1" x2="248.2" y2="1459.1" stroke="#000" stroke-width="1.6"/>
<line x1="231.0" y1="1492.4" x2="248.2" y2="1492.4" stroke="#000" stroke-width="1.6"/>
<path d="M235.8,1475.9 L239.6,1472.5 L243.4,1475.9 L239.6,1479.3000000000002 Z" fill="#000"/>
<line x1="239.6" y1="1495.8" x2="239.6" y2="1529.3" stroke="#000" stroke-width="1.6"/>
<line x1="231.0" y1="1495.8" x2="248.2" y2="1495.8" stroke="#000" stroke-width="1.6"/>
<line x1="231.0" y1="1529.3" x2="248.2" y2="1529.3" stroke="#000" stroke-width="1.6"/>
<path d="M235.8,1512.8 L239.6,1509.3999999999999 L243.4,1512.8 L239.6,1516.2 Z" fill="#000"/>
<line x1="472.2" y1="1452.7" x2="472.2" y2="1496.0" stroke="#000" stroke-width="1.6"/>
<line x1="463.6" y1="1452.7" x2="480.8" y2="1452.7" stroke="#000" stroke-width="1.6"/>
<line x1="463.6" y1="1496.0" x2="480.8" y2="1496.0" stroke="#000" stroke-width="1.6"/>
<path d="M468.4,1474.4 L472.2,1471.0 L476.0,1474.4 L472.2,1477.8000000000002 Z" fill="#000"/>
<line x1="472.2" y1="1484.8" x2="472.2" y2="1526.5" stroke="#000" stroke-width="1.6"/>
<line x1="463.6" y1="1484.8" x2="480.8" y2="1484.8" stroke="#000" stroke-width="1.6"/>
<line x1="463.6" y1="1526.5" x2="480.8" y2="1526.5" stroke="#000" stroke-width="1.6"/>
<path d="M468.4,1505.7 L472.2,1502.3 L476.0,1505.7 L472.2,1509.1000000000001 Z" fill="#000"/>
<line x1="704.9" y1="1443.4" x2="704.9" y2="1481.7" stroke="#000" stroke-width="1.6"/>
<line x1="696.3" y1="1443.4" x2="713.5" y2="1443.4" stroke="#000" stroke-width="1.6"/>
<line x1="696.3" y1="1481.7" x2="713.5" y2="1481.7" stroke="#000" stroke-width="1.6"/>
<path d="M701.1,1462.5 L704.9,1459.1 L708.7,1462.5 L704.9,1465.9 Z" fill="#000"/>
<line x1="704.9" y1="1464.4" x2="704.9" y2="1506.4" stroke="#000" stroke-width="1.6"/>
<line x1="696.3" y1="1464.4" x2="713.5" y2="1464.4" stroke="#000" stroke-width="1.6"/>
<line x1="696.3" y1="1506.4" x2="713.5" y2="1506.4" stroke="#000" stroke-width="1.6"/>
<path d="M701.1,1485.5 L704.9,1482.1 L708.7,1485.5 L704.9,1488.9 Z" fill="#000"/>
<line x1="937.7" y1="1421.1" x2="937.7" y2="1455.7" stroke="#000" stroke-width="1.6"/>
<line x1="929.1" y1="1421.1" x2="946.3" y2="1421.1" stroke="#000" stroke-width="1.6"/>
<line x1="929.1" y1="1455.7" x2="946.3" y2="1455.7" stroke="#000" stroke-width="1.6"/>
<path d="M933.9,1438.4 L937.7,1435.0 L941.5,1438.4 L937.7,1441.8000000000002 Z" fill="#000"/>
<line x1="937.7" y1="1457.2" x2="937.7" y2="1490.8" stroke="#000" stroke-width="1.6"/>
<line x1="929.1" y1="1457.2" x2="946.3" y2="1457.2" stroke="#000" stroke-width="1.6"/>
<line x1="929.1" y1="1490.8" x2="946.3" y2="1490.8" stroke="#000" stroke-width="1.6"/>
<path d="M933.9,1474.0 L937.7,1470.6 L941.5,1474.0 L937.7,1477.4 Z" fill="#000"/>
<polyline points="239.6,1475.9 472.2,1474.4 704.9,1462.5 937.7,1438.4" fill="none" stroke="#00A087" stroke-width="3.8" stroke-dasharray="3.85 11.5"/>
<polyline points="239.6,1512.8 472.2,1505.7 704.9,1485.5 937.7,1474.0" fill="none" stroke="#FF0000" stroke-width="3.8" stroke-dasharray="3.85 11.5"/>
<line x1="76.75" y1="1082" x2="76.75" y2="1956.00" stroke="#000" stroke-width="2.5"/>
<line x1="75.50" y1="1954.75" x2="1054" y2="1954.75" stroke="#000" stroke-width="2.5"/>
<line x1="70" y1="1916.0" x2="75.5" y2="1916.0" stroke="#333333" stroke-width="2.2"/>
<path d="M57.9,1903.4 L57.9,1927.9 L54.4,1927.9 L54.4,1909.0 C52.9,1910.4 50.9,1911.6 48.7,1912.4 L48.7,1909.2 C51.4,1908.0 53.9,1905.9 55.4,1903.4 Z" fill="#454545"/>
<line x1="70" y1="1810.1" x2="75.5" y2="1810.1" stroke="#333333" stroke-width="2.2"/>
<text transform="translate(64.00,1822.10) scale(1.0,1.04)" x="0" y="0" text-anchor="end" font-size="34" fill="#454545">2</text>
<line x1="70" y1="1704.2" x2="75.5" y2="1704.2" stroke="#333333" stroke-width="2.2"/>
<text transform="translate(64.00,1716.20) scale(1.0,1.04)" x="0" y="0" text-anchor="end" font-size="34" fill="#454545">3</text>
<line x1="70" y1="1598.3" x2="75.5" y2="1598.3" stroke="#333333" stroke-width="2.2"/>
<text transform="translate(64.00,1610.30) scale(1.0,1.04)" x="0" y="0" text-anchor="end" font-size="34" fill="#454545">4</text>
<line x1="70" y1="1492.4" x2="75.5" y2="1492.4" stroke="#333333" stroke-width="2.2"/>
<text transform="translate(64.00,1504.40) scale(1.0,1.04)" x="0" y="0" text-anchor="end" font-size="34" fill="#454545">5</text>
<line x1="70" y1="1386.5" x2="75.5" y2="1386.5" stroke="#333333" stroke-width="2.2"/>
<text transform="translate(64.00,1398.50) scale(1.0,1.04)" x="0" y="0" text-anchor="end" font-size="34" fill="#454545">6</text>
<line x1="70" y1="1280.6" x2="75.5" y2="1280.6" stroke="#333333" stroke-width="2.2"/>
<text transform="translate(64.00,1292.60) scale(1.0,1.04)" x="0" y="0" text-anchor="end" font-size="34" fill="#454545">7</text>
<line x1="217" y1="1956.0" x2="217" y2="1962.0" stroke="#333333" stroke-width="2.2"/>
<text transform="translate(216.30,1994.00) scale(1.0,1.04)" x="0" y="0" text-anchor="middle" font-size="34" fill="#454545">Under 35</text>
<line x1="449" y1="1956.0" x2="449" y2="1962.0" stroke="#333333" stroke-width="2.2"/>
<text transform="translate(448.30,1994.00) scale(1.0,1.04)" x="0" y="0" text-anchor="middle" font-size="34" fill="#454545">35-44</text>
<line x1="681.5" y1="1956.0" x2="681.5" y2="1962.0" stroke="#333333" stroke-width="2.2"/>
<text transform="translate(680.80,1994.00) scale(1.0,1.04)" x="0" y="0" text-anchor="middle" font-size="34" fill="#454545">45-54</text>
<line x1="915" y1="1956.0" x2="915" y2="1962.0" stroke="#333333" stroke-width="2.2"/>
<text transform="translate(914.30,1994.00) scale(1.0,1.04)" x="0" y="0" text-anchor="middle" font-size="34" fill="#454545">55 And Over</text>
<text transform="translate(566.00,2031.80) scale(1.0,1.04)" x="0" y="0" text-anchor="middle" font-size="34" fill="#000">Age Group</text>
<text transform="translate(31.5,1519.2) rotate(-90) scale(1,1.04)" x="0" y="0" text-anchor="middle" font-size="34.45" fill="#000">Subjective Well-being (Mean)</text>
<text transform="translate(1024.9,1137.2) scale(0.84,1)" x="0" y="0" text-anchor="middle" font-size="62.4" font-weight="bold" fill="#000" stroke="#000" stroke-width="1.2" stroke-linejoin="round">B</text>
<text transform="translate(519.00,2110.30) scale(1.0,1.04)" x="0" y="0" font-size="34" fill="#000">Prosocial Behavior</text>
<rect x="820.2" y="2082.1" width="32" height="31.5" fill="#FF0000" fill-opacity="0.9"/>
<line x1="836.4000000000001" y1="2084.2" x2="836.4000000000001" y2="2089.7" stroke="#000" stroke-width="1.7"/>
<line x1="836.4000000000001" y1="2106.5" x2="836.4000000000001" y2="2112.4" stroke="#000" stroke-width="1.7"/>
<rect x="823.8" y="2089.7" width="25.6" height="16.8" fill="#FF0000" fill-opacity="0.8" stroke="#000" stroke-width="1.8"/>
<line x1="823.8" y1="2098.0" x2="849.4" y2="2098.0" stroke="#000" stroke-width="1.8"/>
<path d="M832.4,2098.0 L836.4000000000001,2094.6 L840.4,2098.0 L836.4000000000001,2101.4 Z" fill="#000"/>
<rect x="822.7" y="2096.0" width="4.2" height="4.2" fill="#FF0000"/>
<rect x="838.2" y="2096.0" width="4.2" height="4.2" fill="#FF0000"/>
<text transform="translate(870.00,2110.30) scale(1.0,1.04)" x="0" y="0" font-size="34" fill="#000">No</text>
<rect x="932.0" y="2082.1" width="32" height="31.5" fill="#00A087" fill-opacity="0.9"/>
<line x1="948.2" y1="2084.2" x2="948.2" y2="2089.7" stroke="#000" stroke-width="1.7"/>
<line x1="948.2" y1="2106.5" x2="948.2" y2="2112.4" stroke="#000" stroke-width="1.7"/>
<rect x="935.6" y="2089.7" width="25.6" height="16.8" fill="#00A087" fill-opacity="0.8" stroke="#000" stroke-width="1.8"/>
<line x1="935.6" y1="2098.0" x2="961.2" y2="2098.0" stroke="#000" stroke-width="1.8"/>
<path d="M944.2,2098.0 L948.2,2094.6 L952.2,2098.0 L948.2,2101.4 Z" fill="#000"/>
<rect x="934.5" y="2096.0" width="4.2" height="4.2" fill="#00A087"/>
<rect x="950.0" y="2096.0" width="4.2" height="4.2" fill="#00A087"/>
<text transform="translate(980.00,2110.60) scale(1.06,1.04)" x="0" y="0" font-size="34" fill="#000">Yes</text>
</g>
</svg>
</body></html>
